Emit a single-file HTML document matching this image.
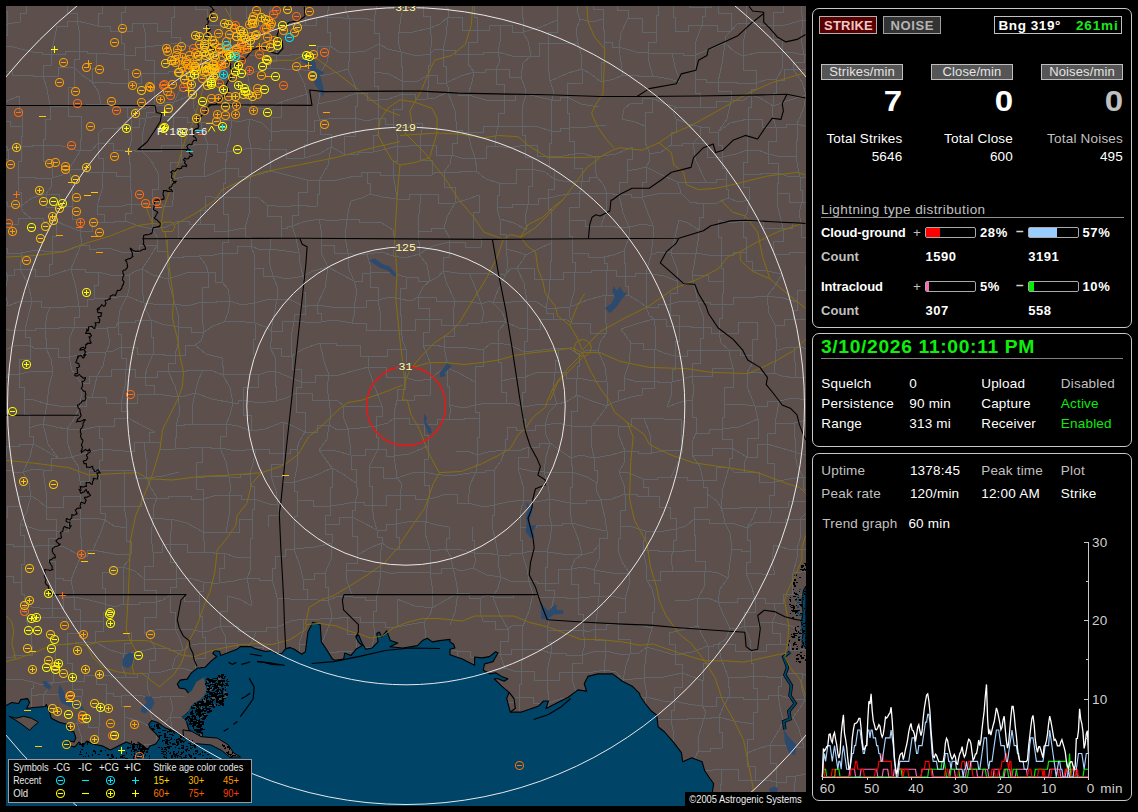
<!DOCTYPE html>
<html><head><meta charset="utf-8"><title>Lightning</title>
<style>
html,body{margin:0;padding:0;background:#000;}
body{width:1138px;height:812px;position:relative;overflow:hidden;font-family:"Liberation Sans",sans-serif;}
.t{position:absolute;white-space:nowrap;font-family:"Liberation Sans",sans-serif;}
.panel{position:absolute;border:1px solid #c8c8c8;border-radius:7px;box-sizing:border-box;}
.btn{position:absolute;box-sizing:border-box;border:1px solid #bdbdbd;background:#555;}
.bar{position:absolute;box-sizing:border-box;border:1px solid #aaa;border-radius:2px;height:11px;width:51px;background:#000;}
.bar i{position:absolute;left:0;top:0;bottom:0;display:block;}
#map{position:absolute;left:6px;top:6px;width:800px;height:800px;overflow:hidden;background:#5d504c;}
</style></head><body>

<div id="map"><svg width="800" height="800" viewBox="6 6 800 800" style="position:absolute;left:0;top:0;display:block;">
<rect x="6" y="6" width="800" height="800" fill="#5d504c"/>
<path d="M-23,-33L-7,-28L6,-28M-23,-33L-24,-18L-29,-4M-29,-4H-13V-2H2M-29,-4L-26,9L-21,28M-21,28H-7V24H7M-21,28V36H-19V43M-19,43H-11V46H-4M-19,43L-22,55L-26,67M-26,67L-15,72L1,71M-30,100L-14,104L1,106M-30,100V110H-33V120M-23,151H-7V150H8M-23,151L-25,165L-29,176M-29,176L-27,183L-20,192M-20,192L-11,197L-6,202M-20,192V210H-20V228M-20,228H-8V224H5M-20,228V236H-28V244M-28,244L-18,246L-7,248M-28,244V258H-18V272M-18,272L-4,276L8,275M-18,272L-23,284L-32,294M-32,294L-14,299L8,306M-32,294V310H-19V327M-19,327H-14V329H-8M-19,327L-19,341L-20,354M-20,354H-9V351H3M-20,354V368H-24V383M-24,383L-16,382L-4,377M-24,383V392H-27V401M-27,401L-15,399L-6,399M-27,401V414H-20V427M-20,427L-11,429L-1,432M-20,427V439H-19V451M-19,451L-9,449L6,446M-19,451L-20,457L-22,468M-22,468L-26,480L-29,497M-29,497V509H-32V521M-32,521L-33,533L-31,546M-31,546L-17,545L2,544M-31,546V560H-23V573M-23,573H-9V576H4M-27,595L-29,616L-29,632M-29,632H-18V622H-8M-29,632L-25,641L-23,652M-23,652L-15,654L-8,657M-23,652L-24,667L-30,679M-30,679L-13,678L6,680M-30,679V688H-30V698M-17,727H-6V732H6M-17,727V740H-24V753M-24,753H-15V750H-7M-24,753L-24,769L-20,779M-20,779L-11,782L-7,779M-20,779V786H-29V793M-29,793H-13V794H4M-29,793L-31,809L-28,821M-28,821H-14V826H-0M-28,821V839H-30V857M6,-28L14,-27L24,-30M6,-28V-15H2V-2M2,-2L12,-1L26,4M2,-2V11H7V24M7,24L13,23L20,22M7,24V35H-4V46M-4,46L13,47L33,52M-4,46V59H1V71M1,71H12V75H24M1,71V89H1V106M1,106L9,100L19,96M1,106V113H-2V121M-2,121H10V126H22M-2,121L3,137L8,150M8,150L16,146L21,146M8,150V159H-7V168M-7,168V185H-6V202M-6,202H7V206H21M-6,202V213H5V224M5,224H18V218H31M5,224L1,236L-7,248M-7,248H7V253H21M-7,248L-2,262L8,275M8,275H14V269H20M8,275L5,292L8,306M8,306L18,302L32,301M-8,329H8V330H25M-8,329L-3,340L3,351M3,351L14,346L30,345M-4,377H7V374H19M-4,377V388H-6V399M-6,399L-3,416L-1,432M-1,432L1,438L6,446M6,446H19V444H33M6,446L6,458L0,470M0,470H12V472H23M7,506H19V496H31M7,506V517H-3V527M-3,527V536H2V544M2,544H13V546H24M2,544L5,562L4,576M4,576H13V582H21M4,576V588H4V600M4,600V611H-8V622M-8,622V640H-8V657M-8,657H13V655H33M6,680L19,679L33,682M6,680L2,684L-3,693M-3,693L3,715L6,732M6,732L13,727L25,720M-7,750H8V743H23M-7,779V787H4V794M4,794L12,797L21,805M4,794V810H-0V826M-0,826H12V824H24M-0,826L1,842L-4,856M24,-30L25,-15L26,4M26,4H35V-3H44M26,4V13H20V22M33,52H42V54H51M24,75H33V76H43M19,96V111H22V126M22,126V136H21V146M21,146H32V145H43M21,146V161H18V177M18,177H35V178H52M18,177V192H21V206M21,206L32,198L46,194M21,206L23,212L31,218M31,218H43V221H56M21,253L36,250L52,252M21,253V261H20V269M20,269H35V276H49M20,269L28,284L32,301M32,301H41V307H50M32,301L28,317L25,330M25,330H35V328H45M25,330V337H30V345M30,345L35,349L46,348M30,345V359H19V374M19,374L34,371L53,372M19,374V387H24V399M24,399L34,400L47,404M24,399V414H29V428M29,428L35,426L43,424M29,428V436H33V444M33,444L43,449L58,458M33,444L30,457L23,472M23,472L34,469L43,470M23,472L29,483L31,496M31,496L38,500L46,507M31,496L27,511L20,524M20,524L38,530L56,531M20,524V535H24V546M24,546H36V545H48M24,546V564H21V582M21,582V594H24V606M24,606L40,608L52,608M24,606V612H26V618M26,618H39V617H52M26,618L31,635L33,655M33,682L42,685L53,682M33,682V688H31V695M31,695H37V694H44M31,695V708H25V720M25,720L23,731L23,743M23,743L37,749L46,752M23,743V763H23V783M23,783L36,777L53,770M23,783V794H21V805M21,805L21,814L24,824M24,824L36,828L50,831M24,824L27,839L32,858M51,-22H62V-29H74M51,-22V-12H44V-3M44,-3L57,3L67,4M57,26H67V21H77M57,26L54,41L51,54M51,54H65V51H79M51,54V65H43V76M43,76H58V67H74M43,76L47,89L50,106M50,106H59V106H68M50,106V119H45V132M45,132V139H43V145M43,145L62,146L80,151M43,145V161H52V178M52,178L62,175L69,169M52,178L51,187L46,194M46,194H59V206H72M46,194V207H56V221M56,221L67,226L80,231M56,221V236H52V252M52,252L64,251L81,245M52,252V264H49V276M49,276L58,273L71,269M50,307H65V306H79M50,307L47,315L45,328M45,328H59V327H74M45,328V338H46V348M46,348H58V357H69M46,348L51,359L53,372M53,372L49,387L47,404M47,404L65,407L80,406M47,404L45,415L43,424M43,424L56,427L67,429M43,424L48,444L58,458M58,458H65V457H72M58,458H51V470H43M43,470L46,491L46,507M46,507H63V496H80M46,507V519H56V531M56,531H68V519H80M56,531V538H48V545M48,545L64,547L81,556M48,545V561H55V578M55,578H63V580H71M55,578V593H52V608M52,608H63V597H74M52,608V612H52V617M52,617H66V621H80M55,647L59,644L67,645M55,647V664H53V682M53,682H62V681H72M53,682L48,689L44,694M44,694H63V696H82M44,694L43,712L44,726M44,726H60V723H77M44,726V739H46V752M46,752H65V751H83M46,752V761H53V770M53,770L65,772L82,769M53,770L52,784L52,796M52,796L52,816L50,831M50,831H66V821H82M50,831V837H56V843M74,-29L90,-30L104,-28M74,-29L72,-15L67,4M67,4H84V0H102M67,4V13H77V21M77,21L86,23L98,26M77,21L80,34L79,51M79,51H87V53H96M79,51V59H74V67M74,67L82,75L92,82M74,67V87H68V106M68,106L86,105L101,104M68,106V116H81V126M81,126V139H80V151M80,151L92,150L98,143M80,151L76,158L69,169M69,169H86V172H103M69,169L72,185L72,206M72,206V219H80V231M80,231H92V222H104M80,231V238H81V245M81,245H89V249H97M81,245L76,257L71,269M71,269H85V272H98M71,269L76,288L79,306M79,306H87V299H94M79,306V317H74V327M74,327H90V328H107M74,327L69,340L69,357M69,357L88,353L106,352M69,357L72,370L81,383M81,383H89V376H97M81,383L81,397L80,406M80,406H86V397H92M80,406L74,419L67,429M67,429L82,430L99,426M67,429L67,441L72,457M72,457L89,452L102,449M72,457L78,466L80,481M80,481H89V470H99M80,481L80,489L80,496M80,496V507H80V519M80,519L95,518L105,520M80,519V537H81V556M81,556H87V550H93M81,556L77,565L71,580M71,580L73,590L74,597M74,597L89,600L105,604M74,597V609H80V621M80,621H91V621H103M80,621V633H67V645M67,645L79,642L95,642M67,645V663H72V681M72,681H84V675H96M72,681V689H82V696M82,696L80,711L77,723M77,723H88V727H99M77,723L81,736L83,751M83,751H89V753H95M82,769H91V771H100M82,769V782H83V795M83,795H93V792H102M83,795L81,811L82,821M82,821L94,825L104,829M82,821L77,835L69,849M104,-28L109,-23L120,-18M104,-28L102,-14L102,0M102,0L114,-3L125,-7M102,0V13H98V26M98,26H110V31H121M96,53L109,54L124,55M96,53V68H92V82M92,82H110V83H128M92,82L98,91L101,104M101,104H114V107H127M104,128H118V127H131M104,128L99,133L98,143M98,143H113V150H129M98,143V158H103V172M103,172H116V176H130M103,172L102,190L97,206M97,206L117,207L131,204M97,206V214H104V222M104,222H114V221H125M97,249L109,248L121,252M98,272L114,276L129,275M98,272V285H94V299M94,299L110,298L127,296M107,328L116,327L118,322M107,328L110,343L106,352M106,352L113,351L121,347M106,352L103,366L97,376M97,376H111V369H126M97,376L95,385L92,397M92,397H106V403H121M99,426H114V418H128M99,426V438H102V449M102,449L112,450L124,451M102,449V460H99V470M99,470H111V470H124M99,470L101,490L100,506M100,506L110,507L124,506M100,506V513H105V520M105,520L114,526L126,528M105,520L101,532L93,550M93,550L114,554L131,554M102,572H113V567H123M102,572V588H105V604M105,604L115,607L123,604M105,604V612H103V621M103,621V631H95V642M95,642L110,650L124,654M96,675H111V677H126M96,675V684H106V693M106,693H113V696H121M106,693V710H99V727M99,727L98,738L95,753M95,753H109V753H122M95,753L98,760L100,771M100,771L111,772L123,770M100,771L100,779L102,792M102,792V811H104V829M104,829H115V817H127M104,829V839H94V849M120,-18L129,-23L142,-23M120,-18L123,-15L125,-7M125,-7L134,-5L144,-1M125,-7V12H121V31M121,31H132V23H143M121,31V43H124V55M124,55H135V47H145M124,55V69H128V83M128,83H141V73H154M127,107L143,109L154,105M127,107V117H131V127M131,127H139V118H146M131,127L132,138L129,150M129,150H135V151H142M129,150V163H130V176M130,176V190H131V204M131,204L139,205L152,204M131,204V213H125V221M125,221L139,226L152,229M121,252H139V245H157M129,275L136,271L142,269M129,275L130,286L127,296M127,296L134,299L144,303M127,296L120,310L118,322M118,322H135V320H151M118,322V334H121V347M121,347H137V354H153M121,347V358H126V369M126,369H135V377H145M126,369L125,386L121,403M121,403H137V394H154M121,403V411H128V418M128,418L143,426L155,432M124,451H134V442H144M124,470H135V478H147M124,470V488H124V506M124,506H141V498H157M124,506L126,518L126,528M126,528V541H131V554M131,554L128,561L123,567M123,567L135,571L144,579M123,567V586H123V604M123,604H139V602H156M131,632V643H124V654M124,654L137,652L155,648M124,654L122,666L126,677M126,677H137V673H149M121,696L136,695L150,697M121,696V706H124V717M124,717L139,721L156,730M124,717L125,735L122,753M122,753L134,757L144,757M122,753L122,762L123,770M123,770H138V780H152M123,770V782H124V794M124,794H139V799H153M124,794V806H127V817M127,817L137,825L154,832M127,817V834H123V851M142,-23H159V-25H176M144,-1H159V4H174M143,23H157V31H171M143,23L146,37L145,47M145,47L163,45L180,43M145,47V60H154V73M154,73H168V71H181M154,73L154,89L154,105M154,105H164V102H174M154,105V112H146V118M146,118L159,116L173,117M146,118L143,132L142,151M142,151H161V145H181M142,151L150,159L158,173M158,173V189H152V204M152,204H162V206H172M152,204L153,215L152,229M152,229L166,227L178,221M152,229L157,237L157,245M157,245V251H167V257M157,245L150,257L142,269M142,269L153,275L168,279M142,269L142,287L144,303M144,303L161,305L175,304M144,303L146,310L151,320M151,320L162,324L178,327M151,320V337H153V354M153,354H164V355H175M153,354L147,368L145,377M145,377H157V371H168M145,377V385H154V394M154,394L164,395L178,397M155,432H149V442H144M144,442H160V449H175M144,442L146,459L147,478M147,478L163,476L179,472M147,478L150,486L157,498M157,498H168V496H178M157,498L153,508L153,518M153,518L164,519L171,519M153,518L151,536L153,552M153,552H162V544H170M153,552V566H144V579M144,579L157,579L176,579M144,579V590H156V602M156,602L163,600L170,595M156,602V617H144V633M144,633L159,629L175,629M144,633L151,640L155,648M155,648H169V650H183M155,648V660H149V673M149,673L161,672L172,669M149,673L147,686L150,697M150,697H160V696H170M150,697L151,715L156,730M156,730L164,724L170,717M156,730V744H144V757M144,757L159,753L176,746M144,757V769H152V780M152,780H167V776H183M152,780V790H153V799M153,799L165,796L178,794M153,799V816H154V832M154,832L170,826L181,825M154,832L153,843L146,855M176,-25L185,-28L200,-26M176,-25V-11H174V4M174,4H184V-7H195M174,4V17H171V31M171,31V37H180V43M180,43L194,48L205,48M180,43L181,57L181,71M181,71L184,72L193,77M181,71L181,88L174,102M174,102L184,98L193,94M174,102L171,108L173,117M173,117H187V122H201M173,117V131H181V145M181,145H194V144H208M181,145V162H170V180M170,180L187,176L204,177M170,180L174,195L172,206M178,221H189V224H200M178,221V239H167V257M167,257H183V256H199M167,257V268H168V279M168,279L189,272L208,272M168,279L172,294L175,304M175,304L187,306L202,302M175,304L178,314L178,327M178,327H191V332H204M178,327L179,341L175,355M175,355H185V345H195M175,355V363H168V371M168,371H186V370H203M168,371L175,386L178,397M178,397L185,396L195,393M178,397L180,412L176,425M176,425H184V424H192M176,425V437H175V449M175,449L189,448L202,447M178,496H191V499H203M171,519L187,523L203,532M171,519L171,531L170,544M170,544H187V552H205M170,544V562H176V579M176,579L190,578L203,582M176,579V587H170V595M170,595H184V601H199M170,595V612H175V629M175,629L189,629L202,632M175,629L180,639L183,650M183,650L192,645L205,643M183,650L175,658L172,669M172,669L182,668L195,672M170,696H187V701H204M170,696L173,709L170,717M170,717H183V719H197M170,717L173,732L176,746M176,746H189V753H203M176,746V761H183V776M183,776H195V775H207M183,776L180,785L178,794M178,794L177,812L181,825M181,825V838H181V851M200,-26L211,-23L218,-18M200,-26L199,-14L195,-7M195,-7L213,-5L230,1M195,-7V9H207V25M207,25H220V33H232M207,25V37H205V48M205,48L215,46L228,46M205,48L200,61L193,77M193,77H205V79H218M193,77V86H193V94M193,94L194,109L201,122M201,122H216V120H232M201,122L202,130L208,144M208,144H217V152H226M208,144L205,162L204,177M204,177L212,174L225,168M205,196L212,197L223,197M205,196V210H200V224M200,224H214V231H228M199,256L214,255L222,253M199,256L206,265L208,272M208,272H215V282H222M208,272V287H202V302M202,302H216V301H230M202,302L202,317L204,332M204,332L213,326L224,322M204,332L201,341L195,345M195,345L206,354L222,358M203,370L213,371L223,375M203,370L198,381L195,393M195,393L212,399L233,403M195,393L192,408L192,424M192,424H209V424H226M202,447H211V448H220M202,447V462H196V478M196,478L215,476L229,477M196,478V489H203V499M203,499L217,495L229,495M203,499L203,514L203,532M203,532L216,533L226,532M203,532L204,541L205,552M205,552H214V553H224M203,582H211V583H219M203,582V591H199V601M199,601V616H202V632M202,632L209,631L220,626M202,632V637H205V643M205,643H216V643H226M205,643V658H195V672M195,672H214V682H233M195,672L201,687L204,701M204,701V710H197V719M197,719L214,719L230,725M203,753L217,750L228,750M207,775L204,783L200,793M200,793L214,796L233,796M200,793L198,808L193,824M193,824L207,821L226,823M193,824V835H197V846M230,1L239,4L246,5M230,1L230,20L232,33M232,33H240V32H249M232,33L228,41L228,46M228,46L241,51L250,55M228,46L224,61L218,79M218,79L233,74L247,72M218,79V91H225V102M225,102L236,104L251,108M225,102L225,112L232,120M232,120L238,122L250,119M232,120L230,137L226,152M226,152L239,150L251,148M226,152V160H225V168M225,168H238V176H251M225,168V183H223V197M223,197H236V197H249M223,197V214H228V231M228,231L234,230L245,228M228,231V242H222V253M222,253H237V246H251M222,253L223,265L222,282M222,282L228,289L230,301M230,301L242,305L254,303M230,301L228,313L224,322M224,322L237,321L255,323M222,358V366H223V375M223,375L241,374L258,375M223,375L230,388L233,403M233,403H238V400H243M233,403L230,415L226,424M226,424L238,426L251,431M226,424V436H220V448M220,448L237,451L256,449M220,448L226,462L229,477M229,477H240V474H250M229,477L231,489L229,495M229,495H241V499H254M229,495L229,516L226,532M226,532H239V519H252M224,553L235,557L250,558M224,553V568H219V583M219,583L234,581L247,578M227,596L239,599L252,606M227,596V611H220V626M220,626H238V631H256M220,626L225,636L226,643M226,643H237V647H248M226,643V663H233V682M233,682H243V679H253M224,694L242,694L256,693M224,694L229,709L230,725M230,725L239,728L243,727M230,725V738H228V750M228,750L244,753L257,758M228,750L225,763L221,780M221,780L235,779L254,774M221,780L228,788L233,796M233,796L237,797L244,802M233,796V810H226V823M226,823L238,824L256,824M226,823L227,837L232,850M256,-19H262V-20H268M256,-19V-7H246V5M246,5L256,3L272,-2M246,5V18H249V32M249,32H259V25H269M249,32L248,44L250,55M250,55L266,56L276,55M247,72L255,72L270,68M247,72L251,92L251,108M251,108L269,108L281,102M250,119L262,123L271,132M250,119L248,134L251,148M251,148H260V149H269M251,148L252,159L251,176M251,176L261,174L271,171M251,176L249,188L249,197M249,197L259,198L267,205M249,197L249,214L245,228M245,228V237H251V246M251,246L260,250L270,249M251,246L255,257L254,268M254,268H263V276H273M254,268V285H254V303M254,303L266,300L277,299M254,303L254,312L255,323M255,323L266,327L271,331M255,323V339H253V355M258,375L267,372L275,371M258,375V387H243V400M243,400L259,403L276,401M243,400V415H251V431M251,431L265,429L283,422M256,449H269V453H283M256,449L253,463L250,474M250,474V486H254V499M254,499L269,504L278,504M254,499V509H252V519M252,519V538H250V558M250,558L251,569L247,578M247,578H259V580H272M247,578L250,594L252,606M256,631H266V627H277M256,631L253,640L248,647M248,647H263V654H278M248,647L252,662L253,679M253,679L266,680L278,680M253,679L257,686L256,693M256,693L264,701L277,706M256,693L249,711L243,727M243,727L252,745L257,758M257,758L255,764L254,774M254,774L268,770L279,768M254,774V788H244V802M244,802H258V804H272M244,802V813H256V824M256,824H263V819H270M256,824V840H253V856M268,-20H284V-18H300M268,-20L271,-11L272,-2M272,-2H288V-4H305M272,-2L270,11L269,25M269,25L287,26L305,25M269,25V40H276V55M276,55H290V54H305M276,55V61H270V68M270,68H284V69H297M281,102L294,98L307,94M281,102V117H271V132M271,132L289,130L307,131M271,132V140H269V149M269,149H286V158H304M269,149L270,159L271,171M271,171L291,176L307,180M267,205L284,207L298,205M267,205V216H281V228M281,228H287V226H292M281,228V238H270V249M270,249L286,251L299,253M270,249L269,261L273,276M273,276L287,279L303,276M273,276L277,286L277,299M277,299L291,300L305,307M277,299L274,315L271,331M271,331H282V321H294M271,331L272,337L270,348M270,348H281V356H292M270,348L275,357L275,371M275,371L289,377L301,382M275,371V386H276V401M276,401L286,398L296,393M283,422L293,426L305,432M283,422L283,436L283,453M283,453H290V449H297M283,453V464H271V476M271,476H283V482H294M271,476L276,491L278,504M278,504V515H268V527M275,556H285V549H294M275,556V568H272V580M272,580L275,589L277,598M277,598L290,599L307,599M277,598V612H277V627M277,627L291,621L304,619M277,627V640H278V654M278,654L278,668L278,680M278,680L287,679L300,674M278,680V693H277V706M277,706L293,699L307,693M277,706V714H277V722M277,722L287,722L298,724M277,722V737H274V751M274,751H291V756H307M274,751V760H279V768M279,768L277,786L272,804M272,804H286V808H301M272,804V812H270V819M270,819H284V823H298M270,819V838H276V858M300,-18H316V-26H331M300,-18V-11H305V-4M305,-4L319,-0L328,2M305,-4V10H305V25M305,25H316V17H327M305,54H317V46H330M305,54L301,61L297,69M297,69L311,71L319,76M297,69L304,83L307,94M307,94L307,113L307,131M307,131H314V120H320M307,131V144H304V158M304,158L319,154L331,147M307,180L315,180L319,181M307,180V192H298V205M298,205H307V206H317M298,205V215H292V226M292,226L303,222L319,219M292,226L296,238L299,253M299,253L300,263L303,276M303,276L313,271L328,267M303,276V292H305V307M305,307L310,305L317,305M305,307V314H294V321M294,321L305,322L321,322M294,321L291,338L292,356M292,356L303,349L320,343M292,356V369H301V382M301,382H315V375H329M301,382V387H296V393M296,393H312V400H329M296,393V412H305V432M305,432H317V425H329M305,432L299,442L297,449M297,449L297,467L294,482M294,482L312,477L332,468M294,482V491H297V500M297,500H313V506H330M297,500V516H294V531M294,531L294,539L294,549M294,549L315,547L332,543M294,549L300,566L303,579M303,579H314V573H325M303,579V589H307V599M307,599L318,600L328,600M304,619L320,619L332,618M304,619L303,632L299,644M299,644H308V652H318M299,644V659H300V674M300,674L309,672L318,671M300,674V683H307V693M307,693H317V701H327M307,693L304,710L298,724M298,724L311,726L322,733M298,724V740H307V756M307,756L298,765L294,778M294,778L311,771L327,769M294,778L298,795L301,808M301,808H314V806H328M301,808V816H298V823M298,823L310,829L327,829M298,823L295,833L295,844M331,-26L341,-26L349,-29M331,-26V-12H328V2M328,2V10H327V17M327,17L337,17L349,19M327,17V32H330V46M330,46L339,52L349,53M330,46L327,62L319,76M319,76L331,74L348,69M319,76L321,88L318,104M318,104L337,100L357,93M318,104L317,112L320,120M320,120L337,118L355,118M320,120V134H331V147M331,147L337,150L344,154M331,147L328,165L319,181M319,181L337,180L355,176M319,181V194H317V206M319,219L331,221L347,219M319,219L322,235L321,245M321,245H334V253H348M321,245L322,255L328,267M328,267L341,274L354,281M328,267L325,288L317,305M317,305L338,308L354,307M317,305V313H321V322M321,322L334,320L352,323M320,343H336V345H351M320,343L324,361L329,375M329,375L339,375L353,371M329,375L327,388L329,400M329,400L338,401L344,406M329,400L331,415L329,425M329,425L337,430L348,429M329,425L327,439L319,450M319,450L336,451L351,455M319,450L326,460L332,468M332,468L343,474L356,483M332,468V487H330V506M330,506L344,504L355,502M330,506V515H325V524M325,524H339V517H352M325,524V534H332V543M332,543L331,559L325,573M325,573V587H328V600M328,600L339,596L353,597M328,600L331,611L332,618M332,618H339V617H347M332,618L326,633L318,652M318,652H337V651H356M318,652L316,659L318,671M318,671L332,668L348,669M318,671L325,687L327,701M327,701H340V692H352M327,701V717H322V733M322,733H338V720H354M322,733V741H325V749M325,749V759H327V769M327,769L327,790L328,806M328,806H341V801H354M328,806L330,819L327,829M327,829L333,825L343,818M327,829L325,840L329,845M349,-29L363,-26L378,-29M349,-29L348,-17L347,-1M347,-1L363,2L378,-0M347,-1L345,9L349,19M349,19L364,18L374,21M349,19V36H349V53M349,53L365,51L379,44M349,53V61H348V69M348,69L354,83L357,93M357,93H367V100H378M357,93V106H355V118M355,118L367,121L378,118M355,118V136H344V154M344,154H358V152H373M355,176H361V172H367M351,201L362,198L370,194M351,201L349,208L347,219M347,219H359V222H371M347,219L345,237L348,253M348,253L356,255L367,254M348,253L348,267L354,281M354,281H362V273H370M354,281L357,291L354,307M354,307H366V300H378M354,307L354,316L352,323M352,323H366V330H380M351,345H360V356H368M353,371L361,369L368,367M344,406H363V406H382M344,406L343,416L348,429M348,429L360,428L376,426M348,429L350,444L351,455M351,455H365V449H378M351,455V469H356V483M356,483L358,493L355,502M355,502H364V505H372M355,502V510H352V517M352,517L362,522L377,530M352,517V536H357V555M357,555L372,547L382,543M357,555V563H346V570M346,570H363V571H381M346,570L347,581L353,597M353,597H365V600H376M347,617H360V622H373M347,617V634H356V651M356,651H364V647H372M356,651L355,661L348,669M348,669L359,675L370,675M348,669V681H352V692M352,692L359,694L369,700M352,692L352,708L354,720M354,720L369,722L381,723M354,720L353,735L349,747M349,747L349,760L348,779M348,779L364,774L380,771M348,779V790H354V801M354,801H362V795H369M343,818H360V829H377M343,818L346,836L345,852M378,-29L389,-26L404,-25M378,-29V-14H378V-0M378,-0L392,4L404,4M378,-0L376,10L374,21M374,21V33H379V44M379,44L388,49L401,52M379,44V58H374V72M374,72L389,74L402,81M374,72V86H378V100M378,100L389,99L402,94M378,100V109H378V118M378,118H385V124H393M378,118V135H373V152M373,152L387,149L397,146M367,172H380V175H393M367,172V183H370V194M370,194L383,197L397,199M371,222L382,223L393,230M367,254L382,252L393,256M367,254L370,265L370,273M370,273L388,272L406,277M370,273V287H378V300M378,300L390,297L400,299M378,300L381,317L380,330M380,330L390,331L401,330M368,356H387V349H406M368,356L369,364L368,367M368,367H386V377H405M368,367L374,385L382,406M382,406V416H376V426M376,426L388,423L394,418M376,426V437H378V449M378,449H386V456H394M378,449L374,457L369,467M369,467H383V478H397M369,467V486H372V505M372,505H386V495H400M372,505L374,520L377,530M377,530H386V524H396M377,530V537H382V543M382,543L389,548L399,550M382,543L380,557L381,571M381,571L389,573L395,573M381,571L379,587L376,600M376,600V611H373V622M373,622H385V627H397M373,622L375,633L372,647M372,647L372,661L370,675M370,675V688H369V700M369,700H386V697H403M369,700L374,711L381,723M381,723L390,727L404,728M381,723V739H379V755M379,755L392,756L407,756M379,755V763H380V771M380,771H389V776H397M380,771L372,785L369,795M369,795L382,799L394,798M369,795L372,812L377,829M377,829H392V828H407M377,829L380,839L377,845M404,-25H418V-28H432M404,-25L401,-12L404,4M404,4L412,5L423,5M404,4L401,17L399,32M399,32L413,32L430,28M399,32L398,42L401,52M401,52L417,56L430,54M401,52V66H402V81M402,81L418,81L428,75M402,81L402,90L402,94M402,94H415V99H427M402,94V109H393V124M393,124H408V123H423M393,124L397,135L397,146M397,146L409,146L420,145M397,146V161H393V175M393,175L413,175L432,175M393,175L395,185L397,199M397,199H409V194H421M393,230L395,242L393,256M393,256L405,258L419,254M406,277H418V281H430M406,277V288H400V299M400,299L411,301L418,297M400,299V315H401V330M401,330H415V319H429M401,330L403,342L406,349M406,349V363H405V377M405,377L417,381L430,379M405,377V389H397V400M397,400H414V395H430M397,400L395,409L394,418M394,418H409V424H424M394,418L394,437L394,456M394,456L409,454L428,446M394,456L396,470L397,478M397,478L412,473L424,472M397,478L402,484L400,495M400,495H415V499H429M400,495V509H396V524M396,524L412,521L426,522M396,524V537H399V550M399,550L412,549L430,550M395,573L411,572L430,573M397,599L415,606L432,608M397,599V613H397V627M397,627L412,624L424,622M405,652H414V650H423M405,652V660H393V669M393,669L413,676L432,680M393,669V683H403V697M403,697L415,698L430,694M403,697L402,710L404,728M404,728V742H407V756M407,756H419V751H431M407,756V766H397V776M397,776L405,780L419,781M394,798L412,799L431,797M407,828H418V821H429M407,828V840H398V852M432,-28H441V-18H449M432,-28V-12H423V5M423,5L432,-0L446,-1M423,5V16H430V28M430,28L440,24L448,17M430,28L432,41L430,54M430,54L435,49L443,50M430,54V65H428V75M428,75H437V83H446M428,75V87H427V99M427,99L435,98L448,92M423,123L421,135L420,145M420,145H436V155H452M420,145V160H432V175M432,175L436,172L444,172M421,194H438V203H455M421,194L419,214L418,231M418,231H431V228H444M418,231V242H419V254M419,254L433,246L449,242M419,254L427,265L430,281M430,281L438,277L443,271M430,281L423,287L418,297M418,297H436V301H455M418,297V308H429V319M429,319H441V325H454M429,319V332H423V345M423,345L435,345L444,347M423,345L430,362L430,379M430,379L440,371L447,368M430,379L431,385L430,395M424,424H437V419H449M424,424V435H428V446M428,446V459H424V472M424,472L434,474L442,475M424,472V485H429V499M429,499L437,497L446,494M429,499L426,512L426,522M426,522L437,525L449,527M426,522L425,533L430,550M430,550H438V549H446M430,550V561H430V573M430,573H441V568H453M430,573L433,592L432,608M432,608L446,600L458,593M432,608L430,615L424,622M424,622L426,635L423,650M423,650L440,648L458,651M423,650V665H432V680M432,680H440V675H448M432,680L432,687L430,694M430,694H441V708H452M430,694V711H421V727M421,727L436,722L446,717M421,727L429,740L431,751M431,751H443V748H455M431,751L422,768L419,781M419,781H436V777H454M419,781V789H431V797M431,797L442,799L454,804M431,797V809H429V821M429,821H438V818H447M429,821V833H431V844M449,-18L458,-22L470,-21M449,-18L449,-9L446,-1M446,-1V8H448V17M448,17H462V30H477M448,17L446,36L443,50M443,50H455V54H468M443,50V66H446V83M446,83L461,76L474,72M446,83L449,89L448,92M448,92H458V95H468M448,92L455,111L457,130M457,130H462V132H468M457,130V143H452V155M452,155L461,158L475,158M452,155L450,164L444,172M444,172H460V171H476M444,172V187H455V203M455,203L468,199L479,195M455,203L447,217L444,228M444,228L449,237L449,242M449,242H465V247H481M449,242V257H443V271M443,271L457,273L469,273M443,271L447,284L455,301M455,301L468,301L481,304M455,301L453,313L454,325M454,325H467V323H481M454,325V336H444V347M444,347L461,347L483,350M444,347L446,357L447,368M447,368L459,373L475,382M447,368V386H449V405M449,405L464,408L475,405M449,405L451,409L449,419M449,419H464V418H479M456,452L468,451L477,455M442,475L457,475L476,472M446,494H457V503H468M449,527V538H446V549M446,549L462,550L474,553M446,549L451,557L453,568M453,568L461,571L473,568M453,568L456,581L458,593M458,593H469V598H481M458,593L455,612L450,625M458,651H470V657H483M458,651L456,663L448,675M448,675H458V677H468M452,708H462V705H473M452,708V712H446V717M446,717H462V732H478M446,717V732H455V748M455,748H462V752H469M455,748L457,762L454,777M454,777L456,789L454,804M454,804H461V804H468M447,818H460V823H473M447,818L446,839L451,855M470,-21H486V-18H503M470,-21L474,-7L474,3M474,3V17H477V30M477,30H489V25H501M477,30V42H468V54M468,54H483V52H498M468,54L468,64L474,72M474,72H485V69H496M474,72L472,82L468,95M468,95L486,100L504,100M468,95V114H468V132M468,132H483V126H498M468,132L471,146L475,158M475,158H486V146H496M475,158V164H476V171M476,171L486,179L499,183M479,195V212H473V229M473,229V238H481V247M469,273H488V274H506M469,273L475,287L481,304M481,304L490,301L493,303M481,304L484,313L481,323M481,323L495,321L506,322M483,350L490,344L498,343M483,350V366H475V382M475,382V393H475V405M475,405L488,403L506,403M475,405V412H479V418M479,418V437H477V455M477,455L488,452L505,450M477,455V464H476V472M476,472H485V470H494M476,472L470,485L468,503M468,503L484,507L494,505M472,527V540H474V553M474,553L487,553L498,555M474,553L476,561L473,568M473,568L487,575L501,577M481,598L487,595L493,597M481,598L480,612L483,621M483,621H495V629H508M483,657H492V654H500M483,657V667H468V677M468,677L489,672L505,668M473,705L492,704L508,702M473,705L473,717L478,732M478,732L490,730L499,728M469,752L476,760L480,768M480,768H492V777H504M468,804L484,804L495,807M468,804V814H473V823M473,823H486V832H499M473,823V837H476V852M503,-18V-7H498V4M498,4L512,5L522,3M501,25H512V32H523M501,25L500,42L498,52M498,52L512,56L531,56M498,52L500,61L496,69M496,69H509V77H521M496,69V84H504V100M504,100H515V94H526M504,100V113H498V126M498,126L507,127L522,126M498,126L495,139L496,146M496,146L509,148L525,145M499,183H516V169H532M499,183V195H497V207M497,207H512V204H528M497,207L498,212L500,219M500,219L514,223L527,230M500,219V234H506V249M506,249L518,252L526,255M506,249L508,264L506,274M506,274L511,268L517,268M506,274L498,290L493,303M493,303L511,302L527,301M493,303L502,312L506,322M506,322L519,328L527,329M506,322L499,330L498,343M498,343L510,345L524,352M498,343V362H501V381M501,381L510,379L525,377M501,381V392H506V403M506,403L513,403L522,407M507,427H516V430H525M507,427V439H505V450M505,450L519,451L528,447M505,450L501,461L494,470M494,470V487H494V505M494,505L507,502L524,500M494,505V515H492V526M492,526L496,543L498,555M498,555H510V553H522M498,555L498,564L501,577M501,577L512,582L529,581M501,577L498,588L493,597M493,597H513V594H533M493,597L499,613L508,629M508,629L513,625L523,626M508,629V641H500V654M500,654H511V649H522M500,654L503,663L505,668M505,668L514,671L521,671M508,702H513V697H519M508,702V715H499V728M499,728L511,728L523,727M499,728V742H498V756M498,756L511,756L521,756M498,756L498,769L504,777M504,777L512,777L520,772M504,777V792H495V807M495,807L509,801L526,797M495,807L499,819L499,832M499,832H514V825H529M499,832L495,839L493,844M519,-30V-14H522V3M522,3H540V0H557M522,3V18H523V32M523,32L541,27L557,20M523,32L528,41L531,56M531,56H539V43H548M531,56L523,63L521,77M521,77L525,88L526,94M526,94L539,97L552,100M526,94L522,109L522,126M522,126L538,127L551,131M522,126V135H525V145M525,145H537V156H549M525,145V157H532V169M532,169L545,172L554,179M532,169V186H528V204M528,204H538V198H548M528,204L525,218L527,230M526,255L538,249L551,243M526,255L523,260L517,268M517,268H534V279H550M517,268L524,283L527,301M527,301L537,302L546,308M527,301V315H527V329M527,329H540V319H553M527,329V341H524V352M524,352L542,350L558,348M524,352L526,366L525,377M525,377L538,372L555,372M525,377V392H522V407M522,407L542,404L557,404M522,407V419H525V430M525,430H535V425H545M528,447H539V443H550M528,447V457H518V468M518,468L531,471L544,472M518,468L523,486L524,500M524,500L537,502L550,499M524,500L520,513L520,527M520,527H536V525H552M520,527V540H522V553M522,553L533,551L547,552M522,553L527,569L529,581M529,581H537V583H545M529,581L531,588L533,594M533,594L540,597L554,597M533,594L529,611L523,626M523,626L522,638L522,649M522,649L537,649L551,653M522,649V660H521V671M521,671H534V680H547M521,671V684H519V697M519,697H533V703H548M519,697V712H523V727M523,727L539,728L558,726M523,727V741H521V756M521,756H538V754H555M521,756L521,766L520,772M520,772L538,772L553,767M520,772L525,784L526,797M526,797L538,803L550,807M526,797L526,811L529,825M529,825L544,827L555,829M547,-33L559,-30L576,-30M547,-33V-16H557V0M557,0L557,12L557,20M557,20V32H548V43M548,43L560,43L578,43M548,43L548,65L550,81M550,81L568,73L582,69M550,81L554,93L552,100M552,100H560V97H567M552,100L551,117L551,131M551,131H560V128H569M551,131V143H549V156M549,156L563,156L574,154M549,156V168H554V179M554,179L567,182L582,181M554,179V189H548V198M548,198L562,195L579,193M548,198V209H551V220M551,220V232H551V243M551,243V261H550V279M550,279H563V272H575M550,279L549,292L546,308M546,308H558V307H570M546,308V313H553V319M553,319L565,319L572,323M558,348L570,349L579,354M558,348V360H555V372M555,372H566V378H577M555,372L553,390L557,404M557,404L566,402L577,395M557,404L549,412L545,425M545,425L557,423L571,426M545,425L546,435L550,443M550,443L558,449L571,458M550,443L546,457L544,472M544,472L556,473L572,472M544,472L548,485L550,499M550,499L560,501L570,503M550,499L549,515L552,525M552,525H562V523H572M552,525L550,540L547,552M547,552L562,554L582,555M547,552V567H545V583M545,583H558V569H571M545,583V590H554V597M554,597H566V598H578M554,597L550,615L547,630M547,630H565V630H583M547,630V642H551V653M551,653H566V655H582M551,653L548,667L547,680M547,680H559V672H572M547,680V691H548V703M548,703L563,698L578,698M548,703V715H558V726M558,726L567,726L574,721M558,726V740H555V754M555,754L566,749L575,745M555,754V761H553V767M553,767L565,772L576,782M553,767V787H550V807M550,807L566,802L578,794M550,807V818H555V829M555,829H566V826H577M555,829V841H551V854M576,-30L586,-25L600,-23M576,-30V-14H577V2M577,2H585V-1H593M577,2L577,12L580,19M580,19L592,22L603,19M580,19L576,30L578,43M578,43L581,54L582,69M582,69L591,74L601,82M582,69V83H567V97M567,97L581,104L599,107M567,97V113H569V128M569,128L588,127L606,125M569,128V141H574V154M574,154L582,153L595,157M574,154V168H582V181M582,181H589V177H597M582,181L581,190L579,193M579,193H593V193H607M579,193V207H569V220M569,220H585V226H601M569,220V236H572V253M572,253H588V257H604M572,253V262H575V272M575,272H591V270H607M575,272L574,292L570,307M570,307L587,300L606,295M570,307L569,315L572,323M572,323H590V333H607M579,354L587,350L598,350M579,354V366H577V378M577,378L594,381L607,382M577,378L576,384L577,395M577,395L589,400L607,406M577,395V411H571V426M571,426H582V426H592M571,426V442H571V458M571,458L580,455L594,458M571,458V465H572V472M572,472L587,477L597,483M572,472V487H570V503M570,503H586V500H601M570,503L570,511L572,523M572,523L590,528L607,531M572,523L579,541L582,555M582,555L593,552L599,545M582,555L575,559L571,569M571,569L584,567L594,570M571,569V584H578V598M578,598L590,597L599,596M578,598V614H583V630M583,630L588,632L595,629M583,630L585,644L582,655M582,655L593,652L605,651M582,655V663H572V672M572,672L588,673L604,670M572,672L573,683L578,698M578,698L577,710L574,721M574,721L575,736L575,745M575,745L582,749L593,753M575,745L573,761L576,782M576,782L586,774L595,769M576,782V788H578V794M578,794H588V796H597M578,794L580,809L577,826M577,826L584,822L596,821M577,826V840H571V853M600,-23L608,-24L622,-21M600,-23V-12H593V-1M593,-1L605,-1L617,2M593,-1V9H603V19M603,19V30H604V42M604,42H612V47H619M604,42V62H601V82M601,82L614,79L623,75M595,157L616,154L632,147M595,157L595,168L597,177M597,177L603,184L607,193M607,193H613V194H619M607,193L606,212L601,226M601,226H615V227H629M604,257L613,255L624,251M604,257V263H607V270M607,270H616V276H625M607,270L606,281L606,295M606,295H617V295H628M606,295L605,313L607,333M607,333L601,340L598,350M598,350L605,367L607,382M607,382V394H607V406M607,406L612,403L618,401M607,406L600,416L592,426M592,426L607,425L618,426M592,426L591,443L594,458M594,458L611,455L625,451M594,458V470H597V483M597,483L596,490L601,500M601,500L612,499L625,494M601,500L605,518L607,531M607,531V538H599V545M599,545L599,559L594,570M594,570L612,573L630,574M594,570V583H599V596M599,596L612,596L625,599M599,596L597,614L595,629M595,629H606V624H618M595,629V640H605V651M605,651L619,654L630,654M605,651L605,660L604,670M604,670L616,672L623,680M604,670V688H606V706M606,706L618,703L629,701M606,706V716H605V725M605,725L613,726L618,723M605,725V739H593V753M593,753H606V758H618M593,753V761H595V769M597,796L615,792L632,793M597,796V808H596V821M596,821H610V829H624M596,821L600,836L604,857M622,-21L635,-26L652,-26M617,2L638,-2L658,-2M617,2V10H628V18M628,18H642V32H656M628,18L621,33L619,47M619,47L636,52L648,53M619,47L621,62L623,75M623,75H638V76H653M631,103H642V98H652M631,103L624,109L622,119M622,119L635,122L645,126M632,147V159H627V171M627,171L638,169L646,167M627,171V182H619V194M619,194H631V197H642M619,194L623,213L629,227M629,227L643,224L653,226M629,227L629,237L624,251M624,251V263H625V276M625,276H635V273H646M625,276V286H628V295M628,295L640,302L646,307M621,329L639,323L654,319M621,329L626,336L631,343M631,343H643V349H655M631,343L629,363L624,378M624,378L637,382L654,381M624,378V390H618V401M618,401L631,397L642,395M618,426H631V418H644M618,426L619,436L625,451M625,451H638V453H652M625,451L624,463L619,472M619,472L629,473L643,479M619,472L624,485L625,494M625,494H637V496H648M625,494V510H620V526M620,526L630,526L645,531M620,526V538H618V550M618,550L622,562L630,574M630,574L629,585L625,599M625,599V612H618V624M618,624L634,624L652,628M618,624V639H630V654M630,654L639,653L647,647M630,654L626,665L623,680M623,680L633,679L644,678M623,680V691H629V701M629,701L635,697L646,697M629,701V712H618V723M618,723V740H618V758M618,758L628,764L632,768M632,768V780H632V793M632,793L629,813L624,829M624,829H640V828H657M624,829L627,844L629,858M652,-26H663V-31H674M652,-26V-14H658V-2M658,-2V15H656V32M656,32V42H648V53M648,53H660V53H672M648,53L649,62L653,76M653,76L669,79L680,82M652,98L663,103L676,107M652,98V112H645V126M645,126L645,142L650,154M650,154L661,152L671,145M650,154L649,162L646,167M646,167L660,174L677,182M646,167V182H642V197M642,197L662,193L681,193M642,197L648,213L653,226M653,226L653,239L651,255M651,255L659,252L671,253M651,255L649,262L646,273M646,273L664,276L677,281M646,273L646,291L646,307M646,307H658V304H670M646,307L649,315L654,319M654,319H666V326H679M654,319L656,332L655,349M655,349L664,353L675,356M655,349L654,363L654,381M654,381L663,383L672,382M654,381V388H642V395M644,418L664,419L682,419M644,418L650,435L652,453M652,453L667,450L683,450M643,479H657V477H671M643,479V487H648V496M648,496H659V507H670M645,531L658,532L676,529M645,531V540H643V550M643,550H658V551H673M643,550L646,564L647,580M647,580H660V571H673M647,580L652,589L654,597M654,597V612H652V628M652,628L649,639L647,647M647,647L664,652L675,655M647,647L645,664L644,678M644,678L664,677L682,673M644,678L646,690L646,697M646,697L663,701L674,701M646,697L645,715L643,732M643,732H657V719H671M643,732L651,743L656,757M656,757H664V757H671M656,757V765H652V774M652,774L662,775L676,774M652,774V791H650V808M650,808H660V797H669M650,808V818H657V828M657,828L664,828L673,830M657,828V837H655V847M674,-31H688V-29H703M674,-31L675,-16L673,4M673,4H689V7H705M673,4V17H675V31M675,31H688V25H702M672,53H683V55H695M672,53L675,67L680,82M676,107H688V107H700M676,107L673,112L676,119M676,119L688,124L701,127M676,119V132H671V145M671,145H682V143H693M677,182H691V182H706M677,182L680,189L681,193M681,193L690,202L703,204M679,220L688,223L699,230M679,220L675,237L671,253M671,253H683V253H696M671,253L677,269L677,281M677,281V293H670V304M670,304L682,301L698,302M670,304V315H679V326M679,326H691V327H703M679,326V341H675V356M675,356H687V350H700M675,356V369H672V382M672,382L680,380L692,376M672,382L671,396L667,407M667,407L681,402L692,400M682,419L681,434L683,450M683,450L677,465L671,477M671,477H687V480H703M670,507V518H676V529M676,529L686,526L694,519M676,529V540H673V551M673,551H684V550H695M673,551L671,558L673,571M673,571H689V571H705M675,600L686,601L698,598M669,633L681,630L698,626M669,633V644H675V655M675,655L692,652L708,646M675,655V664H682V673M682,673L693,677L703,681M682,673V687H674V701M674,701L688,704L702,706M674,701V710H671V719M671,719H687V718H704M671,719L674,736L671,757M671,757L676,765L676,774M676,774L687,769L693,767M676,774L674,787L669,797M669,797L684,797L695,800M669,797L674,815L673,830M673,830H686V830H699M673,830L675,844L675,852M703,-29L711,-28L719,-25M703,-29L706,-11L705,7M705,7H711V-5H718M705,7V16H702V25M702,25H717V31H731M702,25L696,41L695,55M695,55L708,50L725,43M695,55L696,67L695,79M695,79H706V82H718M695,79V93H700V107M700,107H716V101H731M701,127H709V132H718M701,127L700,136L693,143M693,143H707V157H722M693,143L696,161L706,182M706,182H716V179H726M703,204L717,203L728,198M703,204V217H699V230M699,230L698,241L696,253M696,253L708,255L721,255M696,253L694,265L692,275M692,275H708V281H723M692,275L695,289L698,302M698,302H710V304H722M698,302L703,316L703,327M703,327H711V333H719M703,327V338H700V350M700,350H714V350H729M700,350V363H692V376M692,376H712V368H733M692,376L694,391L692,400M692,400V417H696V433M696,433H709V429H722M696,433L692,442L692,455M692,455H712V448H732M692,455L700,467L703,480M703,480H716V467H729M703,480V487H707V494M707,494L717,501L721,508M707,494V507H694V519M694,519H709V523H725M694,519V535H695V550M695,550V561H705V571M705,571L718,573L728,578M705,571L704,587L698,598M698,598L708,598L718,602M698,598L697,611L698,626M698,626L702,635L708,646M708,646H713V644H718M708,646V663H703V681M703,681L702,694L702,706M702,706H716V697H729M702,706L706,712L704,718M704,718H711V717H719M704,718L699,735L698,751M698,751H710V748H722M698,751L694,761L693,767M693,767L706,771L721,769M693,767L696,782L695,800M695,800L709,800L720,799M695,800V815H699V830M699,830V843H701V856M719,-25V-15H718V-5M718,-5L734,-0L747,-2M718,-5V13H731V31M731,31L737,24L747,23M731,31L726,36L725,43M725,43L735,52L743,56M725,43L722,64L718,82M718,82H737V83H756M718,82V91H731V101M731,101L744,100L751,95M731,101L727,119L718,132M718,132L730,123L748,119M718,132V145H722V157M722,157L736,154L747,150M722,157V168H726V179M726,179V189H728V198M728,198L739,202L749,200M718,220L731,223L743,221M718,220V237H721V255M721,255H733V252H746M721,255V268H723V281M723,281V293H722V304M722,304H733V297H744M722,304V318H719V333M719,333H738V322H757M719,333L721,343L729,350M729,350H740V355H752M729,350L730,357L733,368M733,368V387H724V405M724,405L738,404L755,406M724,405V417H722V429M722,429L739,427L758,419M722,429V439H732V448M732,448L740,453L747,457M732,448V458H729V467M729,467L734,472L745,472M729,467L723,488L721,508M721,508H739V507H757M721,508L723,513L725,523M725,523L735,524L747,528M725,523L730,533L732,549M732,549H741V551H750M732,549L730,562L728,578M728,578L720,589L718,602M718,602H737V598H755M718,602L724,616L730,628M730,628L737,629L744,626M730,628L726,639L718,644M718,644H735V651H751M718,644L721,658L728,677M728,677L741,678L753,676M728,677V687H729V697M729,697H743V699H757M729,697L723,707L719,717M719,717L734,721L753,724M719,717V732H722V748M721,769H738V780H755M721,769V784H720V799M720,799H734V800H749M720,799L726,812L726,824M726,824L737,819L752,821M743,-23V-13H747V-2M747,-2L764,-2L783,-0M747,-2L746,11L747,23M747,23H760V25H773M747,23L744,39L743,56M743,56L760,52L782,53M743,56V70H756V83M756,83L769,79L776,80M756,83V89H751V95M751,95L760,98L773,106M751,95V107H748V119M748,119H762V127H776M748,119V135H747V150M747,150L758,150L768,154M747,150V162H743V174M743,174H760V173H778M743,174V187H749V200M749,200L747,213L743,221M743,221H763V228H783M743,221V237H746V252M746,252V261H752V270M752,270L767,271L782,274M744,297H755V296H767M757,322V339H752V355M752,355L752,364L747,372M747,372H761V373H774M747,372L748,389L755,406M755,406H767V401H779M755,406L757,415L758,419M758,419V438H747V457M747,457H757V444H767M747,457L744,463L745,472M745,472H759V482H774M757,507L764,507L769,507M757,507L753,518L747,528M747,528L756,522L769,522M747,528V540H750V551M750,551V562H746V573M746,573L762,574L775,575M746,573L751,585L755,598M755,598H765V603H774M755,598V612H744V626M744,626H758V622H772M744,626L750,640L751,651M751,651H766V644H780M751,651V663H753V676M753,676H767V677H781M753,676V688H757V699M757,699H768V695H778M757,699V712H753V724M753,724V739H747V753M747,753L757,749L770,745M747,753V766H755V780M755,780L767,780L776,782M749,800L758,801L771,798M749,800L752,811L752,821M752,821L759,823L770,827M752,821L750,836L753,853M783,-0H792V-2H801M783,-0V12H773V25M773,25L785,25L803,20M773,25V39H782V53M782,53L790,52L804,55M782,53L782,69L776,80M776,80H784V69H793M776,80V93H773V106M773,106L790,100L806,95M773,106L772,114L776,127M776,127H786V124H797M776,127V141H768V154M768,154L782,157L796,156M768,154V163H778V173M778,173L787,176L800,177M778,173V183H777V193M777,193H789V202H802M777,193L778,208L783,228M783,228H792V223H801M783,228V241H773V254M773,254H789V252H806M782,274L775,286L767,296M767,296L783,298L797,302M767,296L769,313L775,325M775,325H784V319H793M775,325V338H776V351M776,351L788,347L794,347M776,351L775,364L774,373M774,373L782,376L795,378M779,401L793,398L800,399M779,401L777,413L775,423M775,423H785V423H794M775,423V433H767V444M767,444L781,448L795,452M767,444V463H774V482M774,482L789,479L803,477M774,482V495H769V507M769,507H788V501H808M769,507L772,512L769,522M769,522H785V519H800M774,545L788,549L797,549M774,545L772,562L775,575M774,603H783V594H792M774,603L776,614L772,622M772,622L791,626L805,632M772,622V633H780V644M780,644H790V650H800M781,677L789,673L803,674M781,677V686H778V695M778,695L793,699L805,700M778,695L780,707L783,721M783,721H788V717H793M783,721L779,730L770,745M770,745H787V747H804M770,745V763H776V782M776,782H786V776H796M776,782V790H771V798M771,798V813H770V827M770,827L790,828L804,829M802,-30L811,-27L819,-21M802,-30V-16H801V-2M801,-2H816V-2H830M801,-2L801,10L803,20M803,20L819,20L830,18M803,20L801,38L804,55M804,55L815,53L829,51M804,55V62H793V69M793,69L813,69L833,69M793,69L802,82L806,95M806,95H818V104H830M806,95L804,107L797,124M797,124L809,127L822,133M797,124V140H796V156M796,156L798,168L800,177M800,177H815V174H830M800,177V190H802V202M802,202H817V204H833M802,202L799,212L801,223M801,223V237H806V252M806,252V265H805V278M805,278L819,278L828,277M805,278V290H797V302M797,302V310H793V319M793,319L809,319L820,320M794,347L804,348L818,348M794,347L795,362L795,378M795,378L810,377L821,376M800,399L809,400L822,403M794,423L807,420L822,421M794,423V438H795V452M795,452L811,457L831,458M795,452L797,465L803,477M803,477H815V469H828M803,477V489H808V501M808,501L806,513L800,519M800,519H816V533H832M800,519L801,535L797,549M797,549H814V544H831M797,549L797,558L793,573M793,573L810,571L831,571M793,573L792,581L792,594M792,594H810V605H828M805,632L819,633L829,628M800,650L811,649L825,651M803,674H812V674H821M803,674L801,685L805,700M805,700H815V702H824M805,700L800,708L793,717M793,717L799,729L804,747M796,776L815,772L832,773M796,776L794,789L795,799M795,799V814H804V829M804,829H810V829H817M804,829V837H801V844M819,-21H834V-22H849M819,-21L824,-12L830,-2M830,-2L840,-5L848,-7M830,-2L827,9L830,18M830,18L841,20L851,20M830,18V34H829V51M829,51V60H833V69M833,69L839,72L846,80M830,104H839V101H847M830,104V119H822V133M822,133L838,127L851,125M822,133V140H824V148M824,148L839,150L847,153M824,148L826,160L830,174M833,204L846,199L855,199M821,230H832V231H844M821,230V239H826V248M826,248L837,245L849,242M826,248V262H828V277M828,277L842,272L857,270M828,277V286H820V294M820,294H836V294H853M820,294L819,308L820,320M820,320V334H818V348M818,348L838,348L857,346M818,348L821,364L821,376M821,376L837,371L852,371M821,376L820,389L822,403M822,403L835,403L848,406M822,421V440H831V458M831,458H839V453H847M831,458L828,462L828,469M828,469V487H832V505M832,505L841,501L853,492M832,505L830,518L832,533M832,533H841V519H850M832,533L834,541L831,544M831,544H838V553H846M831,544V558H831V571M831,571H837V578H842M831,571L830,591L828,605M828,605H842V608H855M828,605L826,618L829,628M829,628H839V619H849M829,628V640H825V651M825,651L834,652L843,648M825,651L823,663L821,674M821,674L839,674L854,669M821,674L824,686L824,702M824,702H836V706H847M824,702L830,709L831,718M831,718L839,726L844,729M831,718V732H825V746M825,746H840V744H854M825,746V760H832V773M832,773L845,772L858,769M832,773L834,783L832,797M832,797L843,794L850,792M832,797L822,816L817,829M817,829H835V824H852M817,829L825,843L829,854" fill="none" stroke="#60666a" stroke-width="1" shape-rendering="crispEdges"/>
<path d="M6.0,705.5 L11.8,702.5 L18.7,703.5 L20.7,699.6 L27.6,698.6 L29.6,702.5 L26.6,708.5 L33.5,707.5 L45.4,706.5 L46.3,704.5 L49.3,710.4 L51.3,718.3 L59.2,722.3 L67.0,724.2 L70.0,730.2 L74.0,732.1 L75.9,738.0 L74.0,742.0 L69.0,741.0 L69.0,745.9 L74.9,746.9 L78.9,742.0 L82.8,745.9 L86.8,741.0 L92.7,744.0 L102.5,745.9 L110.4,749.9 L118.3,745.9 L126.2,742.0 L134.1,744.9 L140.0,744.0 L137.9,742.2 L143.8,746.1 L147.7,750.0 L149.7,746.1 L155.6,744.1 L159.6,738.2 L154.6,732.3 L149.7,727.4 L148.7,724.4 L151.7,720.5 L157.6,722.5 L164.5,727.4 L171.4,730.3 L178.3,733.3 L184.2,738.2 L189.1,736.3 L193.1,740.2 L198.0,738.2 L195.0,734.3 L189.1,730.3 L186.2,720.5 L182.2,716.6 L187.1,712.6 L191.1,708.7 L193.1,702.8 L197.0,704.7 L200.0,700.8 L204.9,698.8 L207.8,692.9 L204.9,687.0 L205.9,679.1 L202.9,682.1 L199.0,687.0 L195.0,693.9 L189.1,693.9 L185.2,689.0 L179.3,688.0 L177.3,684.0 L180.2,680.1 L187.1,679.1 L191.1,673.2 L197.0,668.3 L204.9,667.3 L210.8,661.4 L216.7,656.5 L212.8,653.5 L214.7,650.5 L219.7,651.5 L220.6,655.5 L228.5,652.5 L236.4,649.6 L240.3,646.6 L250.2,646.6 L258.1,649.6 L266.0,651.5 L271.9,650.5 L275.8,653.5 L281.7,653.5 L285.7,648.6 L290.0,647.6 L294.3,649.3 L301.7,654.2 L305.4,651.7 L307.9,632.0 L312.8,622.2 L320.2,624.6 L321.4,641.9 L326.4,649.3 L332.5,659.1 L335.0,660.3 L343.6,659.1 L344.8,653.0 L351.0,655.4 L355.9,649.3 L362.0,645.6 L358.4,641.9 L355.9,637.0 L358.4,634.5 L362.0,643.1 L365.8,649.3 L372.0,648.0 L378.0,641.9 L376.8,633.3 L379.3,632.0 L381.8,637.0 L386.7,630.8 L390.4,640.6 L397.8,643.1 L390.0,646.8 L402.7,648.0 L417.5,645.6 L422.4,640.6 L427.3,638.2 L432.3,641.9 L439.7,640.6 L450.0,639.4 L450.0,641.9 L453.7,644.3 L454.9,648.0 L450.0,649.3 L450.0,654.7 L462.3,659.1 L474.6,665.3 L474.6,657.0 L482.0,657.9 L489.4,656.6 L495.6,651.7 L498.0,653.0 L493.1,661.6 L484.5,664.0 L483.3,670.2 L490.6,673.9 L495.6,672.7 L501.7,676.4 L507.9,678.8 L504.2,681.3 L498.0,678.8 L494.3,678.8 L501.7,686.2 L509.1,692.4 L506.7,698.5 L510.3,712.1 L521.4,712.1 L528.8,709.6 L538.7,705.9 L543.6,701.0 L548.5,701.0 L546.0,708.4 L555.9,703.4 L568.2,697.3 L578.0,689.9 L586.7,691.1 L584.2,683.7 L587.9,676.4 L597.8,673.9 L612.6,673.9 L622.4,681.3 L632.3,686.2 L639.7,693.6 L640.0,695.7 L645.2,703.5 L651.6,711.3 L656.8,715.1 L658.1,726.8 L664.6,732.0 L673.6,742.3 L681.4,752.7 L682.7,761.7 L691.7,757.8 L702.1,761.7 L704.7,770.8 L709.9,778.5 L713.7,783.7 L712.4,791.5 L712.4,806.0 L6.0,806.0Z" fill="#004467" stroke="#000" stroke-width="1.1" stroke-linejoin="round"/>
<path d="M6,706 V806 H712" stroke="#004467" stroke-width="2" fill="none"/>
<path d="M8.9,716.3 L15.8,718.3 L23.7,716.3 L31.6,718.3 L38.5,722.3 L33.5,726.2 L29.6,730.2 L21.7,724.2 L15.8,720.3Z" fill="#5d504c" stroke="#000" stroke-width="1"/>
<path d="M806.0,586.0 L803.5,590.0 L802.0,600.0 L803.0,612.0 L801.5,622.0 L803.0,634.0 L802.0,642.0 L804.5,647.0 L806.0,648.0Z" fill="#004467" stroke="#000" stroke-width="1"/>
<path d="M790.0,652.0 L783.6,656.9 L787.5,667.3 L784.9,675.0 L791.4,685.4 L790.0,695.7 L795.2,703.5 L788.8,711.3 L790.0,719.0 L783.6,721.6 L784.9,729.4" fill="none" stroke="#000" stroke-width="3.4"/>
<path d="M790.0,652.0 L783.6,656.9 L787.5,667.3 L784.9,675.0 L791.4,685.4 L790.0,695.7 L795.2,703.5 L788.8,711.3 L790.0,719.0 L783.6,721.6 L784.9,729.4" fill="none" stroke="#004467" stroke-width="2"/>
<path d="M196.4,681.8 L205.5,676.4 L208.6,690.7 L204.6,697.4 L195.7,703.5 L189.0,711.0 L182.2,716.7 L178.1,713.7 L175.4,706.9 L186.3,694.7 L191.7,690.7Z" fill="#5d504c"/>
<path d="M203.9,677.1 L210.7,679.1 L216.1,675.7 L221.5,672.4 L226.9,677.1 L228.3,685.2 L225.6,690.7 L226.9,694.7 L222.8,698.8 L221.5,706.9 L214.7,704.2 L210.7,711.0 L203.9,717.8 L202.5,725.9 L201.2,736.7 L197.1,734.0 L191.7,725.9 L183.6,719.1 L182.2,716.4 L187.6,713.7 L190.3,706.9 L194.4,702.8 L199.8,700.1 L203.9,696.1 L206.6,690.7 L205.2,683.9Z" fill="#004467"/>
<path d="M193,707h2v2h-2zM204,710h3v1h-3zM208,685h2v2h-2zM221,703h1v1h-1zM222,703h2v2h-2zM219,700h3v1h-3zM227,681h2v1h-2zM194,716h2v1h-2zM206,697h2v2h-2zM209,710h2v2h-2zM195,711h1v2h-1zM215,686h3v1h-3zM196,722h1v1h-1zM200,710h3v1h-3zM210,682h1v1h-1zM224,697h2v2h-2zM200,728h3v1h-3zM206,700h1v1h-1zM209,681h2v1h-2zM198,731h3v2h-3zM195,704h3v1h-3zM199,713h2v2h-2zM210,684h1v1h-1zM194,723h1v1h-1zM212,690h2v1h-2zM193,724h1v1h-1zM198,714h3v1h-3zM195,723h1v2h-1zM222,694h1v2h-1zM196,723h2v1h-2zM202,699h2v1h-2zM206,708h1v1h-1zM213,706h2v2h-2zM195,725h1v1h-1zM213,706h2v1h-2zM222,703h1v1h-1zM223,680h1v1h-1zM195,706h2v1h-2zM222,678h3v1h-3zM198,714h3v1h-3zM200,724h3v1h-3zM217,693h2v1h-2zM195,710h2v1h-2zM202,729h2v1h-2zM222,680h1v2h-1zM218,675h1v2h-1zM221,680h1v2h-1zM204,717h2v2h-2zM207,688h3v2h-3zM203,717h2v1h-2zM217,683h3v2h-3zM213,706h2v1h-2zM206,701h1v1h-1zM209,693h1v2h-1zM210,710h2v1h-2zM219,685h3v1h-3zM222,699h2v2h-2zM210,702h3v1h-3zM222,698h1v1h-1zM218,681h3v2h-3zM225,683h1v1h-1zM219,680h2v1h-2zM216,694h1v1h-1zM216,704h1v2h-1zM197,729h1v2h-1zM202,701h3v1h-3zM199,722h2v1h-2zM198,709h3v1h-3zM213,705h1v2h-1zM196,719h1v2h-1zM212,680h3v1h-3zM212,699h2v2h-2zM208,709h2v1h-2zM187,717h3v1h-3zM213,698h1v2h-1zM222,696h2v1h-2zM221,701h2v1h-2zM197,731h2v2h-2zM205,706h2v2h-2zM204,711h1v1h-1zM205,706h2v1h-2zM191,706h1v2h-1zM212,682h2v1h-2zM225,693h2v2h-2zM214,678h3v1h-3zM198,724h1v1h-1zM202,721h2v1h-2zM202,714h2v1h-2zM207,711h1v1h-1zM219,689h2v1h-2zM209,705h1v1h-1zM201,718h1v1h-1zM211,695h1v2h-1zM185,719h2v1h-2zM205,708h1v1h-1zM211,695h1v1h-1zM224,685h2v1h-2zM196,711h2v1h-2zM226,684h2v1h-2zM206,708h3v2h-3zM218,698h2v2h-2zM219,701h2v2h-2zM190,719h3v2h-3zM186,717h1v1h-1zM193,727h1v2h-1zM222,701h2v1h-2zM192,717h1v2h-1zM206,705h3v1h-3zM227,685h2v1h-2zM201,715h1v1h-1zM220,686h3v1h-3zM204,719h1v1h-1zM198,704h1v2h-1zM214,696h1v2h-1zM221,676h1v1h-1zM197,721h1v2h-1zM216,702h3v1h-3zM211,699h2v1h-2zM215,691h3v1h-3zM217,690h2v1h-2zM198,720h2v1h-2zM189,721h2v1h-2zM197,702h3v2h-3zM199,735h2v2h-2zM207,678h2v1h-2zM194,724h2v2h-2zM202,713h1v2h-1zM208,690h1v1h-1zM204,715h3v2h-3zM201,706h1v1h-1zM191,716h3v1h-3zM206,699h1v1h-1zM208,704h2v2h-2zM217,690h2v2h-2zM220,701h2v1h-2zM220,693h2v1h-2zM217,684h1v2h-1zM207,697h1v1h-1zM200,736h2v1h-2zM224,677h1v1h-1zM199,734h2v1h-2zM215,693h1v2h-1zM198,721h2v2h-2zM201,707h2v1h-2zM200,721h2v2h-2zM221,684h1v1h-1zM201,729h1v2h-1zM217,678h3v2h-3zM210,693h3v2h-3zM199,711h2v2h-2zM221,691h2v1h-2zM191,711h1v2h-1zM198,723h1v2h-1zM207,701h3v1h-3zM200,736h2v2h-2zM192,708h1v1h-1zM216,697h3v1h-3zM199,701h1v2h-1zM216,693h2v2h-2zM199,719h1v1h-1zM198,710h3v1h-3zM196,708h1v1h-1zM200,705h2v2h-2zM204,700h1v2h-1zM206,709h1v1h-1zM213,706h1v2h-1zM196,730h1v2h-1zM207,712h2v1h-2zM192,725h2v1h-2zM221,693h1v1h-1zM205,697h1v1h-1zM194,717h2v2h-2zM203,709h1v1h-1zM214,686h2v2h-2zM193,716h3v1h-3zM210,700h1v2h-1zM202,704h2v2h-2zM190,718h2v2h-2zM196,713h1v1h-1zM198,713h3v1h-3zM210,710h2v2h-2zM215,693h1v1h-1zM207,702h2v2h-2zM209,679h1v2h-1zM205,683h1v2h-1zM226,680h1v1h-1zM199,716h2v2h-2zM213,688h2v1h-2zM187,718h1v1h-1zM203,700h3v2h-3zM195,730h1v1h-1zM188,719h1v2h-1zM216,696h1v2h-1zM225,685h1v1h-1zM200,702h3v1h-3zM194,717h1v1h-1zM195,717h1v1h-1zM200,724h2v2h-2zM200,736h1v2h-1zM213,688h1v1h-1zM201,710h1v1h-1zM203,705h3v1h-3zM206,700h2v1h-2zM207,691h3v2h-3zM196,706h1v1h-1zM206,691h1v1h-1zM206,703h1v1h-1zM220,704h2v1h-2zM196,709h2v2h-2zM218,705h1v1h-1zM222,705h2v1h-2zM199,705h1v1h-1zM213,694h2v1h-2zM204,711h1v1h-1zM196,720h2v1h-2zM217,686h1v2h-1zM194,703h2v1h-2zM197,714h3v1h-3zM194,729h3v2h-3zM217,696h2v1h-2zM206,681h1v2h-1zM201,703h3v2h-3zM208,712h2v1h-2zM227,679h1v1h-1zM192,726h2v1h-2zM225,689h1v2h-1zM226,693h2v1h-2zM225,687h1v1h-1zM221,686h2v1h-2zM226,685h1v1h-1zM202,722h2v2h-2zM218,688h1v2h-1zM222,694h1v1h-1zM197,707h2v1h-2zM203,718h1v1h-1zM199,727h2v1h-2zM221,685h2v1h-2zM204,717h1v2h-1zM197,709h3v1h-3zM207,715h1v1h-1zM190,714h3v1h-3zM198,704h1v1h-1zM223,678h1v1h-1zM220,690h2v1h-2zM219,676h2v1h-2zM216,693h2v2h-2zM197,734h1v2h-1zM192,710h1v2h-1zM221,701h3v1h-3zM213,681h2v2h-2zM210,698h3v1h-3zM216,701h1v2h-1zM212,706h3v1h-3zM211,704h3v2h-3zM191,723h2v1h-2zM221,677h2v1h-2zM193,716h1v1h-1zM206,679h2v1h-2zM196,711h2v1h-2zM208,692h3v1h-3zM208,696h3v1h-3zM209,688h3v2h-3zM197,709h3v1h-3zM198,723h2v2h-2zM200,702h2v1h-2zM204,698h1v2h-1zM191,724h1v1h-1zM216,698h2v1h-2zM214,695h3v1h-3zM211,687h1v1h-1zM212,704h1v1h-1zM208,703h3v2h-3zM220,701h1v1h-1zM217,698h1v1h-1zM212,686h3v1h-3zM220,695h2v2h-2zM213,697h3v1h-3zM197,711h2v2h-2zM191,719h2v2h-2zM222,689h1v2h-1zM224,680h1v2h-1zM221,674h3v2h-3zM209,692h3v1h-3zM219,703h2v1h-2zM206,683h3v1h-3zM202,729h3v1h-3zM197,725h2v2h-2zM218,680h3v1h-3zM198,721h1v2h-1zM222,676h1v2h-1zM193,723h1v1h-1zM190,722h1v1h-1zM192,723h2v1h-2zM185,719h1v1h-1zM198,729h3v2h-3zM212,690h1v1h-1zM190,713h1v1h-1zM208,700h1v1h-1zM201,711h1v1h-1zM197,731h2v1h-2zM219,695h3v1h-3zM224,676h2v1h-2zM221,695h1v1h-1zM218,692h2v1h-2zM209,704h3v1h-3zM200,734h3v2h-3zM214,685h3v2h-3zM209,702h2v2h-2zM220,682h3v1h-3zM193,705h2v1h-2zM216,699h2v2h-2zM202,709h2v2h-2zM200,734h1v2h-1zM224,697h2v1h-2zM215,691h1v1h-1zM222,683h1v2h-1zM200,704h2v1h-2zM200,724h2v1h-2zM214,684h2v1h-2zM213,695h2v2h-2zM197,703h2v2h-2zM213,688h2v2h-2zM203,708h2v1h-2zM226,694h2v2h-2zM222,688h1v1h-1zM199,708h1v1h-1zM222,681h3v1h-3zM211,706h3v1h-3zM208,689h1v1h-1zM190,713h3v2h-3zM217,677h1v1h-1zM215,688h2v1h-2zM224,694h2v1h-2zM218,701h1v1h-1zM215,685h2v2h-2zM225,687h2v1h-2zM223,700h1v1h-1zM206,704h2v1h-2zM219,677h1v1h-1zM213,678h3v1h-3zM215,683h3v1h-3zM190,723h3v1h-3zM201,701h3v1h-3zM193,721h3v2h-3zM203,703h3v2h-3zM221,702h2v1h-2zM202,701h2v2h-2zM194,721h3v1h-3zM196,726h2v1h-2zM212,682h1v1h-1zM205,700h3v2h-3zM200,711h2v1h-2zM203,713h1v2h-1zM209,682h2v1h-2zM197,714h2v1h-2zM188,717h2v1h-2zM209,685h1v2h-1zM199,709h1v1h-1zM219,681h2v2h-2zM191,711h2v2h-2zM206,695h2v1h-2zM220,680h1v1h-1zM221,696h3v1h-3zM197,722h1v1h-1zM196,713h2v2h-2zM208,687h2v1h-2zM191,721h1v1h-1zM185,718h2v1h-2zM212,681h2v1h-2zM204,713h2v1h-2zM210,680h3v1h-3zM211,695h1v2h-1zM206,710h1v1h-1zM198,713h2v2h-2zM217,692h2v2h-2zM194,719h2v1h-2zM208,696h3v1h-3zM219,692h1v2h-1zM200,711h3v1h-3zM212,695h1v2h-1zM223,698h2v1h-2zM206,702h2v2h-2zM217,698h3v1h-3zM207,679h1v1h-1zM208,679h2v2h-2zM199,713h2v2h-2zM209,693h2v2h-2zM201,725h1v2h-1zM191,719h2v1h-2zM219,675h1v2h-1zM216,686h1v1h-1zM195,721h1v1h-1zM211,679h2v1h-2zM199,726h2v2h-2zM197,726h2v2h-2zM222,696h2v2h-2zM208,679h3v1h-3zM220,685h1v1h-1zM227,681h2v1h-2zM211,680h1v1h-1zM217,689h1v1h-1zM198,704h3v1h-3zM216,680h1v1h-1zM211,684h3v1h-3zM198,701h3v2h-3zM196,705h3v2h-3zM221,695h1v1h-1zM201,729h1v1h-1zM211,681h2v1h-2zM211,679h2v1h-2zM209,697h1v1h-1zM203,718h2v2h-2zM193,715h2v1h-2zM218,684h3v1h-3zM208,711h1v1h-1zM213,680h3v2h-3zM203,717h1v1h-1zM225,685h3v1h-3zM207,696h3v1h-3zM199,716h1v2h-1zM203,714h2v2h-2zM212,695h2v1h-2zM192,713h2v1h-2zM212,692h3v1h-3zM194,716h1v1h-1zM199,709h2v2h-2zM217,701h2v2h-2zM199,731h1v1h-1zM223,697h1v1h-1zM210,701h3v1h-3zM217,692h1v2h-1zM199,722h2v1h-2zM214,693h3v2h-3zM209,691h1v1h-1zM226,683h2v2h-2zM222,698h2v1h-2zM192,707h1v2h-1zM198,714h2v2h-2zM196,704h1v1h-1zM196,714h1v2h-1zM202,707h1v1h-1zM209,710h1v2h-1zM202,723h2v2h-2zM216,687h1v2h-1zM199,709h1v1h-1zM209,685h1v1h-1zM201,718h3v1h-3zM218,681h1v2h-1zM214,696h2v1h-2zM211,680h2v1h-2zM222,688h2v2h-2zM201,732h2v2h-2zM222,684h2v1h-2zM219,696h2v2h-2zM209,705h3v2h-3zM221,692h2v2h-2zM191,708h3v1h-3zM190,714h1v1h-1zM223,688h1v2h-1zM205,711h1v1h-1zM215,678h2v1h-2zM202,705h2v1h-2zM194,705h2v2h-2zM212,680h1v1h-1zM221,684h1v1h-1zM204,696h2v1h-2zM202,719h2v1h-2zM221,695h3v1h-3zM192,725h2v1h-2zM199,725h1v2h-1zM200,722h3v1h-3zM216,691h2v1h-2zM198,705h1v1h-1zM216,699h1v1h-1zM217,689h1v2h-1zM194,707h1v2h-1zM188,716h2v1h-2zM195,716h1v1h-1zM213,694h1v1h-1zM221,693h2v1h-2zM212,703h1v1h-1zM204,705h1v1h-1zM200,714h1v2h-1zM208,702h2v2h-2zM192,715h1v2h-1zM198,708h1v1h-1zM198,723h2v2h-2zM216,690h1v2h-1zM195,719h2v1h-2zM208,708h3v1h-3zM207,694h1v1h-1zM220,693h2v1h-2zM210,685h1v1h-1zM193,719h2v1h-2zM190,721h3v1h-3zM202,700h3v1h-3zM193,719h1v1h-1zM219,705h1v1h-1zM206,685h2v1h-2zM205,695h3v1h-3zM192,725h2v1h-2zM214,694h2v1h-2zM189,717h1v2h-1zM225,696h1v2h-1zM218,686h1v2h-1zM189,723h3v2h-3zM187,716h1v1h-1zM200,724h2v2h-2zM221,676h1v1h-1zM208,704h2v2h-2zM196,721h1v1h-1zM207,695h1v2h-1zM213,699h2v1h-2zM204,718h1v1h-1zM201,702h1v1h-1zM222,693h1v1h-1zM201,714h1v2h-1zM202,709h1v1h-1zM190,712h1v1h-1zM209,694h3v1h-3z" fill="#000" shape-rendering="crispEdges"/>
<path d="M201,708h1v1h-1zM224,692h3v1h-3zM204,714h2v1h-2zM207,681h1v1h-1zM212,697h3v2h-3zM210,689h2v1h-2zM200,717h2v1h-2zM203,699h1v2h-1zM223,697h3v1h-3zM212,687h1v2h-1zM221,682h1v1h-1zM209,705h3v1h-3zM210,690h1v1h-1zM199,703h1v1h-1zM214,704h1v2h-1zM219,698h2v2h-2zM211,682h1v2h-1zM207,687h2v1h-2zM197,721h1v1h-1zM218,686h3v1h-3zM224,691h1v1h-1zM201,706h1v2h-1zM194,706h2v1h-2zM225,696h2v1h-2zM200,734h2v2h-2zM223,697h3v1h-3zM218,692h1v1h-1zM218,678h3v2h-3zM204,700h2v2h-2zM226,687h1v1h-1z" fill="#5d504c" shape-rendering="crispEdges"/>
<path d="M182.9,729.9 L191.7,731.3 L201.2,736.7 L217.4,738.1 L228.3,744.9 L233.7,753.0 L240.5,757.0 L229.6,757.0 L221.5,750.3 L210.7,744.9 L194.4,743.5 L183.6,736.7Z" fill="#5d504c" stroke="#000" stroke-width="1"/>
<path d="M235,755h1v1h-1zM224,748h1v1h-1zM232,755h2v1h-2zM231,756h2v1h-2zM232,752h2v1h-2zM227,746h2v1h-2zM232,753h1v1h-1zM229,747h1v2h-1zM231,756h2v1h-2zM229,748h1v2h-1zM223,745h2v2h-2zM234,755h2v1h-2zM234,755h1v1h-1zM230,754h1v2h-1zM229,754h3v1h-3zM228,751h1v2h-1zM226,752h1v1h-1zM227,747h3v1h-3zM225,747h1v2h-1zM222,744h1v2h-1zM228,746h1v2h-1zM227,752h2v2h-2zM227,752h1v1h-1zM230,757h2v1h-2zM228,754h2v1h-2z" fill="#000" shape-rendering="crispEdges"/>
<path d="M165,741h3v2h-3zM188,739h2v1h-2zM186,751h1v1h-1zM200,753h1v1h-1zM168,748h2v1h-2zM163,751h1v2h-1zM195,750h3v2h-3zM162,751h1v1h-1zM204,752h2v1h-2zM176,753h2v1h-2zM174,733h1v1h-1zM173,751h2v1h-2zM166,750h1v1h-1zM173,753h2v1h-2zM188,750h2v1h-2zM192,740h1v1h-1zM163,756h2v1h-2zM181,752h3v1h-3zM167,744h2v1h-2zM194,746h2v2h-2zM182,741h3v1h-3zM174,756h1v1h-1zM169,742h2v1h-2zM161,747h1v1h-1zM158,747h2v1h-2zM171,756h2v2h-2zM162,730h3v1h-3zM178,751h1v2h-1zM181,747h2v2h-2zM171,738h1v2h-1zM171,755h2v1h-2zM174,739h1v1h-1zM173,754h1v1h-1zM185,740h1v1h-1zM180,754h2v1h-2zM168,751h1v1h-1zM156,724h3v2h-3zM175,747h1v1h-1zM170,731h1v1h-1zM151,728h3v2h-3zM198,754h3v1h-3zM190,757h1v1h-1zM180,737h2v1h-2zM156,725h3v2h-3zM179,740h3v1h-3zM189,755h3v2h-3zM167,731h1v2h-1zM163,754h1v1h-1zM176,739h1v2h-1zM165,733h1v2h-1zM177,743h2v2h-2zM183,746h1v2h-1zM174,744h2v1h-2zM164,736h2v2h-2zM190,745h2v1h-2zM202,755h2v1h-2zM167,731h3v1h-3zM166,740h3v1h-3zM180,736h2v1h-2zM183,745h1v1h-1zM163,740h2v1h-2zM164,737h2v1h-2zM193,753h1v2h-1zM209,758h3v1h-3zM209,758h2v2h-2zM179,739h2v1h-2zM166,749h1v1h-1zM171,737h1v1h-1zM206,758h2v1h-2zM181,745h2v1h-2zM171,746h1v1h-1zM182,752h1v1h-1zM172,743h1v2h-1zM158,732h3v1h-3zM173,743h2v2h-2zM188,754h1v1h-1zM170,752h1v1h-1zM181,740h2v1h-2zM170,743h1v1h-1zM185,749h2v2h-2zM194,746h1v2h-1zM194,744h1v1h-1zM164,734h2v1h-2zM173,732h1v1h-1zM173,752h1v2h-1zM156,725h2v1h-2zM170,731h2v1h-2zM190,747h1v2h-1zM180,741h2v2h-2zM169,734h2v1h-2zM177,756h1v2h-1zM159,735h1v2h-1zM190,757h2v1h-2zM154,725h1v1h-1zM169,740h1v1h-1zM169,729h2v2h-2zM174,754h2v1h-2zM164,733h2v1h-2zM157,727h3v2h-3zM192,745h2v1h-2zM184,757h2v1h-2zM189,754h1v1h-1zM185,756h1v1h-1zM161,751h2v1h-2zM181,753h1v1h-1zM183,757h3v1h-3zM165,749h1v1h-1zM183,748h1v1h-1zM161,749h2v1h-2zM161,753h2v1h-2zM178,738h2v1h-2zM164,735h2v1h-2zM176,745h2v1h-2zM166,755h1v1h-1zM162,748h1v1h-1zM187,748h1v2h-1zM195,753h2v1h-2zM164,757h2v1h-2zM151,726h1v1h-1zM165,747h1v2h-1zM165,739h3v1h-3zM193,745h3v1h-3zM183,742h1v1h-1zM165,742h3v2h-3zM170,746h2v1h-2zM172,734h1v2h-1zM183,751h1v1h-1zM190,743h1v2h-1zM174,755h2v2h-2zM154,729h1v1h-1zM182,752h1v2h-1zM166,752h1v2h-1zM179,756h2v1h-2zM176,755h3v1h-3zM185,755h2v1h-2zM164,751h2v1h-2zM156,724h1v1h-1zM164,747h3v1h-3zM154,726h1v1h-1zM181,757h1v2h-1zM166,737h2v1h-2zM169,753h2v1h-2zM186,746h2v1h-2zM175,754h2v1h-2zM185,757h2v1h-2zM173,735h1v1h-1zM175,757h1v1h-1zM189,743h1v1h-1zM164,749h2v1h-2zM164,730h2v1h-2zM176,741h3v2h-3zM166,757h1v2h-1zM171,734h2v1h-2zM177,741h2v1h-2zM163,754h3v1h-3zM188,743h3v1h-3zM160,735h2v1h-2zM162,740h1v2h-1zM190,748h2v1h-2zM202,751h1v2h-1zM207,754h2v1h-2zM194,757h2v2h-2zM167,746h3v2h-3zM177,739h2v1h-2zM170,739h2v1h-2zM159,728h2v1h-2zM178,748h2v1h-2zM192,747h1v1h-1zM197,752h1v1h-1zM169,737h1v1h-1z" fill="#000" shape-rendering="crispEdges"/>
<path d="M145,748h3v1h-3zM131,741h1v2h-1zM141,751h2v2h-2zM132,745h1v1h-1zM145,754h1v2h-1zM139,748h1v1h-1zM134,753h1v2h-1zM137,756h1v2h-1zM139,746h1v2h-1zM143,749h3v1h-3zM133,751h2v1h-2zM131,750h1v2h-1zM133,744h1v1h-1zM140,753h2v1h-2zM137,751h2v2h-2zM139,752h2v1h-2zM137,746h1v2h-1zM137,757h2v1h-2zM140,750h2v2h-2zM139,745h2v1h-2zM140,746h1v1h-1zM133,756h2v1h-2zM139,755h2v2h-2zM137,751h1v2h-1zM144,748h2v1h-2zM132,746h3v2h-3zM137,745h1v2h-1zM138,757h2v1h-2zM143,752h1v2h-1zM135,754h1v1h-1zM141,753h2v2h-2zM141,746h3v1h-3zM133,744h2v1h-2zM139,746h2v1h-2zM140,748h2v2h-2zM131,754h1v1h-1zM133,743h2v1h-2zM146,749h2v1h-2zM138,748h1v2h-1zM144,749h1v2h-1zM139,744h2v1h-2zM139,746h1v1h-1zM143,756h2v1h-2zM132,747h2v2h-2zM139,752h1v1h-1zM139,746h1v1h-1zM142,747h3v2h-3zM142,753h2v1h-2zM144,750h1v2h-1zM133,744h1v2h-1z" fill="#000" shape-rendering="crispEdges"/>
<path d="M86,752h1v2h-1zM79,754h3v1h-3zM124,759h2v1h-2zM79,744h3v1h-3zM92,754h1v2h-1zM115,759h3v2h-3zM135,757h3v1h-3zM134,749h3v2h-3zM127,747h1v2h-1zM128,747h1v2h-1zM124,759h2v1h-2zM111,756h3v1h-3zM143,751h1v1h-1zM83,756h1v1h-1zM91,759h2v2h-2zM81,749h2v1h-2zM138,749h2v1h-2zM105,750h1v1h-1zM116,757h1v2h-1zM82,744h2v1h-2zM125,758h3v2h-3zM123,757h2v1h-2zM98,754h2v1h-2zM94,743h1v1h-1zM100,750h1v1h-1zM149,755h1v2h-1zM93,751h3v1h-3zM88,760h1v1h-1zM82,746h1v1h-1zM86,741h3v1h-3zM80,751h1v2h-1zM100,750h2v2h-2zM91,759h2v1h-2zM93,750h2v1h-2zM129,747h2v1h-2zM87,743h1v2h-1zM146,751h2v2h-2zM82,746h2v1h-2zM140,755h1v2h-1zM85,756h1v1h-1zM84,759h2v1h-2zM87,742h3v1h-3zM141,749h2v2h-2zM95,752h1v2h-1zM119,750h1v1h-1zM122,755h3v1h-3zM112,757h2v1h-2zM82,743h2v1h-2zM111,754h2v2h-2zM120,756h3v2h-3zM90,760h2v2h-2zM126,752h1v2h-1zM107,754h2v2h-2zM133,757h1v2h-1zM135,759h2v2h-2zM117,759h2v1h-2zM109,758h3v1h-3zM132,749h2v1h-2zM149,758h1v2h-1zM88,755h1v2h-1z" fill="#000" shape-rendering="crispEdges"/>
<path d="M228.5,662.4 L232.5,664.3 L236.4,662.4" fill="none" stroke="#000" stroke-width="1.2"/>
<path d="M241.3,664.3 L245.3,663.3 L250.2,661.8" fill="none" stroke="#000" stroke-width="1.2"/>
<path d="M257.1,661.4 L264.0,662.4 L271.9,664.3 L279.8,664.9" fill="none" stroke="#000" stroke-width="1.2"/>
<path d="M249.2,678.1 L254.1,687.0 L253.2,698.8 L246.3,708.7 L240.3,716.6" fill="none" stroke="#000" stroke-width="1.2"/>
<path d="M241.3,698.8 L246.3,695.9 L250.2,692.9" fill="none" stroke="#000" stroke-width="1.2"/>
<path d="M233.4,724.4 L237.4,721.5" fill="none" stroke="#000" stroke-width="1.2"/>
<path d="M223.6,731.3 L228.5,728.4" fill="none" stroke="#000" stroke-width="1.2"/>
<path d="M257.4,661.6 L269.7,662.8 L284.5,665.3" fill="none" stroke="#000" stroke-width="1.2"/>
<path d="M250.0,654.0 L262.0,656.0" fill="none" stroke="#000" stroke-width="1.2"/>
<path d="M311.6,663.5 L333.7,661.6 L360.8,656.2 L385.5,650.5 L410.0,648.0 L440.0,648.5" fill="none" stroke="#000" stroke-width="1.2"/>
<path d="M533.7,719.5 L548.5,714.5 L560.8,707.1 L570.7,698.5" fill="none" stroke="#000" stroke-width="1.2"/>
<path d="M509.1,692.4 L514.0,698.5 L515.3,708.4 L510.3,712.1" fill="none" stroke="#000" stroke-width="1.2"/>
<path d="M796,658h3v2h-3zM800,569h3v1h-3zM797,611h2v1h-2zM794,575h1v1h-1zM792,636h3v2h-3zM802,597h2v1h-2zM805,614h3v1h-3zM799,604h3v1h-3zM802,569h2v2h-2zM790,597h1v1h-1zM794,644h1v1h-1zM804,563h2v1h-2zM791,610h2v1h-2zM790,606h1v1h-1zM806,656h1v1h-1zM805,637h1v2h-1zM804,633h1v1h-1zM801,565h3v2h-3zM804,568h1v1h-1zM802,632h2v1h-2zM792,610h3v2h-3zM793,633h2v2h-2zM796,605h1v1h-1zM798,639h2v2h-2zM799,614h1v1h-1zM797,610h3v1h-3zM794,642h2v1h-2zM802,596h1v1h-1zM799,661h2v2h-2zM793,645h1v1h-1zM799,599h2v2h-2zM798,661h2v1h-2zM795,612h2v1h-2zM795,613h1v1h-1zM796,648h2v2h-2zM805,612h3v1h-3zM794,635h3v1h-3zM800,605h1v1h-1zM798,631h1v2h-1zM803,630h2v2h-2zM797,626h2v1h-2zM804,594h3v1h-3zM791,605h3v1h-3zM795,633h3v1h-3zM804,655h1v1h-1zM797,646h1v1h-1zM796,661h1v1h-1zM793,606h2v2h-2zM793,611h3v1h-3zM797,654h1v1h-1zM794,608h1v1h-1zM794,592h1v2h-1zM795,593h2v2h-2zM793,582h2v2h-2zM802,624h1v1h-1zM792,617h2v2h-2zM795,630h2v1h-2zM793,582h2v1h-2zM791,607h2v1h-2zM805,660h3v1h-3zM799,591h1v1h-1zM802,617h1v1h-1zM795,644h2v1h-2zM800,652h2v1h-2zM806,619h1v1h-1zM798,637h1v2h-1zM801,646h2v2h-2zM791,634h1v1h-1zM794,579h2v2h-2zM795,610h2v2h-2zM790,600h1v2h-1zM805,564h2v1h-2zM796,594h3v1h-3zM795,574h2v2h-2zM805,564h3v2h-3zM793,584h2v1h-2zM806,595h1v1h-1zM798,637h2v1h-2zM788,644h1v2h-1zM801,605h2v2h-2zM804,608h1v1h-1zM793,606h1v2h-1zM806,615h1v1h-1zM799,577h2v1h-2zM793,589h1v1h-1zM802,645h1v2h-1zM793,596h3v1h-3zM794,642h2v1h-2zM805,644h1v1h-1zM796,655h2v1h-2zM791,610h1v1h-1zM793,643h2v2h-2zM795,627h1v2h-1zM796,582h2v1h-2zM805,659h1v1h-1zM795,599h2v2h-2zM796,631h1v1h-1zM801,657h3v2h-3zM804,591h3v1h-3zM796,615h2v1h-2zM802,626h2v1h-2zM804,626h1v1h-1zM795,629h1v1h-1zM801,567h2v1h-2zM806,585h2v1h-2zM803,599h1v1h-1zM798,597h1v1h-1zM789,640h1v2h-1zM799,633h3v1h-3zM802,616h1v1h-1zM804,593h1v2h-1zM789,604h2v1h-2zM800,613h3v1h-3zM789,599h2v1h-2zM803,623h3v1h-3zM806,653h2v1h-2zM800,655h2v2h-2zM805,570h2v1h-2zM805,641h1v2h-1zM794,585h2v2h-2zM804,569h2v1h-2zM792,648h2v2h-2zM805,622h1v1h-1zM805,648h2v1h-2zM797,654h3v1h-3zM793,608h1v2h-1zM801,657h1v2h-1zM803,642h1v2h-1zM791,636h3v1h-3zM790,613h1v1h-1z" fill="#000" shape-rendering="crispEdges"/>
<path d="M798,594h1v2h-1zM799,589h2v1h-2zM802,596h1v1h-1zM800,620h2v2h-2zM795,600h2v1h-2zM799,602h1v1h-1zM800,639h3v1h-3zM798,638h1v1h-1zM801,644h1v2h-1zM802,626h1v2h-1zM797,602h3v1h-3zM802,612h2v1h-2zM797,606h2v2h-2zM799,614h1v2h-1zM796,598h1v1h-1zM798,599h1v2h-1zM802,620h2v2h-2zM800,614h2v2h-2zM797,612h2v2h-2zM797,596h1v2h-1zM799,636h1v1h-1zM798,611h1v1h-1zM798,636h3v1h-3zM800,629h2v2h-2zM799,632h2v1h-2z" fill="#004467" shape-rendering="crispEdges"/>
<path d="M299.1,59.1 L304.3,60.6 L311.0,58.3 L315.4,62.0 L316.1,68.0 L320.6,70.9 L323.5,71.6 L323.5,73.9 L319.8,74.6 L322.0,82.7 L324.3,91.6 L322.8,96.8 L319.1,90.1 L314.7,84.2 L313.2,78.3 L310.2,69.4 L308.7,65.0 L302.8,62.0Z" fill="#2b4a6e"/>
<path d="M42.4,680.9 L46.3,680.9 L51.3,686.8 L49.3,689.7 L44.4,686.8Z" fill="#2b4a6e"/>
<path d="M59.2,684.8 L62.1,688.7 L65.1,694.7 L69.0,700.6 L74.9,702.5 L82.8,706.5 L84.8,710.4 L78.9,709.4 L69.0,706.5 L61.1,702.5 L58.2,692.7Z" fill="#2b4a6e"/>
<path d="M130.2,652.3 L135.1,654.2 L134.1,663.1 L128.2,668.0 L122.3,666.0 L122.3,660.1 L126.2,654.2Z" fill="#2b4a6e"/>
<path d="M145.8,695.9 L151.7,696.8 L154.6,702.8 L151.7,708.7 L144.8,713.6 L140.8,711.6 L141.8,706.7 L146.7,702.8 L144.8,698.8Z" fill="#2b4a6e"/>
<path d="M539.9,601.2 L543.6,606.2 L548.5,611.0 L555.9,603.7 L557.1,609.9 L563.3,609.9 L563.3,613.5 L553.4,614.8 L547.3,619.7 L541.1,618.5 L541.1,609.9Z" fill="#2b4a6e"/>
<path d="M783.6,729.4 L788.8,737.1 L796.5,744.9 L795.2,755.2 L788.8,752.7 L784.9,742.3Z" fill="#2b4a6e"/>
<path d="M613.5,286.2 L617.2,291.1 L619.7,286.2 L623.4,292.3 L627.1,293.5 L622.2,298.5 L617.2,305.9 L609.8,313.2 L604.9,308.3 L611.0,303.4 L614.8,297.2 L612.3,291.1Z" fill="#2b4a6e"/>
<path d="M446.8,363.0 L451.7,366.3 L448.0,370.0 L444.3,372.4 L445.6,376.1 L439.4,377.3 L440.6,371.2 L444.3,367.5Z" fill="#2b4a6e"/>
<path d="M526.0,502.0 L530.5,507.0 L533.0,503.4 L531.8,513.3 L529.3,520.7 L530.5,525.6 L536.7,525.6 L533.0,530.5 L534.2,536.7 L530.5,537.9 L525.6,531.8 L526.8,523.2 L525.6,515.8 L528.0,509.6Z" fill="#2b4a6e"/>
<path d="M423.9,413.5 L427.0,417.2 L425.9,422.2 L430.8,428.3 L432.0,433.3 L428.3,433.3 L424.6,424.6 L423.9,418.5Z" fill="#2b4a6e"/>
<path d="M368.7,260.3 L374.9,258.4 L382.3,264.0 L389.7,266.5 L397.0,275.1 L394.6,276.4 L387.2,270.2 L379.8,267.7 L372.4,262.8Z" fill="#2b4a6e"/>
<path d="M769.0,789.0 L774.0,786.5 L778.0,788.0 L777.0,792.0 L770.0,792.0Z" fill="#2b4a6e"/><g fill="none" stroke="#856f10" stroke-width="1">
<path d="M472.6,6.2 L471.4,24.6 L465.3,44.3 L451.7,55.4 L434.5,60.3 L428.3,73.9 L421.0,91.0 L409.8,110.8 L412.0,123.0 L405.0,133.0"/>
<path d="M400.0,99.8 L414.8,102.2 L432.0,108.4 L437.0,118.2 L437.0,133.0 L429.6,157.6 L414.8,162.6 L400.0,165.0 L392.0,160.0 L385.0,148.0 L378.0,135.0 L380.0,120.0 L388.0,108.0 L400.0,99.8"/>
<path d="M400.0,135.5 L437.0,133.0 L461.6,134.2 L483.7,137.9 L498.5,135.5 L518.2,136.7 L528.0,145.3 L547.8,157.6 L572.4,157.6 L600.0,157.0 L612.3,150.2 L619.7,147.7 L641.8,150.2 L659.0,142.8 L671.4,134.2 L691.0,125.5 L715.7,112.0 L747.7,93.5 L772.3,82.5 L805.6,72.6"/>
<path d="M405.0,133.0 L424.6,152.7 L444.3,177.3 L459.0,200.0 L473.9,217.2 L483.7,232.0 L503.4,239.4"/>
<path d="M587.0,6.0 L588.0,22.0 L594.6,37.0 L604.8,49.0 L604.0,70.0 L602.9,94.4 L596.0,104.0 L591.6,113.3 L597.0,126.0 L606.7,139.8 L614.2,148.0"/>
<path d="M600.0,157.6 L587.0,167.5 L572.4,187.2 L562.6,200.0 L548.0,215.0 L535.0,228.0 L520.7,237.0"/>
<path d="M659.0,142.8 L671.4,152.6 L673.8,165.0 L683.7,172.3 L686.2,184.6 L698.5,189.6 L715.7,188.3 L737.9,183.4 L767.4,176.0 L797.0,172.3 L805.6,174.8"/>
<path d="M6.0,257.1 L37.0,255.4 L64.0,251.7 L86.2,243.1 L110.8,235.7 L135.5,225.9 L152.7,223.4 L161.3,224.6"/>
<path d="M161.3,224.6 L163.8,222.2 L172.4,222.2 L174.9,227.1 L172.4,231.5 L162.6,231.5 L161.3,224.6"/>
<path d="M174.9,224.6 L193.8,214.4 L214.9,200.3 L222.0,189.8 L241.0,181.0 L261.6,172.4 L298.5,165.0 L335.5,157.6 L372.4,147.8 L400.0,141.6"/>
<path d="M165.0,232.0 L167.5,249.0 L170.0,274.0 L173.6,298.5 L172.4,318.0 L177.3,338.0 L179.8,355.0 L183.5,372.4 L182.3,387.0 L177.3,400.0 L170.0,414.8 L162.6,429.6 L160.0,449.3 L152.7,473.9 L142.9,498.5 L135.5,515.8 L130.5,540.4 L129.3,572.4 L128.0,600.0 L126.2,629.6 L130.2,640.4 L136.0,651.3 L132.1,667.0 L134.1,674.0"/>
<path d="M145.3,202.5 L147.8,212.3 L152.7,223.4"/>
<path d="M6.0,460.3 L37.0,463.5 L69.0,467.7 L88.7,475.0 L118.0,473.4 L138.0,472.7 L147.8,478.8 L172.4,480.0 L200.0,476.4 L229.6,475.1 L261.6,472.7 L283.7,465.3 L298.5,454.2 L308.4,437.0 L323.2,424.6 L338.0,409.9 L347.8,402.5 L362.6,400.0 L385.0,392.0 L402.5,385.0"/>
<path d="M261.6,472.7 L251.7,483.7 L246.8,503.4 L237.0,515.8 L235.7,525.6 L227.1,537.9 L217.2,550.2 L214.8,572.4 L209.9,592.1 L206.2,600.0 L199.0,620.0 L195.0,629.9 L189.1,640.7 L185.2,649.6 L184.2,655.5 L181.2,663.3 L173.3,675.2 L163.5,683.1 L159.6,687.0"/>
<path d="M6.0,661.5 L15.8,659.2 L35.5,652.3 L51.3,645.4 L74.9,643.4 L86.8,645.4 L98.6,641.8 L126.2,640.4 L147.7,640.7 L165.5,647.6 L183.2,655.5 L195.0,656.5 L208.8,651.5 L224.6,647.6 L240.3,644.6 L256.1,643.6 L271.9,644.6 L290.0,639.7 L305.4,629.6 L306.7,624.6 L319.0,623.4 L336.2,625.9 L348.5,630.8 L360.8,634.5 L370.7,638.2 L383.0,635.7 L392.9,628.3 L407.6,622.2 L422.4,618.5 L437.2,618.5 L450.0,619.7 L462.3,621.0 L474.6,616.0 L514.0,616.0 L528.8,622.2 L548.5,627.1 L568.2,634.5 L580.5,639.4 L597.8,639.4 L622.4,641.9 L640.0,645.3 L652.9,644.0 L678.8,653.0 L704.7,660.8 L725.4,660.8 L743.5,662.1 L761.6,658.2 L779.7,654.3 L787.5,653.0"/>
<path d="M86.8,645.4 L92.7,657.2 L102.5,667.0 L118.3,672.0 L134.1,674.0 L141.8,673.2 L155.6,684.0 L159.6,687.0"/>
<path d="M6.0,615.8 L11.8,621.7 L13.8,631.6 L11.8,643.4 L15.8,659.2"/>
<path d="M321.4,600.0 L309.1,607.4 L305.4,624.6"/>
<path d="M400.0,545.3 L384.7,562.6 L367.5,574.9 L347.8,587.2 L333.0,595.8 L320.7,600.0"/>
<path d="M407.4,400.0 L411.0,414.8 L419.7,429.6 L427.0,449.3 L435.7,466.5 L439.4,472.7 L433.3,483.7 L424.6,508.4 L412.3,525.6 L400.0,544.0"/>
<path d="M439.4,472.7 L461.6,471.4 L481.3,464.0 L498.5,455.4 L510.8,448.0 L518.2,434.5 L525.6,428.3 L533.0,417.2 L545.3,407.4 L547.8,400.0 L553.0,388.0 L560.0,378.0 L570.0,366.0 L582.0,354.0"/>
<path d="M503.4,239.4 L497.3,256.7 L486.2,278.8 L473.9,298.5 L459.1,323.2 L449.3,333.0 L434.5,342.9 L422.2,355.2 L409.9,370.0 L404.9,382.3 L402.5,400.0 L407.4,400.0"/>
<path d="M503.4,239.4 L510.8,234.5 L520.7,237.0 L528.0,224.6 L542.9,217.2 L552.7,207.4 L562.6,200.0"/>
<path d="M520.7,237.0 L528.0,246.8 L535.5,251.7 L537.9,269.0 L542.9,281.3 L545.3,293.6 L555.2,305.9 L557.6,315.8 L570.0,325.6 L577.3,337.9 L582.3,350.2"/>
<path d="M400.0,370.0 L412.3,367.5 L429.6,362.6 L446.8,362.6 L464.0,364.5 L481.3,362.6 L498.5,360.0 L515.8,355.2 L533.0,352.7 L557.6,350.2 L572.4,347.8 L582.3,352.7 L600.0,352.6 L619.7,361.2 L649.2,367.4 L686.2,368.6 L710.8,372.3 L747.7,373.6 L760.0,368.6 L777.3,360.0 L794.5,350.2 L805.6,339.1"/>
<path d="M584.7,293.6 L577.3,305.9 L572.4,318.2 L570.0,325.6"/>
<path d="M400.0,165.0 L398.0,185.0 L397.0,200.0 L394.6,239.4 L397.0,273.9 L395.8,298.5 L399.5,335.5 L401.2,350.0 L404.9,382.3"/>
<path d="M591.3,348.0 L590.2,352.2 L587.0,355.4 L582.8,356.5 L578.5,355.4 L575.4,352.2 L574.3,348.0 L575.4,343.8 L578.5,340.6 L582.8,339.5 L587.0,340.6 L590.2,343.8 L591.3,348.0"/>
<path d="M550.2,400.0 L557.6,382.3 L570.0,370.0 L582.3,357.6"/>
<path d="M582.3,350.2 L600.0,331.7 L624.6,318.2 L649.2,305.9 L673.8,288.6 L698.5,278.8 L718.2,268.9 L728.0,256.6 L740.3,251.7 L757.6,241.8 L777.3,232.0 L805.6,222.2"/>
<path d="M720.6,200.0 L732.9,212.3 L745.3,216.0 L757.6,232.0 L762.5,256.6 L769.9,278.8 L787.1,293.5 L805.6,308.3"/>
<path d="M740.3,251.7 L740.3,260.3 L752.6,271.4 L769.9,278.8"/>
<path d="M582.3,352.7 L590.0,370.0 L600.0,388.0 L608.6,400.0 L614.8,412.3 L627.1,422.2 L633.2,437.0 L630.8,461.5 L629.5,498.5 L634.5,520.6 L646.8,542.8 L650.5,567.4 L656.6,587.1 L659.0,600.0 L665.9,615.5 L678.8,633.6 L691.7,644.0 L704.7,660.8 L715.0,677.6 L722.8,700.9 L733.1,719.0 L743.5,739.7 L748.7,765.6 L753.8,791.5"/>
<path d="M627.1,422.2 L644.3,434.5 L649.2,444.3 L668.9,454.2 L693.5,462.8 L728.0,467.7 L757.6,472.6 L787.1,483.7 L799.4,487.4 L805.6,493.5"/>
<path d="M805.6,535.4 L801.9,547.7 L801.9,560.0 L794.5,577.2 L787.1,592.0 L784.6,600.0 L788.8,625.9 L787.5,644.0 L784.9,656.9 L790.0,667.3 L800.4,680.2 L805.6,695.7"/>
<path d="M273.9,60.3 L293.6,60.3 L303.4,55.4 L315.8,57.9 L338.0,73.9 L360.1,91.1 L382.3,108.4 L400.0,115.8"/>
<path d="M225.0,8.0 L232.0,20.0 L238.0,30.0"/>
<path d="M232.0,20.0 L222.0,30.0 L215.0,48.0 L210.0,62.0 L205.0,80.0 L200.0,100.0 L192.0,125.0 L185.0,140.0 L178.0,165.0 L170.0,190.0 L163.0,210.0 L161.3,224.6"/>
<path d="M258.0,8.0 L266.0,22.0 L262.0,38.0 L255.0,50.0 L262.0,60.0 L273.9,60.3"/>
</g>
<g fill="none" stroke="#000" stroke-width="1.1" stroke-linejoin="round">
<path d="M6.0,105.5 L155.0,105.5 L156.4,112.5 L161.6,113.8 L160.3,121.5 L153.0,133.0 L147.0,142.0 L138.0,149.5 L186.0,149.5"/>
<path d="M209.7,6.0 L211.5,7.0 L212.4,8.0 L212.6,9.0 L214.1,10.0 L212.6,11.0 L210.3,12.0 L211.0,13.0 L211.2,13.5 L211.1,14.7 L212.7,16.9 L211.5,17.4 L209.4,17.3 L208.9,18.2 L207.1,18.4 L207.2,19.6 L208.8,21.9 L208.1,21.8 L208.0,22.8 L208.0,23.9 L205.8,25.4 L206.2,26.3 L208.3,26.9 L208.5,27.9 L209.7,28.7 L210.2,29.7 L207.9,31.2 L207.8,31.4 L207.9,32.7 L207.4,33.7 L209.0,35.7 L208.2,36.6 L206.1,36.8 L205.6,37.8 L204.0,38.3 L204.6,40.3 L206.8,40.1 L206.8,41.4 L207.3,42.3 L207.2,43.5 L206.2,45.4 L207.7,45.7 L209.3,46.0 L209.8,46.9 L210.5,46.6 L211.2,47.9 L211.6,49.9 L212.8,49.7 L213.8,49.9 L215.0,49.7 L216.5,48.5 L217.2,49.7 L217.9,51.1 L218.9,51.4 L219.6,52.5 L220.9,52.0 L222.9,51.3 L223.1,52.4 L223.5,53.3 L223.9,54.3 L223.4,55.9 L224.3,56.5 L225.8,56.6 L226.4,57.4 L227.4,58.0 L228.1,58.7 L227.5,60.2 L227.6,61.3 L228.5,62.1 L228.9,63.1 L230.3,63.7 L230.8,64.7 L230.2,66.1 L230.6,67.1 L230.6,68.2 L231.1,69.2 L232.6,70.1 L232.4,71.1 L232.0,72.0 L231.8,73.0 L230.9,73.9 L230.6,74.9 L231.3,76.0 L231.4,77.0 L231.3,78.2 L230.7,79.2 L229.3,79.5 L228.5,80.2 L228.0,81.3 L227.3,82.2 L227.1,83.5 L226.4,83.9 L226.2,85.1 L226.6,86.1 L226.7,87.2 L227.3,88.1 L228.3,88.8 L228.5,89.9 L228.7,91.0 L229.0,92.0 L227.9,92.3 L227.3,93.1 L226.8,94.1 L226.0,94.8 L225.3,95.6 L224.5,96.2 L223.3,96.4 L222.6,97.1 L221.9,97.9 L221.2,98.7 L220.8,99.8 L220.0,100.5 L218.9,100.9 L218.2,101.7 L217.3,102.3 L216.6,103.1 L216.1,104.3 L215.1,104.5 L214.0,104.6 L213.0,104.8 L211.9,104.6 L210.9,104.9 L210.0,105.6 L209.0,105.9 L208.3,106.1 L207.9,107.1 L206.9,107.9 L206.5,108.9 L206.4,110.0 L206.0,111.0 L206.2,112.2 L205.8,113.1 L204.9,113.8 L203.9,114.3 L202.8,114.6 L201.9,115.3 L201.3,116.5 L200.1,116.7 L199.1,117.1 L197.9,117.4 L196.3,118.2 L197.2,119.0 L197.8,119.9 L198.0,120.9 L198.6,121.9 L198.3,123.0 L197.8,124.2 L198.4,125.1 L198.9,125.9 L198.3,126.8 L198.2,128.2 L196.9,128.4 L195.7,128.7 L195.0,129.5 L194.0,130.0 L193.7,131.2 L193.9,131.7 L193.7,132.9 L193.9,133.9 L193.9,135.1 L193.4,136.4 L194.7,137.1 L195.8,137.8 L196.0,138.8 L196.5,140.7 L195.1,140.5 L193.7,140.2 L193.3,141.4 L192.7,142.3 L192.1,143.1 L192.0,144.7 L190.9,144.8 L189.2,144.2 L188.5,145.0 L187.3,145.6 L186.8,146.5 L187.9,148.3 L187.6,149.2 L186.0,149.5"/>
<path d="M186.1,150.8 L187.2,149.3 L188.7,149.2 L190.1,149.8 L189.1,151.5 L189.4,152.6 L190.0,153.6 L191.3,154.2 L192.5,154.9 L191.9,156.2 L190.9,156.6 L189.6,156.1 L189.1,157.6 L188.5,158.8 L187.3,158.7 L186.4,159.1 L184.8,158.0 L184.1,159.0 L183.5,159.8 L184.3,160.5 L185.3,161.1 L184.5,162.9 L185.1,163.7 L185.8,164.5 L186.8,165.2 L186.4,166.7 L185.0,166.0 L183.9,166.2 L182.8,166.1 L181.9,166.6 L181.6,168.4 L180.5,168.4 L179.6,168.9 L178.3,168.5 L177.1,168.3 L176.6,169.8 L175.7,170.3 L175.1,171.3 L174.0,171.3 L172.5,170.6 L171.8,171.5 L170.6,172.3 L171.9,173.2 L172.1,174.3 L171.4,175.5 L171.5,176.7 L171.3,177.8 L172.9,178.7 L172.9,179.8 L172.7,180.6 L173.9,181.6 L175.0,181.5 L176.4,181.2 L175.7,182.0 L175.1,183.0 L173.5,182.9 L172.8,183.9 L172.1,184.7 L171.8,186.0 L171.2,186.9 L169.8,187.1 L169.0,188.2 L169.7,189.3 L171.3,189.4 L172.0,190.5 L172.7,191.7 L171.7,190.8 L170.6,191.0 L169.4,191.4 L168.4,191.4 L167.3,191.4 L166.3,190.5 L165.2,190.6 L164.1,190.5 L163.3,190.6 L163.6,191.7 L163.1,192.8 L163.2,193.9 L163.0,195.0 L163.8,196.1 L164.0,197.2 L163.9,198.3 L163.9,199.3 L162.8,199.1 L161.7,199.7 L160.6,199.8 L159.5,200.2 L158.4,199.9 L157.3,199.8 L156.2,200.1 L155.1,200.3 L155.2,201.5 L154.6,202.5 L154.4,203.6 L154.0,204.7 L154.1,205.8 L154.1,206.9 L153.7,208.0 L153.4,209.1 L154.1,210.0 L155.2,210.5 L156.1,211.1 L157.0,211.7 L157.8,212.6 L157.0,213.4 L156.6,214.3 L156.0,215.2 L155.7,216.3 L155.0,217.1 L154.2,218.0 L155.0,218.6 L155.7,219.3 L156.7,219.7 L157.5,220.4 L158.1,221.1 L158.9,221.8 L159.5,222.6 L160.3,223.1 L160.2,224.3 L160.0,225.5 L159.5,226.7 L158.5,226.6 L157.5,226.9 L156.4,227.1 L155.5,227.5 L154.4,227.5 L153.3,227.5 L153.0,228.5 L152.6,229.5 L152.7,230.7 L152.4,231.7 L151.9,232.7 L151.6,233.6 L150.5,233.6 L149.6,234.2 L148.7,234.5 L147.7,234.8 L146.7,234.9 L145.6,234.6 L144.7,235.0 L143.6,235.4 L143.6,236.4 L143.7,237.5 L143.0,238.4 L142.9,239.4"/>
<path d="M232.0,70.0 L238.0,62.0 L246.0,58.0 L252.0,50.0 L260.0,47.3 L264.4,48.0 L271.8,52.4 L277.7,54.0 L282.9,48.7 L282.2,41.4 L277.0,35.5 L279.2,29.5 L289.5,22.2 L298.4,20.7 L305.0,16.2 L304.3,6.6"/>
<path d="M208.6,104.7 L312.0,105.4 L309.6,90.0 L324.4,91.6 L400.0,91.1 L421.0,91.1 L459.0,93.1 L508.4,94.1 L547.8,94.8 L600.0,96.5 L637.0,96.5 L698.5,96.0 L767.4,94.8 L787.0,94.3 L805.6,98.0"/>
<path d="M637.0,96.5 L649.2,88.6 L676.3,83.7 L681.2,73.9 L696.0,70.2 L698.5,60.3 L707.0,55.4 L708.3,49.2 L737.9,35.7 L752.6,22.2 L763.7,13.5"/>
<path d="M749.0,6.2 L752.6,11.0 L763.7,12.3 L763.7,22.2 L769.9,28.3 L777.3,36.9 L785.9,41.9 L797.0,39.4 L805.6,34.5"/>
<path d="M787.0,94.3 L782.2,103.4 L783.4,110.8 L781.0,119.4 L772.3,118.2 L765.0,128.0 L757.6,139.0 L745.3,135.4 L733.0,140.3 L723.0,150.2 L715.7,152.6 L713.2,144.0 L703.4,147.7 L693.6,157.6 L691.0,167.4 L681.2,169.9 L671.4,172.3 L661.5,179.7 L649.2,188.3 L632.0,188.3 L619.7,194.5 L612.3,200.0 L611.0,200.0 L609.8,211.0 L600.0,216.0 L595.8,214.8 L592.1,217.2 L589.7,224.6 L588.4,238.7"/>
<path d="M143.5,239.2 L143.5,240.3 L143.6,241.3 L143.8,242.3 L143.3,243.5 L143.4,244.5 L144.4,245.3 L144.8,246.3 L145.1,247.2 L145.6,248.1 L145.4,249.4 L144.2,249.0 L143.3,249.4 L142.3,249.8 L141.3,250.1 L140.5,250.9 L139.5,251.3 L138.4,251.0 L137.4,251.1 L136.4,251.3 L135.7,251.4 L134.7,251.0 L133.6,250.8 L132.8,250.1 L132.1,249.4 L131.3,248.8 L130.2,248.1 L130.4,249.2 L131.2,250.2 L131.6,251.2 L132.0,252.3 L132.5,253.3 L132.2,254.6 L132.3,255.7 L132.9,256.5 L132.0,257.0 L131.2,257.7 L130.5,258.5 L129.4,258.6 L128.3,258.8 L127.4,259.3 L126.4,259.5 L125.3,260.5 L126.4,261.2 L126.8,262.3 L127.0,263.4 L127.4,264.4 L127.2,265.7 L127.7,266.1 L127.4,267.5 L126.6,268.3 L126.0,269.3 L125.1,270.0 L123.6,270.2 L122.7,271.4 L123.0,272.5 L123.0,273.5 L123.8,274.6 L123.9,275.7 L123.0,276.7 L122.8,277.8 L122.7,278.8 L122.4,279.9 L123.3,280.9 L124.1,282.0 L123.5,283.0 L123.4,284.1 L123.1,285.2 L122.4,285.4 L122.0,286.5 L122.0,288.0 L121.2,288.7 L120.7,289.7 L120.0,290.5 L118.3,290.2 L117.2,290.6 L117.0,291.9 L116.3,292.6 L116.0,293.9 L115.7,295.5 L114.0,295.0 L112.6,294.9 L111.8,295.6 L110.5,295.7 L110.2,297.3 L110.1,299.1 L108.9,298.9 L108.0,299.6 L107.0,300.2 L105.1,300.3 L105.4,301.9 L106.0,303.6 L105.2,304.4 L105.2,305.7 L103.6,306.3 L101.8,304.7 L101.0,305.8 L100.3,306.9 L99.3,307.6 L99.0,309.7 L98.3,307.9 L97.0,309.7 L97.5,310.6 L97.7,311.6 L97.9,312.7 L100.4,312.6 L101.8,313.0 L101.0,314.6 L101.3,315.9 L100.2,316.5 L98.1,316.6 L98.5,317.9 L100.0,319.8 L99.6,320.7 L99.3,321.6 L99.3,322.8 L96.9,322.7 L94.9,322.8 L95.7,324.3 L96.0,325.4 L95.1,326.0 L94.9,328.4 L93.7,328.3 L91.8,326.2 L90.8,326.5 L89.7,326.7 L88.6,326.7 L88.5,329.5 L88.0,331.1 L86.7,329.0 L87.0,330.1 L86.6,331.6 L85.6,333.5 L88.1,333.3 L90.2,333.4 L90.3,334.6 L91.5,335.2 L90.6,337.0 L88.9,336.8 L89.7,338.3 L90.1,339.7 L89.8,340.7 L91.2,342.6 L90.6,343.4 L87.6,343.1 L86.8,343.8 L87.1,344.4 L85.8,344.2 L85.7,347.0 L85.2,348.8 L83.5,347.4 L82.4,347.5 L80.5,348.3 L79.8,350.1 L82.5,349.6 L84.3,349.8 L84.5,351.0 L85.7,351.5 L84.7,353.5 L83.6,355.5 L86.0,354.5 L85.2,355.4 L84.3,355.9 L83.8,357.9 L82.6,357.6 L81.0,355.4 L80.0,355.6 L79.1,356.0 L78.0,355.8 L77.5,357.9 L78.4,357.1 L77.4,358.4 L76.8,359.6 L76.9,360.6 L75.7,362.0 L76.1,362.9 L78.6,363.4 L79.1,364.3 L79.0,365.3 L79.7,366.2 L78.6,367.4 L76.7,367.6 L77.2,369.0 L77.5,370.3 L77.1,371.2 L77.8,372.7 L77.2,373.6 L75.0,373.6 L74.9,375.8 L76.0,375.7 L76.9,376.3 L78.1,375.4 L79.4,374.3 L80.2,375.5 L81.0,376.4 L82.0,376.7 L82.7,377.9 L83.7,378.2 L85.4,377.5 L85.4,378.6 L84.7,379.5 L84.6,380.6 L83.2,381.2 L81.9,381.8 L82.4,383.1 L82.5,384.3 L82.2,385.3 L82.6,386.6 L81.8,386.9 L81.3,388.5 L82.1,389.3 L82.7,390.2 L83.5,391.1 L85.1,391.3 L85.5,392.4 L85.5,393.7 L86.1,394.6 L85.3,395.5 L85.1,396.6 L85.9,397.9 L85.6,399.0 L85.1,400.3 L84.2,400.9 L82.8,400.8 L81.9,401.3 L81.3,402.5 L80.4,403.1 L79.7,404.0 L78.8,404.8 L77.4,405.0 L77.6,406.1 L78.1,407.0 L78.4,408.0 L79.2,408.8 L80.0,409.6 L80.0,410.8 L80.1,411.9 L80.4,412.8 L80.5,414.0 L81.1,414.6 L81.0,415.9 L80.3,416.8 L79.6,417.7 L78.9,418.6 L77.8,419.1 L77.3,420.1 L77.0,421.3 L76.3,422.1 L77.3,421.5 L78.4,421.2 L79.7,421.5 L80.7,421.2 L81.8,420.8 L82.9,420.5 L83.8,419.6 L85.4,419.9 L84.6,420.6 L84.1,421.6 L83.6,422.4 L83.0,423.3 L83.1,424.4 L83.1,425.6 L82.6,426.4 L82.2,427.4 L81.7,428.3 L80.7,429.0 L80.3,429.9 L80.5,431.1 L80.2,432.0 L80.6,432.9 L81.2,433.8 L80.8,435.0 L80.5,436.1 L80.9,437.0 L81.2,438.0 L81.6,439.0 L82.6,439.7 L83.0,440.7 L82.5,441.9 L82.2,442.9 L81.8,444.0 L81.3,445.1 L82.2,446.3 L82.6,447.4 L82.0,448.5 L82.0,449.6 L81.1,450.6 L81.6,452.8 L82.4,451.6 L83.4,450.8 L84.4,450.4 L85.3,449.4 L86.7,450.2 L88.0,450.9 L88.9,450.0 L89.4,449.1 L89.7,450.3 L90.5,451.7 L89.4,452.4 L88.0,453.1 L87.7,454.1 L86.6,454.8 L86.5,455.8 L87.8,457.5 L87.6,458.5 L86.6,459.3 L86.2,460.4 L84.3,460.6 L83.2,461.3 L84.3,463.1 L84.0,463.6 L85.0,463.8 L86.3,463.5 L86.5,465.2 L86.6,467.2 L87.8,467.2 L88.9,467.2 L89.8,467.6 L91.5,466.5 L92.7,466.3 L92.8,468.4 L93.3,469.5 L94.1,470.0 L94.5,471.5 L95.8,471.2 L98.0,469.7 L98.7,470.5 L99.2,471.7 L100.3,473.0 L98.0,472.7 L96.7,473.1 L97.9,475.3 L97.9,476.5 L97.4,477.5 L97.7,479.0 L95.5,478.8 L93.2,478.4 L93.4,479.8 L93.3,480.7 L92.6,481.5 L92.5,484.1 L91.4,484.2 L89.5,482.4 L88.5,482.7 L87.3,482.6 L86.1,482.3 L86.2,485.2 L86.5,486.5 L84.7,486.3 L83.9,487.0 L82.3,486.9 L80.0,486.2 L80.6,488.3 L81.1,490.3 L80.1,490.9 L79.0,489.2 L79.9,490.3 L80.6,493.3 L81.7,493.1 L82.8,492.1 L83.8,492.3 L85.0,490.6 L86.2,489.3 L86.9,491.6 L87.8,493.2 L88.8,493.0 L88.3,491.5 L88.5,492.8 L90.6,495.3 L89.5,495.9 L88.1,496.4 L87.4,497.3 L84.8,497.1 L84.5,498.2 L86.2,500.4 L85.5,501.5 L85.2,502.7 L84.5,503.6 L81.7,502.3 L80.6,502.8 L80.8,504.5 L80.0,505.3 L80.5,507.3 L80.8,508.3 L78.1,508.0 L76.9,508.6 L76.4,509.6 L75.2,510.1 L76.5,512.2 L77.2,513.9 L75.5,514.1 L74.8,515.0 L73.6,515.3 L71.8,514.6 L71.9,516.7 L71.6,518.4 L70.6,518.8 L70.1,520.0 L68.4,519.5 L66.5,518.6 L66.0,521.1 L67.0,521.7 L68.1,522.3 L70.0,522.2 L69.7,523.9 L69.4,525.6 L70.3,526.3 L71.3,525.7 L70.3,526.8 L69.5,528.6 L68.3,528.0 L67.1,527.6 L66.0,527.6 L64.8,526.4 L63.8,527.1 L63.4,528.2 L63.1,529.2 L63.0,530.2 L62.9,531.2 L61.3,531.9 L60.4,532.7 L61.0,533.9 L61.0,534.9 L61.0,536.0 L61.6,537.2 L60.8,538.5 L59.2,538.2 L58.4,538.8 L57.6,539.4 L56.7,539.9 L56.4,541.3 L55.8,540.8 L56.5,541.9 L57.4,542.5 L58.3,543.3 L59.0,544.4 L60.3,544.0 L59.6,545.0 L58.6,545.4 L57.7,546.2 L56.5,546.3 L55.2,546.2 L54.4,547.1 L53.6,547.9 L52.7,548.5 L52.3,548.8 L52.4,549.8 L52.2,551.1 L52.7,552.0 L53.1,553.0 L53.5,553.9 L54.5,554.6 L55.1,555.5 L55.1,556.6 L55.4,557.7 L54.3,557.9 L53.2,557.9 L52.3,558.8 L51.4,559.6 L50.4,559.9 L49.6,560.0 L49.6,561.1 L49.5,562.2 L50.1,563.1 L50.7,564.0 L51.1,565.0 L51.9,565.9 L52.2,566.9 L52.0,568.1 L52.3,569.1 L53.0,569.7 L51.9,569.6 L50.8,570.2 L49.7,570.5 L48.6,570.0 L47.6,570.0 L46.5,569.8 L45.4,569.4 L44.2,570.0 L44.8,570.9 L44.8,572.0 L45.0,573.0 L45.0,574.0 L44.3,575.1 L44.4,576.2 L45.0,577.1 L45.2,578.2 L45.6,579.2 L46.1,580.1 L45.5,581.2 L45.1,582.5 L45.8,583.3 L46.1,584.3 L46.8,585.1 L48.1,585.6 L48.4,586.6 L48.3,587.8 L48.8,588.7 L48.8,589.9 L49.0,591.0 L50.4,591.5 L51.3,592.3 L51.6,593.4 L51.7,594.6"/>
<path d="M142.9,238.7 L299.8,238.2 L492.4,239.4 L588.4,238.7 L678.8,238.2 L703.4,230.8 L710.8,225.8 L730.5,220.9 L745.3,220.2 L772.3,221.7 L805.6,223.4"/>
<path d="M6.0,415.3 L78.8,415.3"/>
<path d="M53.0,594.6 L186.0,594.6 L181.0,600.0 L177.3,620.0 L179.3,627.9 L183.2,635.8 L189.1,640.7 L190.1,647.6 L193.0,653.5 L194.0,659.4 L197.0,666.3"/>
<path d="M299.8,238.2 L302.2,244.3 L307.1,246.8 L305.9,264.0 L302.2,298.5 L298.5,333.0 L294.8,367.5 L291.6,400.0 L286.2,449.3 L281.3,498.5 L279.3,513.3 L280.8,547.8 L282.5,577.3 L283.7,600.0 L284.5,624.6 L285.7,648.0"/>
<path d="M492.4,239.4 L498.5,273.9 L505.9,310.8 L512.1,347.8 L515.8,372.4 L520.0,400.0 L523.2,419.7 L525.6,432.0 L530.5,446.8 L536.7,457.9 L540.4,466.5 L537.9,475.1 L545.3,480.0 L545.3,485.0 L535.5,488.7 L533.0,498.5 L531.8,508.4 L528.0,518.2 L530.5,528.0 L533.0,537.9 L534.2,547.8 L530.5,562.6 L529.3,574.9 L535.5,587.2 L537.9,594.6 L540.0,601.0 L547.3,619.7"/>
<path d="M344.0,594.6 L537.9,594.6"/>
<path d="M344.0,594.6 L342.4,600.0 L343.6,609.9 L353.4,619.7 L358.4,624.6 L358.4,632.0 L355.9,637.0"/>
<path d="M547.3,619.7 L585.5,622.2 L622.4,624.1 L650.0,625.1 L678.8,627.7 L725.4,631.0 L744.8,632.3 L746.1,646.6 L751.3,650.5 L757.7,649.2 L760.3,628.5 L757.7,615.5 L764.2,610.3 L774.5,611.6 L784.9,616.8 L795.2,619.4 L803.0,620.7"/>
<path d="M678.8,238.2 L676.3,243.1 L666.5,251.7 L660.3,262.8 L671.4,272.6 L683.7,283.7 L694.8,284.2 L698.5,293.5 L705.9,305.9 L708.3,313.2 L718.2,328.0 L732.9,339.1 L742.8,350.2 L747.7,360.0 L760.0,367.4 L767.4,377.3 L766.2,384.6 L772.3,392.0 L778.5,400.0 L782.2,405.0 L790.8,408.6 L797.0,414.8 L799.4,424.6 L804.3,437.0 L806.0,440.0"/>
</g><g fill="none" stroke="#e8e8e8" stroke-width="1">
<circle cx="406.0" cy="406.0" r="159.2"/>
<circle cx="406.0" cy="406.0" r="278.8"/>
<circle cx="406.0" cy="406.0" r="398.5"/>
<circle cx="406.0" cy="406.0" r="518.0"/>
</g>
<circle cx="406.0" cy="406.0" r="39.5" fill="none" stroke="#f01414" stroke-width="1.4"/>
<path d="M167.3,121.3 L228,58" stroke="#e0e0e0" stroke-width="1.1" fill="none"/>
<g fill="none" stroke-width="1.05" stroke-linecap="butt">
<g stroke="#ff6e10"><circle cx="235.5" cy="25.5" r="4"/><path d="M233.0,25.5h5M235.5,23.0v5"/></g>
<g stroke="#ff6e10"><circle cx="164.5" cy="84.5" r="4"/><path d="M162.0,84.5h5"/></g>
<g stroke="#ff6e10"><circle cx="219.5" cy="83.5" r="4"/><path d="M217.0,83.5h5"/></g>
<g stroke="#ff6e10"><circle cx="187.5" cy="83.5" r="4"/><path d="M185.0,83.5h5"/></g>
<g stroke="#ff6e10"><circle cx="221.5" cy="66.5" r="4"/><path d="M219.0,66.5h5M221.5,64.0v5"/></g>
<g stroke="#ff6e10"><circle cx="239.5" cy="51.5" r="4"/><path d="M237.0,51.5h5"/></g>
<g stroke="#ff6e10"><circle cx="241.5" cy="45.5" r="4"/><path d="M239.0,45.5h5"/></g>
<g stroke="#ff6e10"><circle cx="220.5" cy="47.5" r="4"/><path d="M218.0,47.5h5"/></g>
<g stroke="#ff6e10"><circle cx="264.5" cy="28.5" r="4"/><path d="M262.0,28.5h5"/></g>
<g stroke="#ff6e10"><circle cx="226.5" cy="50.5" r="4"/><path d="M224.0,50.5h5"/></g>
<g stroke="#ff6e10"><circle cx="241.5" cy="60.5" r="4"/><path d="M239.0,60.5h5"/></g>
<g stroke="#ff6e10"><circle cx="77.5" cy="103.5" r="4"/><path d="M75.0,103.5h5"/></g>
<g stroke="#ff6e10"><circle cx="18.5" cy="112.5" r="4"/><path d="M16.0,112.5h5"/></g>
<g stroke="#ff6e10"><circle cx="71.5" cy="145.5" r="4"/><path d="M69.0,145.5h5"/></g>
<path stroke="#ff6e10" d="M13.0,194.5h7M16.5,191.0v7"/>
<g stroke="#ff6e10"><circle cx="139.5" cy="194.5" r="4"/><path d="M137.0,194.5h5"/></g>
<g stroke="#ff6e10"><circle cx="116.5" cy="110.5" r="4"/><path d="M114.0,110.5h5"/></g>
<g stroke="#ff6e10"><circle cx="193.5" cy="48.5" r="4"/><path d="M191.0,48.5h5"/></g>
<g stroke="#ff6e10"><circle cx="163.5" cy="85.5" r="4"/><path d="M161.0,85.5h5"/></g>
<g stroke="#ff6e10"><circle cx="183.5" cy="87.5" r="4"/><path d="M181.0,87.5h5"/></g>
<g stroke="#ff6e10"><circle cx="170.5" cy="95.5" r="4"/><path d="M168.0,95.5h5"/></g>
<g stroke="#ff6e10"><circle cx="276.5" cy="10.5" r="4"/><path d="M274.0,10.5h5"/></g>
<g stroke="#ff6e10"><circle cx="273.5" cy="14.5" r="4"/><path d="M271.0,14.5h5"/></g>
<g stroke="#ff6e10"><circle cx="296.5" cy="16.5" r="4"/><path d="M294.0,16.5h5"/></g>
<g stroke="#ff6e10"><circle cx="273.5" cy="40.5" r="4"/><path d="M271.0,40.5h5"/></g>
<g stroke="#ff6e10"><circle cx="244.5" cy="49.5" r="4"/><path d="M242.0,49.5h5"/></g>
<g stroke="#ff6e10"><circle cx="259.5" cy="54.5" r="4"/><path d="M257.0,54.5h5"/></g>
<g stroke="#ff6e10"><circle cx="249.5" cy="70.5" r="4"/><path d="M247.0,70.5h5M249.5,68.0v5"/></g>
<g stroke="#ff6e10"><circle cx="216.5" cy="68.5" r="4"/><path d="M214.0,68.5h5M216.5,66.0v5"/></g>
<g stroke="#ff6e10"><circle cx="283.5" cy="85.5" r="4"/><path d="M281.0,85.5h5"/></g>
<g stroke="#ff6e10"><circle cx="324.5" cy="52.5" r="4"/><path d="M322.0,52.5h5"/></g>
<g stroke="#ff6e10"><circle cx="8.5" cy="223.5" r="4"/><path d="M6.0,223.5h5"/></g>
<g stroke="#ff6e10"><circle cx="80.5" cy="222.5" r="4"/><path d="M78.0,222.5h5M80.5,220.0v5"/></g>
<path stroke="#ff6e10" d="M76.0,227.5h7"/>
<g stroke="#ff6e10"><circle cx="145.5" cy="203.5" r="4"/><path d="M143.0,203.5h5"/></g>
<g stroke="#ff6e10"><circle cx="156.5" cy="201.5" r="4"/><path d="M154.0,201.5h5"/></g>
<path stroke="#ff6e10" d="M144.0,207.5h7"/>
<path stroke="#ff6e10" d="M155.0,207.5h7"/>
<g stroke="#ff6e10"><circle cx="130.5" cy="394.5" r="4"/><path d="M128.0,394.5h5"/></g>
<g stroke="#ff6e10"><circle cx="81.5" cy="554.5" r="4"/><path d="M79.0,554.5h5M81.5,552.0v5"/></g>
<path stroke="#ff6e10" d="M59.0,595.5h7M62.5,592.0v7"/>
<g stroke="#ff6e10"><circle cx="24.5" cy="611.5" r="4"/><path d="M22.0,611.5h5"/></g>
<g stroke="#ff6e10"><circle cx="69.5" cy="696.5" r="4"/><path d="M67.0,696.5h5"/></g>
<g stroke="#ff6e10"><circle cx="82.5" cy="718.5" r="4"/><path d="M80.0,718.5h5"/></g>
<g stroke="#ff6e10"><circle cx="112.5" cy="735.5" r="4"/><path d="M110.0,735.5h5"/></g>
<g stroke="#ff6e10"><circle cx="139.5" cy="756.5" r="4"/><path d="M137.0,756.5h5"/></g>
<g stroke="#ff6e10"><circle cx="519.5" cy="765.5" r="4"/><path d="M517.0,765.5h5"/></g>
<path stroke="#ff6e10" d="M198.0,134.5h7"/>
<g stroke="#ffa000"><circle cx="267.5" cy="37.5" r="4"/><path d="M265.0,37.5h5"/></g>
<g stroke="#ffa000"><circle cx="228.5" cy="48.5" r="4"/><path d="M226.0,48.5h5"/></g>
<g stroke="#ffa000"><circle cx="226.5" cy="54.5" r="4"/><path d="M224.0,54.5h5"/></g>
<g stroke="#ffa000"><circle cx="194.5" cy="68.5" r="4"/><path d="M192.0,68.5h5"/></g>
<g stroke="#ffa000"><circle cx="211.5" cy="98.5" r="4"/><path d="M209.0,98.5h5"/></g>
<g stroke="#ffa000"><circle cx="167.5" cy="91.5" r="4"/><path d="M165.0,91.5h5"/></g>
<g stroke="#ffa000"><circle cx="195.5" cy="70.5" r="4"/><path d="M193.0,70.5h5"/></g>
<g stroke="#ffa000"><circle cx="215.5" cy="58.5" r="4"/><path d="M213.0,58.5h5"/></g>
<g stroke="#ffa000"><circle cx="241.5" cy="43.5" r="4"/><path d="M239.0,43.5h5"/></g>
<g stroke="#ffa000"><circle cx="236.5" cy="36.5" r="4"/><path d="M234.0,36.5h5"/></g>
<g stroke="#ffa000"><circle cx="191.5" cy="66.5" r="4"/><path d="M189.0,66.5h5"/></g>
<g stroke="#ffa000"><circle cx="174.5" cy="60.5" r="4"/><path d="M172.0,60.5h5"/></g>
<g stroke="#ffa000"><circle cx="265.5" cy="46.5" r="4"/><path d="M263.0,46.5h5"/></g>
<g stroke="#ffa000"><circle cx="212.5" cy="64.5" r="4"/><path d="M210.0,64.5h5M212.5,62.0v5"/></g>
<g stroke="#ffa000"><circle cx="253.5" cy="16.5" r="4"/><path d="M251.0,16.5h5"/></g>
<g stroke="#ffa000"><circle cx="236.5" cy="50.5" r="4"/><path d="M234.0,50.5h5"/></g>
<g stroke="#ffa000"><circle cx="225.5" cy="63.5" r="4"/><path d="M223.0,63.5h5"/></g>
<g stroke="#ffa000"><circle cx="247.5" cy="48.5" r="4"/><path d="M245.0,48.5h5"/></g>
<g stroke="#ffa000"><circle cx="249.5" cy="24.5" r="4"/><path d="M247.0,24.5h5"/></g>
<g stroke="#ffa000"><circle cx="271.5" cy="23.5" r="4"/><path d="M269.0,23.5h5"/></g>
<g stroke="#ffa000"><circle cx="215.5" cy="68.5" r="4"/><path d="M213.0,68.5h5"/></g>
<g stroke="#ffa000"><circle cx="254.5" cy="23.5" r="4"/><path d="M252.0,23.5h5M254.5,21.0v5"/></g>
<g stroke="#ffa000"><circle cx="236.5" cy="48.5" r="4"/><path d="M234.0,48.5h5"/></g>
<g stroke="#ffa000"><circle cx="226.5" cy="41.5" r="4"/><path d="M224.0,41.5h5"/></g>
<g stroke="#ffa000"><circle cx="187.5" cy="64.5" r="4"/><path d="M185.0,64.5h5"/></g>
<g stroke="#ffa000"><circle cx="221.5" cy="64.5" r="4"/><path d="M219.0,64.5h5"/></g>
<g stroke="#ffa000"><circle cx="182.5" cy="67.5" r="4"/><path d="M180.0,67.5h5"/></g>
<g stroke="#ffa000"><circle cx="214.5" cy="43.5" r="4"/><path d="M212.0,43.5h5"/></g>
<g stroke="#ffa000"><circle cx="122.5" cy="28.5" r="4"/><path d="M120.0,28.5h5"/></g>
<g stroke="#ffa000"><circle cx="114.5" cy="42.5" r="4"/><path d="M112.0,42.5h5"/></g>
<g stroke="#ffa000"><circle cx="63.5" cy="62.5" r="4"/><path d="M61.0,62.5h5"/></g>
<g stroke="#ffa000"><circle cx="86.5" cy="67.5" r="4"/><path d="M84.0,67.5h5"/></g>
<path stroke="#ffa000" d="M85.0,63.5h7M88.5,60.0v7"/>
<g stroke="#ffa000"><circle cx="99.5" cy="69.5" r="4"/><path d="M97.0,69.5h5"/></g>
<g stroke="#ffa000"><circle cx="59.5" cy="82.5" r="4"/><path d="M57.0,82.5h5"/></g>
<g stroke="#ffa000"><circle cx="75.5" cy="91.5" r="4"/><path d="M73.0,91.5h5"/></g>
<g stroke="#ffa000"><circle cx="111.5" cy="101.5" r="4"/><path d="M109.0,101.5h5"/></g>
<g stroke="#ffa000"><circle cx="136.5" cy="73.5" r="4"/><path d="M134.0,73.5h5"/></g>
<g stroke="#ffa000"><circle cx="132.5" cy="85.5" r="4"/><path d="M130.0,85.5h5M132.5,83.0v5"/></g>
<g stroke="#ffa000"><circle cx="90.5" cy="126.5" r="4"/><path d="M88.0,126.5h5"/></g>
<g stroke="#ffa000"><circle cx="10.5" cy="164.5" r="4"/><path d="M8.0,164.5h5"/></g>
<g stroke="#ffa000"><circle cx="49.5" cy="163.5" r="4"/><path d="M47.0,163.5h5"/></g>
<g stroke="#ffa000"><circle cx="55.5" cy="162.5" r="4"/><path d="M53.0,162.5h5"/></g>
<g stroke="#ffa000"><circle cx="65.5" cy="166.5" r="4"/><path d="M63.0,166.5h5"/></g>
<g stroke="#ffa000"><circle cx="65.5" cy="169.5" r="4"/><path d="M63.0,169.5h5"/></g>
<g stroke="#ffa000"><circle cx="114.5" cy="156.5" r="4"/><path d="M112.0,156.5h5"/></g>
<g stroke="#ffa000"><circle cx="15.5" cy="204.5" r="4"/><path d="M13.0,204.5h5"/></g>
<g stroke="#ffa000"><circle cx="76.5" cy="197.5" r="4"/><path d="M74.0,197.5h5"/></g>
<g stroke="#ffa000"><circle cx="166.5" cy="48.5" r="4"/><path d="M164.0,48.5h5M166.5,46.0v5"/></g>
<g stroke="#ffa000"><circle cx="167.5" cy="51.5" r="4"/><path d="M165.0,51.5h5"/></g>
<g stroke="#ffa000"><circle cx="181.5" cy="46.5" r="4"/><path d="M179.0,46.5h5"/></g>
<g stroke="#ffa000"><circle cx="177.5" cy="49.5" r="4"/><path d="M175.0,49.5h5"/></g>
<g stroke="#ffa000"><circle cx="182.5" cy="57.5" r="4"/><path d="M180.0,57.5h5M182.5,55.0v5"/></g>
<g stroke="#ffa000"><circle cx="186.5" cy="60.5" r="4"/><path d="M184.0,60.5h5"/></g>
<g stroke="#ffa000"><circle cx="175.5" cy="62.5" r="4"/><path d="M173.0,62.5h5M175.5,60.0v5"/></g>
<g stroke="#ffa000"><circle cx="185.5" cy="62.5" r="4"/><path d="M183.0,62.5h5"/></g>
<g stroke="#ffa000"><circle cx="193.5" cy="64.5" r="4"/><path d="M191.0,64.5h5"/></g>
<g stroke="#ffa000"><circle cx="197.5" cy="60.5" r="4"/><path d="M195.0,60.5h5"/></g>
<g stroke="#ffa000"><circle cx="179.5" cy="72.5" r="4"/><path d="M177.0,72.5h5"/></g>
<g stroke="#ffa000"><circle cx="149.5" cy="86.5" r="4"/><path d="M147.0,86.5h5"/></g>
<g stroke="#ffa000"><circle cx="150.5" cy="87.5" r="4"/><path d="M148.0,87.5h5M150.5,85.0v5"/></g>
<g stroke="#ffa000"><circle cx="172.5" cy="84.5" r="4"/><path d="M170.0,84.5h5"/></g>
<g stroke="#ffa000"><circle cx="160.5" cy="99.5" r="4"/><path d="M158.0,99.5h5M160.5,97.0v5"/></g>
<g stroke="#ffa000"><circle cx="141.5" cy="102.5" r="4"/><path d="M139.0,102.5h5"/></g>
<g stroke="#ffa000"><circle cx="199.5" cy="44.5" r="4"/><path d="M197.0,44.5h5"/></g>
<g stroke="#ffa000"><circle cx="189.5" cy="55.5" r="4"/><path d="M187.0,55.5h5"/></g>
<g stroke="#ffa000"><circle cx="176.5" cy="55.5" r="4"/><path d="M174.0,55.5h5"/></g>
<g stroke="#ffa000"><circle cx="188.5" cy="68.5" r="4"/><path d="M186.0,68.5h5"/></g>
<g stroke="#ffa000"><circle cx="195.5" cy="53.5" r="4"/><path d="M193.0,53.5h5"/></g>
<g stroke="#ffa000"><circle cx="256.5" cy="10.5" r="4"/><path d="M254.0,10.5h5"/></g>
<g stroke="#ffa000"><circle cx="309.5" cy="11.5" r="4"/><path d="M307.0,11.5h5"/></g>
<g stroke="#ffa000"><circle cx="268.5" cy="20.5" r="4"/><path d="M266.0,20.5h5"/></g>
<g stroke="#ffa000"><circle cx="270.5" cy="25.5" r="4"/><path d="M268.0,25.5h5"/></g>
<g stroke="#ffa000"><circle cx="266.5" cy="28.5" r="4"/><path d="M264.0,28.5h5"/></g>
<g stroke="#ffa000"><circle cx="294.5" cy="32.5" r="4"/><path d="M292.0,32.5h5"/></g>
<g stroke="#ffa000"><circle cx="283.5" cy="30.5" r="4"/><path d="M281.0,30.5h5"/></g>
<g stroke="#ffa000"><circle cx="234.5" cy="28.5" r="4"/><path d="M232.0,28.5h5"/></g>
<g stroke="#ffa000"><circle cx="218.5" cy="33.5" r="4"/><path d="M216.0,33.5h5"/></g>
<g stroke="#ffa000"><circle cx="229.5" cy="34.5" r="4"/><path d="M227.0,34.5h5"/></g>
<g stroke="#ffa000"><circle cx="256.5" cy="34.5" r="4"/><path d="M254.0,34.5h5"/></g>
<g stroke="#ffa000"><circle cx="251.5" cy="36.5" r="4"/><path d="M249.0,36.5h5"/></g>
<path stroke="#ffa000" d="M256.0,46.5h7M259.5,43.0v7"/>
<g stroke="#ffa000"><circle cx="222.5" cy="52.5" r="4"/><path d="M220.0,52.5h5"/></g>
<g stroke="#ffa000"><circle cx="261.5" cy="75.5" r="4"/><path d="M259.0,75.5h5"/></g>
<path stroke="#ffa000" d="M265.0,76.5h7"/>
<g stroke="#ffa000"><circle cx="204.5" cy="72.5" r="4"/><path d="M202.0,72.5h5"/></g>
<g stroke="#ffa000"><circle cx="202.5" cy="78.5" r="4"/><path d="M200.0,78.5h5"/></g>
<g stroke="#ffa000"><circle cx="257.5" cy="88.5" r="4"/><path d="M255.0,88.5h5"/></g>
<g stroke="#ffa000"><circle cx="218.5" cy="98.5" r="4"/><path d="M216.0,98.5h5M218.5,96.0v5"/></g>
<g stroke="#ffa000"><circle cx="228.5" cy="96.5" r="4"/><path d="M226.0,96.5h5"/></g>
<g stroke="#ffa000"><circle cx="257.5" cy="94.5" r="4"/><path d="M255.0,94.5h5"/></g>
<g stroke="#ffa000"><circle cx="204.5" cy="110.5" r="4"/><path d="M202.0,110.5h5"/></g>
<g stroke="#ffa000"><circle cx="236.5" cy="105.5" r="4"/><path d="M234.0,105.5h5M236.5,103.0v5"/></g>
<g stroke="#ffa000"><circle cx="253.5" cy="110.5" r="4"/><path d="M251.0,110.5h5M253.5,108.0v5"/></g>
<g stroke="#ffa000"><circle cx="217.5" cy="114.5" r="4"/><path d="M215.0,114.5h5M217.5,112.0v5"/></g>
<g stroke="#ffa000"><circle cx="225.5" cy="115.5" r="4"/><path d="M223.0,115.5h5"/></g>
<g stroke="#ffa000"><circle cx="235.5" cy="114.5" r="4"/><path d="M233.0,114.5h5M235.5,112.0v5"/></g>
<g stroke="#ffa000"><circle cx="216.5" cy="121.5" r="4"/><path d="M214.0,121.5h5"/></g>
<g stroke="#ffa000"><circle cx="313.5" cy="54.5" r="4"/><path d="M311.0,54.5h5"/></g>
<g stroke="#ffa000"><circle cx="296.5" cy="66.5" r="4"/><path d="M294.0,66.5h5"/></g>
<path stroke="#ffa000" d="M305.0,65.5h7M308.5,62.0v7"/>
<path stroke="#ffa000" d="M300.0,66.5h7"/>
<g stroke="#ffa000"><circle cx="312.5" cy="76.5" r="4"/><path d="M310.0,76.5h5"/></g>
<path stroke="#ffa000" d="M323.0,112.5h7"/>
<g stroke="#ffa000"><circle cx="324.5" cy="124.5" r="4"/><path d="M322.0,124.5h5"/></g>
<g stroke="#ffa000"><circle cx="76.5" cy="211.5" r="4"/><path d="M74.0,211.5h5"/></g>
<g stroke="#ffa000"><circle cx="12.5" cy="231.5" r="4"/><path d="M10.0,231.5h5M12.5,229.0v5"/></g>
<g stroke="#ffa000"><circle cx="93.5" cy="222.5" r="4"/><path d="M91.0,222.5h5"/></g>
<g stroke="#ffa000"><circle cx="99.5" cy="232.5" r="4"/><path d="M97.0,232.5h5"/></g>
<path stroke="#ffa000" d="M91.0,236.5h7"/>
<path stroke="#ffa000" d="M56.0,235.5h7"/>
<path stroke="#ffa000" d="M96.0,252.5h7"/>
<g stroke="#ffa000"><circle cx="26.5" cy="260.5" r="4"/><path d="M24.0,260.5h5"/></g>
<g stroke="#ffa000"><circle cx="64.5" cy="625.5" r="4"/><path d="M62.0,625.5h5"/></g>
<g stroke="#ffa000"><circle cx="83.5" cy="634.5" r="4"/><path d="M81.0,634.5h5M83.5,632.0v5"/></g>
<path stroke="#ffa000" d="M124.0,706.5h7"/>
<g stroke="#ffa000"><circle cx="82.5" cy="715.5" r="4"/><path d="M80.0,715.5h5"/></g>
<g stroke="#ffa000"><circle cx="110.5" cy="723.5" r="4"/><path d="M108.0,723.5h5"/></g>
<g stroke="#ffa000"><circle cx="134.5" cy="724.5" r="4"/><path d="M132.0,724.5h5M134.5,722.0v5"/></g>
<g stroke="#ffa000"><circle cx="150.5" cy="634.5" r="4"/><path d="M148.0,634.5h5"/></g>
<g stroke="#ffc60a"><circle cx="209.5" cy="68.5" r="4"/><path d="M207.0,68.5h5"/></g>
<g stroke="#ffc60a"><circle cx="219.5" cy="48.5" r="4"/><path d="M217.0,48.5h5"/></g>
<g stroke="#ffc60a"><circle cx="255.5" cy="35.5" r="4"/><path d="M253.0,35.5h5"/></g>
<g stroke="#ffc60a"><circle cx="206.5" cy="71.5" r="4"/><path d="M204.0,71.5h5"/></g>
<g stroke="#ffc60a"><circle cx="229.5" cy="54.5" r="4"/><path d="M227.0,54.5h5M229.5,52.0v5"/></g>
<g stroke="#ffc60a"><circle cx="214.5" cy="69.5" r="4"/><path d="M212.0,69.5h5"/></g>
<g stroke="#ffc60a"><circle cx="190.5" cy="76.5" r="4"/><path d="M188.0,76.5h5"/></g>
<g stroke="#ffc60a"><circle cx="205.5" cy="55.5" r="4"/><path d="M203.0,55.5h5"/></g>
<g stroke="#ffc60a"><circle cx="205.5" cy="67.5" r="4"/><path d="M203.0,67.5h5M205.5,65.0v5"/></g>
<g stroke="#ffc60a"><circle cx="192.5" cy="94.5" r="4"/><path d="M190.0,94.5h5"/></g>
<g stroke="#ffc60a"><circle cx="195.5" cy="66.5" r="4"/><path d="M193.0,66.5h5"/></g>
<g stroke="#ffc60a"><circle cx="204.5" cy="46.5" r="4"/><path d="M202.0,46.5h5"/></g>
<g stroke="#ffc60a"><circle cx="270.5" cy="47.5" r="4"/><path d="M268.0,47.5h5"/></g>
<g stroke="#ffc60a"><circle cx="243.5" cy="32.5" r="4"/><path d="M241.0,32.5h5M243.5,30.0v5"/></g>
<g stroke="#ffc60a"><circle cx="250.5" cy="40.5" r="4"/><path d="M248.0,40.5h5M250.5,38.0v5"/></g>
<g stroke="#ffc60a"><circle cx="213.5" cy="64.5" r="4"/><path d="M211.0,64.5h5"/></g>
<g stroke="#ffc60a"><circle cx="206.5" cy="66.5" r="4"/><path d="M204.0,66.5h5"/></g>
<g stroke="#ffc60a"><circle cx="265.5" cy="19.5" r="4"/><path d="M263.0,19.5h5"/></g>
<g stroke="#ffc60a"><circle cx="245.5" cy="38.5" r="4"/><path d="M243.0,38.5h5"/></g>
<g stroke="#ffc60a"><circle cx="209.5" cy="54.5" r="4"/><path d="M207.0,54.5h5"/></g>
<g stroke="#ffc60a"><circle cx="232.5" cy="77.5" r="4"/><path d="M230.0,77.5h5"/></g>
<g stroke="#ffc60a"><circle cx="207.5" cy="85.5" r="4"/><path d="M205.0,85.5h5"/></g>
<g stroke="#ffc60a"><circle cx="215.5" cy="74.5" r="4"/><path d="M213.0,74.5h5"/></g>
<path stroke="#ffc60a" d="M39.0,116.5h7"/>
<g stroke="#ffc60a"><circle cx="16.5" cy="147.5" r="4"/><path d="M14.0,147.5h5M16.5,145.0v5"/></g>
<g stroke="#ffc60a"><circle cx="86.5" cy="167.5" r="4"/><path d="M84.0,167.5h5M86.5,165.0v5"/></g>
<path stroke="#ffc60a" d="M125.0,151.5h7M128.5,148.0v7"/>
<g stroke="#ffc60a"><circle cx="75.5" cy="179.5" r="4"/><path d="M73.0,179.5h5"/></g>
<path stroke="#ffc60a" d="M68.0,182.5h7"/>
<g stroke="#ffc60a"><circle cx="39.5" cy="190.5" r="4"/><path d="M37.0,190.5h5M39.5,188.0v5"/></g>
<g stroke="#ffc60a"><circle cx="43.5" cy="201.5" r="4"/><path d="M41.0,201.5h5"/></g>
<path stroke="#ffc60a" d="M84.0,195.5h7"/>
<path stroke="#ffc60a" d="M91.0,192.5h7"/>
<g stroke="#ffc60a"><circle cx="135.5" cy="113.5" r="4"/><path d="M133.0,113.5h5M135.5,111.0v5"/></g>
<g stroke="#ffc60a"><circle cx="195.5" cy="35.5" r="4"/><path d="M193.0,35.5h5"/></g>
<g stroke="#ffc60a"><circle cx="199.5" cy="36.5" r="4"/><path d="M197.0,36.5h5M199.5,34.0v5"/></g>
<g stroke="#ffc60a"><circle cx="165.5" cy="63.5" r="4"/><path d="M163.0,63.5h5"/></g>
<g stroke="#ffc60a"><circle cx="178.5" cy="72.5" r="4"/><path d="M176.0,72.5h5"/></g>
<g stroke="#ffc60a"><circle cx="184.5" cy="79.5" r="4"/><path d="M182.0,79.5h5"/></g>
<g stroke="#ffc60a"><circle cx="141.5" cy="90.5" r="4"/><path d="M139.0,90.5h5"/></g>
<g stroke="#ffc60a"><circle cx="191.5" cy="84.5" r="4"/><path d="M189.0,84.5h5M191.5,82.0v5"/></g>
<path stroke="#ffc60a" d="M185.0,90.5h7M188.5,87.0v7"/>
<g stroke="#ffc60a"><circle cx="168.5" cy="108.5" r="4"/><path d="M166.0,108.5h5"/></g>
<g stroke="#ffc60a"><circle cx="196.5" cy="118.5" r="4"/><path d="M194.0,118.5h5M196.5,116.0v5"/></g>
<g stroke="#ffc60a"><circle cx="171.5" cy="60.5" r="4"/><path d="M169.0,60.5h5"/></g>
<g stroke="#ffc60a"><circle cx="196.5" cy="70.5" r="4"/><path d="M194.0,70.5h5"/></g>
<g stroke="#ffc60a"><circle cx="198.5" cy="55.5" r="4"/><path d="M196.0,55.5h5"/></g>
<g stroke="#ffc60a"><circle cx="287.5" cy="9.5" r="4"/><path d="M285.0,9.5h5"/></g>
<g stroke="#ffc60a"><circle cx="213.5" cy="17.5" r="4"/><path d="M211.0,17.5h5"/></g>
<g stroke="#ffc60a"><circle cx="261.5" cy="17.5" r="4"/><path d="M259.0,17.5h5M261.5,15.0v5"/></g>
<g stroke="#ffc60a"><circle cx="252.5" cy="19.5" r="4"/><path d="M250.0,19.5h5"/></g>
<g stroke="#ffc60a"><circle cx="252.5" cy="23.5" r="4"/><path d="M250.0,23.5h5"/></g>
<g stroke="#ffc60a"><circle cx="297.5" cy="27.5" r="4"/><path d="M295.0,27.5h5"/></g>
<path stroke="#ffc60a" d="M203.0,28.5h7M206.5,25.0v7"/>
<g stroke="#ffc60a"><circle cx="224.5" cy="23.5" r="4"/><path d="M222.0,23.5h5"/></g>
<g stroke="#ffc60a"><circle cx="228.5" cy="24.5" r="4"/><path d="M226.0,24.5h5"/></g>
<g stroke="#ffc60a"><circle cx="240.5" cy="30.5" r="4"/><path d="M238.0,30.5h5"/></g>
<g stroke="#ffc60a"><circle cx="236.5" cy="36.5" r="4"/><path d="M234.0,36.5h5"/></g>
<g stroke="#ffc60a"><circle cx="241.5" cy="36.5" r="4"/><path d="M239.0,36.5h5"/></g>
<g stroke="#ffc60a"><circle cx="207.5" cy="36.5" r="4"/><path d="M205.0,36.5h5"/></g>
<g stroke="#ffc60a"><circle cx="212.5" cy="40.5" r="4"/><path d="M210.0,40.5h5"/></g>
<g stroke="#ffc60a"><circle cx="204.5" cy="44.5" r="4"/><path d="M202.0,44.5h5"/></g>
<path stroke="#ffc60a" d="M247.0,46.5h7M250.5,43.0v7"/>
<g stroke="#ffc60a"><circle cx="267.5" cy="60.5" r="4"/><path d="M265.0,60.5h5"/></g>
<g stroke="#ffc60a"><circle cx="204.5" cy="52.5" r="4"/><path d="M202.0,52.5h5"/></g>
<g stroke="#ffc60a"><circle cx="211.5" cy="49.5" r="4"/><path d="M209.0,49.5h5"/></g>
<g stroke="#ffc60a"><circle cx="214.5" cy="56.5" r="4"/><path d="M212.0,56.5h5"/></g>
<g stroke="#ffc60a"><circle cx="213.5" cy="76.5" r="4"/><path d="M211.0,76.5h5M213.5,74.0v5"/></g>
<g stroke="#ffc60a"><circle cx="235.5" cy="96.5" r="4"/><path d="M233.0,96.5h5M235.5,94.0v5"/></g>
<g stroke="#ffc60a"><circle cx="243.5" cy="94.5" r="4"/><path d="M241.0,94.5h5"/></g>
<g stroke="#ffc60a"><circle cx="248.5" cy="94.5" r="4"/><path d="M246.0,94.5h5"/></g>
<g stroke="#ffc60a"><circle cx="252.5" cy="96.5" r="4"/><path d="M250.0,96.5h5"/></g>
<g stroke="#ffc60a"><circle cx="225.5" cy="106.5" r="4"/><path d="M223.0,106.5h5"/></g>
<path stroke="#ffc60a" d="M206.0,123.5h7"/>
<g stroke="#ffc60a"><circle cx="312.5" cy="75.5" r="4"/><path d="M310.0,75.5h5"/></g>
<g stroke="#ffc60a"><circle cx="59.5" cy="208.5" r="4"/><path d="M57.0,208.5h5"/></g>
<g stroke="#ffc60a"><circle cx="52.5" cy="216.5" r="4"/><path d="M50.0,216.5h5M52.5,214.0v5"/></g>
<g stroke="#ffc60a"><circle cx="53.5" cy="220.5" r="4"/><path d="M51.0,220.5h5"/></g>
<g stroke="#ffc60a"><circle cx="45.5" cy="226.5" r="4"/><path d="M43.0,226.5h5"/></g>
<g stroke="#ffc60a"><circle cx="40.5" cy="238.5" r="4"/><path d="M38.0,238.5h5"/></g>
<g stroke="#ffc60a"><circle cx="23.5" cy="481.5" r="4"/><path d="M21.0,481.5h5M23.5,479.0v5"/></g>
<g stroke="#ffc60a"><circle cx="53.5" cy="484.5" r="4"/><path d="M51.0,484.5h5"/></g>
<path stroke="#ffc60a" d="M88.0,553.5h7"/>
<path stroke="#ffc60a" d="M81.0,561.5h7"/>
<g stroke="#ffc60a"><circle cx="29.5" cy="568.5" r="4"/><path d="M27.0,568.5h5"/></g>
<g stroke="#ffc60a"><circle cx="113.5" cy="570.5" r="4"/><path d="M111.0,570.5h5"/></g>
<g stroke="#ffc60a"><circle cx="29.5" cy="600.5" r="4"/><path d="M27.0,600.5h5M29.5,598.0v5"/></g>
<g stroke="#ffc60a"><circle cx="24.5" cy="605.5" r="4"/><path d="M22.0,605.5h5"/></g>
<g stroke="#ffc60a"><circle cx="50.5" cy="634.5" r="4"/><path d="M48.0,634.5h5"/></g>
<g stroke="#ffc60a"><circle cx="27.5" cy="648.5" r="4"/><path d="M25.0,648.5h5"/></g>
<path stroke="#ffc60a" d="M29.0,651.5h7"/>
<g stroke="#ffc60a"><circle cx="77.5" cy="650.5" r="4"/><path d="M75.0,650.5h5M77.5,648.0v5"/></g>
<g stroke="#ffc60a"><circle cx="48.5" cy="660.5" r="4"/><path d="M46.0,660.5h5"/></g>
<g stroke="#ffc60a"><circle cx="55.5" cy="666.5" r="4"/><path d="M53.0,666.5h5"/></g>
<g stroke="#ffc60a"><circle cx="32.5" cy="669.5" r="4"/><path d="M30.0,669.5h5M32.5,667.0v5"/></g>
<g stroke="#ffc60a"><circle cx="63.5" cy="673.5" r="4"/><path d="M61.0,673.5h5"/></g>
<g stroke="#ffc60a"><circle cx="85.5" cy="669.5" r="4"/><path d="M83.0,669.5h5M85.5,667.0v5"/></g>
<g stroke="#ffc60a"><circle cx="99.5" cy="674.5" r="4"/><path d="M97.0,674.5h5M99.5,672.0v5"/></g>
<path stroke="#ffc60a" d="M123.0,633.5h7"/>
<g stroke="#ffc60a"><circle cx="70.5" cy="695.5" r="4"/><path d="M68.0,695.5h5"/></g>
<g stroke="#ffc60a"><circle cx="76.5" cy="704.5" r="4"/><path d="M74.0,704.5h5"/></g>
<g stroke="#ffc60a"><circle cx="94.5" cy="703.5" r="4"/><path d="M92.0,703.5h5"/></g>
<g stroke="#ffc60a"><circle cx="108.5" cy="708.5" r="4"/><path d="M106.0,708.5h5M108.5,706.0v5"/></g>
<g stroke="#ffc60a"><circle cx="52.5" cy="708.5" r="4"/><path d="M50.0,708.5h5"/></g>
<g stroke="#ffc60a"><circle cx="57.5" cy="711.5" r="4"/><path d="M55.0,711.5h5M57.5,709.0v5"/></g>
<path stroke="#ffc60a" d="M24.0,710.5h7"/>
<g stroke="#ffc60a"><circle cx="70.5" cy="726.5" r="4"/><path d="M68.0,726.5h5M70.5,724.0v5"/></g>
<g stroke="#ffc60a"><circle cx="94.5" cy="739.5" r="4"/><path d="M92.0,739.5h5M94.5,737.0v5"/></g>
<g stroke="#ffc60a"><circle cx="66.5" cy="744.5" r="4"/><path d="M64.0,744.5h5"/></g>
<path stroke="#ffc60a" d="M35.0,746.5h7"/>
<path stroke="#ffc60a" d="M282.0,475.5h7"/>
<path stroke="#ffff00" d="M51.0,49.5h7M54.5,46.0v7"/>
<g stroke="#ffff00"><circle cx="53.5" cy="201.5" r="4"/><path d="M51.0,201.5h5"/></g>
<g stroke="#ffff00"><circle cx="62.5" cy="203.5" r="4"/><path d="M60.0,203.5h5"/></g>
<g stroke="#ffff00"><circle cx="126.5" cy="128.5" r="4"/><path d="M124.0,128.5h5M126.5,126.0v5"/></g>
<g stroke="#ffff00"><circle cx="194.5" cy="74.5" r="4"/><path d="M192.0,74.5h5M194.5,72.0v5"/></g>
<path stroke="#ffff00" d="M161.0,112.5h7M164.5,109.0v7"/>
<g stroke="#ffff00"><circle cx="164.5" cy="127.5" r="4"/><path d="M162.0,127.5h5M164.5,125.0v5"/></g>
<g stroke="#ffff00"><circle cx="182.5" cy="132.5" r="4"/><path d="M180.0,132.5h5M182.5,130.0v5"/></g>
<g stroke="#ffff00"><circle cx="282.5" cy="25.5" r="4"/><path d="M280.0,25.5h5"/></g>
<g stroke="#ffff00"><circle cx="277.5" cy="41.5" r="4"/><path d="M275.0,41.5h5"/></g>
<g stroke="#ffff00"><circle cx="277.5" cy="45.5" r="4"/><path d="M275.0,45.5h5"/></g>
<g stroke="#ffff00"><circle cx="266.5" cy="59.5" r="4"/><path d="M264.0,59.5h5"/></g>
<g stroke="#ffff00"><circle cx="230.5" cy="56.5" r="4"/><path d="M228.0,56.5h5M230.5,54.0v5"/></g>
<g stroke="#ffff00"><circle cx="238.5" cy="65.5" r="4"/><path d="M236.0,65.5h5M238.5,63.0v5"/></g>
<g stroke="#ffff00"><circle cx="262.5" cy="66.5" r="4"/><path d="M260.0,66.5h5"/></g>
<g stroke="#ffff00"><circle cx="235.5" cy="71.5" r="4"/><path d="M233.0,71.5h5"/></g>
<g stroke="#ffff00"><circle cx="241.5" cy="73.5" r="4"/><path d="M239.0,73.5h5"/></g>
<g stroke="#ffff00"><circle cx="275.5" cy="76.5" r="4"/><path d="M273.0,76.5h5"/></g>
<g stroke="#ffff00"><circle cx="211.5" cy="82.5" r="4"/><path d="M209.0,82.5h5M211.5,80.0v5"/></g>
<g stroke="#ffff00"><circle cx="211.5" cy="84.5" r="4"/><path d="M209.0,84.5h5M211.5,82.0v5"/></g>
<g stroke="#ffff00"><circle cx="223.5" cy="89.5" r="4"/><path d="M221.0,89.5h5M223.5,87.0v5"/></g>
<g stroke="#ffff00"><circle cx="238.5" cy="85.5" r="4"/><path d="M236.0,85.5h5M238.5,83.0v5"/></g>
<g stroke="#ffff00"><circle cx="244.5" cy="88.5" r="4"/><path d="M242.0,88.5h5"/></g>
<g stroke="#ffff00"><circle cx="245.5" cy="91.5" r="4"/><path d="M243.0,91.5h5"/></g>
<g stroke="#ffff00"><circle cx="264.5" cy="89.5" r="4"/><path d="M262.0,89.5h5"/></g>
<g stroke="#ffff00"><circle cx="202.5" cy="101.5" r="4"/><path d="M200.0,101.5h5"/></g>
<g stroke="#ffff00"><circle cx="267.5" cy="112.5" r="4"/><path d="M265.0,112.5h5"/></g>
<g stroke="#ffff00"><circle cx="222.5" cy="126.5" r="4"/><path d="M220.0,126.5h5M222.5,124.0v5"/></g>
<g stroke="#ffff00"><circle cx="237.5" cy="149.5" r="4"/><path d="M235.0,149.5h5"/></g>
<path stroke="#ffff00" d="M309.0,45.5h7"/>
<g stroke="#ffff00"><circle cx="306.5" cy="55.5" r="4"/><path d="M304.0,55.5h5M306.5,53.0v5"/></g>
<g stroke="#ffff00"><circle cx="309.5" cy="56.5" r="4"/><path d="M307.0,56.5h5"/></g>
<g stroke="#ffff00"><circle cx="31.5" cy="227.5" r="4"/><path d="M29.0,227.5h5"/></g>
<g stroke="#ffff00"><circle cx="86.5" cy="292.5" r="4"/><path d="M84.0,292.5h5M86.5,290.0v5"/></g>
<g stroke="#ffff00"><circle cx="26.5" cy="364.5" r="4"/><path d="M24.0,364.5h5M26.5,362.0v5"/></g>
<g stroke="#ffff00"><circle cx="12.5" cy="411.5" r="4"/><path d="M10.0,411.5h5"/></g>
<g stroke="#ffff00"><circle cx="48.5" cy="593.5" r="4"/><path d="M46.0,593.5h5M48.5,591.0v5"/></g>
<g stroke="#ffff00"><circle cx="31.5" cy="618.5" r="4"/><path d="M29.0,618.5h5M31.5,616.0v5"/></g>
<g stroke="#ffff00"><circle cx="36.5" cy="617.5" r="4"/><path d="M34.0,617.5h5M36.5,615.0v5"/></g>
<g stroke="#ffff00"><circle cx="28.5" cy="630.5" r="4"/><path d="M26.0,630.5h5"/></g>
<g stroke="#ffff00"><circle cx="37.5" cy="630.5" r="4"/><path d="M35.0,630.5h5"/></g>
<g stroke="#ffff00"><circle cx="54.5" cy="639.5" r="4"/><path d="M52.0,639.5h5"/></g>
<g stroke="#ffff00"><circle cx="51.5" cy="648.5" r="4"/><path d="M49.0,648.5h5"/></g>
<g stroke="#ffff00"><circle cx="46.5" cy="667.5" r="4"/><path d="M44.0,667.5h5"/></g>
<g stroke="#ffff00"><circle cx="58.5" cy="663.5" r="4"/><path d="M56.0,663.5h5M58.5,661.0v5"/></g>
<g stroke="#ffff00"><circle cx="55.5" cy="669.5" r="4"/><path d="M53.0,669.5h5"/></g>
<g stroke="#ffff00"><circle cx="72.5" cy="677.5" r="4"/><path d="M70.0,677.5h5M72.5,675.0v5"/></g>
<g stroke="#ffff00"><circle cx="110.5" cy="612.5" r="4"/><path d="M108.0,612.5h5"/></g>
<g stroke="#ffff00"><circle cx="109.5" cy="614.5" r="4"/><path d="M107.0,614.5h5"/></g>
<g stroke="#ffff00"><circle cx="110.5" cy="623.5" r="4"/><path d="M108.0,623.5h5M110.5,621.0v5"/></g>
<g stroke="#ffff00"><circle cx="138.5" cy="655.5" r="4"/><path d="M136.0,655.5h5"/></g>
<path stroke="#ffff00" d="M66.0,701.5h7"/>
<g stroke="#ffff00"><circle cx="100.5" cy="707.5" r="4"/><path d="M98.0,707.5h5M100.5,705.0v5"/></g>
<g stroke="#ffff00"><circle cx="68.5" cy="714.5" r="4"/><path d="M66.0,714.5h5"/></g>
<g stroke="#ffff00"><circle cx="86.5" cy="718.5" r="4"/><path d="M84.0,718.5h5"/></g>
<g stroke="#ffff00"><circle cx="114.5" cy="735.5" r="4"/><path d="M112.0,735.5h5"/></g>
<path stroke="#ffff00" d="M118.0,750.5h7M121.5,747.0v7"/>
<g stroke="#ffff00"><circle cx="163.5" cy="128.5" r="4"/><path d="M161.0,128.5h5M163.5,126.0v5"/></g>
<g stroke="#00e8ff"><circle cx="289.5" cy="37.5" r="4"/><path d="M287.0,37.5h5"/></g>
<g stroke="#00e8ff"><circle cx="226.5" cy="45.5" r="4"/><path d="M224.0,45.5h5"/></g>
<g stroke="#00e8ff"><circle cx="235.5" cy="56.5" r="4"/><path d="M233.0,56.5h5M235.5,54.0v5"/></g>
<g stroke="#00e8ff"><circle cx="223.5" cy="74.5" r="4"/><path d="M221.0,74.5h5M223.5,72.0v5"/></g>
<path stroke="#00e8ff" d="M219.0,127.5h7M222.5,124.0v7"/>
<path stroke="#00e8ff" d="M186.0,151.5h7"/>
<path stroke="#00e8ff" d="M195.0,130.5h7"/>
</g>
<text x="405.5" y="11.2" text-anchor="middle" font-family="Liberation Mono, monospace" font-size="11.5" fill="#ffffa8" stroke="#5d504c" stroke-width="3" paint-order="stroke">313</text>
<text x="405.5" y="130.9" text-anchor="middle" font-family="Liberation Mono, monospace" font-size="11.5" fill="#ffffa8" stroke="#5d504c" stroke-width="3" paint-order="stroke">219</text>
<text x="405.5" y="250.5" text-anchor="middle" font-family="Liberation Mono, monospace" font-size="11.5" fill="#ffffa8" stroke="#5d504c" stroke-width="3" paint-order="stroke">125</text>
<text x="405.5" y="370.4" text-anchor="middle" font-family="Liberation Mono, monospace" font-size="11.5" fill="#ffffa8" stroke="#5d504c" stroke-width="3" paint-order="stroke">31</text>
<text x="157" y="135" font-family="Liberation Mono, monospace" font-size="10.5" fill="#f4f4f4">P:1821-6</text>
<path d="M208.3,131.5 l3.3,-5.5 l3.3,5.5" stroke="#ffff00" fill="none" stroke-width="1"/>
<rect x="685" y="792" width="121" height="14" fill="#000"/>
<text x="689.3" y="802.6" font-family="Liberation Sans, sans-serif" font-size="10.5" fill="#f0f0f0" textLength="112.5" lengthAdjust="spacingAndGlyphs">©2005 Astrogenic Systems</text>
<rect x="8.5" y="759.5" width="243" height="43" fill="#000" stroke="#9c9c9c" stroke-width="1"/>
<text x="13.2" y="771.2" font-family="Liberation Sans, sans-serif" font-size="10.5" fill="#e6e6e6" textLength="35.5" lengthAdjust="spacingAndGlyphs">Symbols</text>
<text x="53.2" y="771.2" font-family="Liberation Sans, sans-serif" font-size="10.5" fill="#e6e6e6" textLength="17" lengthAdjust="spacingAndGlyphs">-CG</text>
<text x="78" y="771.2" font-family="Liberation Sans, sans-serif" font-size="10.5" fill="#e6e6e6" textLength="14" lengthAdjust="spacingAndGlyphs">-IC</text>
<text x="99" y="771.2" font-family="Liberation Sans, sans-serif" font-size="10.5" fill="#e6e6e6" textLength="20" lengthAdjust="spacingAndGlyphs">+CG</text>
<text x="124" y="771.2" font-family="Liberation Sans, sans-serif" font-size="10.5" fill="#e6e6e6" textLength="17" lengthAdjust="spacingAndGlyphs">+IC</text>
<text x="153.2" y="771.2" font-family="Liberation Sans, sans-serif" font-size="10.5" fill="#e6e6e6" textLength="90" lengthAdjust="spacingAndGlyphs">Strike age color codes</text>
<text x="13.2" y="784.3" font-family="Liberation Sans, sans-serif" font-size="10.5" fill="#e6e6e6" textLength="28" lengthAdjust="spacingAndGlyphs">Recent</text>
<text x="13.2" y="797.3" font-family="Liberation Sans, sans-serif" font-size="10.5" fill="#e6e6e6" textLength="15" lengthAdjust="spacingAndGlyphs">Old</text>
<g fill="none" stroke="#00e8ff" stroke-width="1.1"><circle cx="60.5" cy="780.5" r="4"/><path d="M58,780.5h5"/><path d="M82,780.5h7"/><circle cx="110.5" cy="780.5" r="4"/><path d="M108,780.5h5M110.5,778.0v5"/><path d="M132,780.5h7M135.5,777.0v7"/></g>
<g fill="none" stroke="#ffff00" stroke-width="1.1"><circle cx="60.5" cy="793.5" r="4"/><path d="M58,793.5h5"/><path d="M82,793.5h7"/><circle cx="110.5" cy="793.5" r="4"/><path d="M108,793.5h5M110.5,791.0v5"/><path d="M132,793.5h7M135.5,790.0v7"/></g>
<text x="153.6" y="784.3" font-family="Liberation Sans, sans-serif" font-size="10.5" fill="#ffdc00" textLength="16" lengthAdjust="spacingAndGlyphs">15+</text>
<text x="188.3" y="784.3" font-family="Liberation Sans, sans-serif" font-size="10.5" fill="#ffb400" textLength="16" lengthAdjust="spacingAndGlyphs">30+</text>
<text x="223" y="784.3" font-family="Liberation Sans, sans-serif" font-size="10.5" fill="#ff9600" textLength="16" lengthAdjust="spacingAndGlyphs">45+</text>
<text x="153.6" y="797.3" font-family="Liberation Sans, sans-serif" font-size="10.5" fill="#ff7800" textLength="16" lengthAdjust="spacingAndGlyphs">60+</text>
<text x="188.3" y="797.3" font-family="Liberation Sans, sans-serif" font-size="10.5" fill="#ff5a00" textLength="16" lengthAdjust="spacingAndGlyphs">75+</text>
<text x="223" y="797.3" font-family="Liberation Sans, sans-serif" font-size="10.5" fill="#ff3c00" textLength="16" lengthAdjust="spacingAndGlyphs">90+</text>
</svg></div>
<div class="panel" style="left:812px;top:8px;width:320px;height:320px;"></div>
<div class="panel" style="left:812px;top:333px;width:320px;height:114px;"></div>
<div class="panel" style="left:812px;top:453px;width:320px;height:348px;"></div>
<div class="btn" style="left:819px;top:16px;width:58px;height:18px;background:#5a0000;border-color:#b0b0b0;"></div>
<span class="t" style="top:19.00px;font-size:13px;line-height:13px;color:#f0c8c8;font-weight:bold;letter-spacing:0.221px;left:824.00px;">STRIKE</span>
<div class="btn" style="left:883px;top:16px;width:58px;height:18px;background:#333;border-color:#a0a0a0;"></div>
<span class="t" style="top:19.00px;font-size:13px;line-height:13px;color:#b4b4b4;font-weight:bold;letter-spacing:0.609px;left:890.50px;">NOISE</span>
<div class="btn" style="left:994px;top:16px;width:128px;height:18px;background:#000;border-color:#c0c0c0;"></div>
<span class="t" style="top:18.57px;font-size:13.5px;line-height:13.5px;color:#fff;font-weight:bold;letter-spacing:0.573px;left:998.50px;">Bng 319°</span>
<span class="t" style="top:18.57px;font-size:13.5px;line-height:13.5px;color:#1be81b;font-weight:bold;letter-spacing:0.844px;left:1076.00px;">261mi</span>
<div class="btn" style="left:821px;top:64px;width:82px;height:16px;"></div>
<span class="t" style="left:821px;width:82px;text-align:center;top:65px;font-size:13px;line-height:14px;color:#e4e4e4;letter-spacing:0.12px;">Strikes/min</span>
<div class="btn" style="left:931px;top:64px;width:82px;height:16px;"></div>
<span class="t" style="left:931px;width:82px;text-align:center;top:65px;font-size:13px;line-height:14px;color:#e4e4e4;letter-spacing:0.12px;">Close/min</span>
<div class="btn" style="left:1041px;top:64px;width:82px;height:16px;"></div>
<span class="t" style="left:1041px;width:82px;text-align:center;top:65px;font-size:13px;line-height:14px;color:#e4e4e4;letter-spacing:0.12px;">Noises/min</span>
<span class="t" style="top:87.45px;font-size:29px;line-height:29px;color:#fff;font-weight:bold;right:236.00px;transform:scaleX(1.14);transform-origin:100% 50%;">7</span>
<span class="t" style="top:87.45px;font-size:29px;line-height:29px;color:#fff;font-weight:bold;right:125.00px;transform:scaleX(1.14);transform-origin:100% 50%;">0</span>
<span class="t" style="top:87.45px;font-size:29px;line-height:29px;color:#c0c0c0;font-weight:bold;right:15.00px;transform:scaleX(1.14);transform-origin:100% 50%;">0</span>
<span class="t" style="top:131.87px;font-size:13.5px;line-height:13.5px;color:#fff;letter-spacing:0.2px;right:235.50px;">Total Strikes</span>
<span class="t" style="top:131.87px;font-size:13.5px;line-height:13.5px;color:#fff;letter-spacing:0.2px;right:125.00px;">Total Close</span>
<span class="t" style="top:131.87px;font-size:13.5px;line-height:13.5px;color:#c0c0c0;letter-spacing:0.2px;right:15.00px;">Total Noises</span>
<span class="t" style="top:149.57px;font-size:13.5px;line-height:13.5px;color:#fff;letter-spacing:0.2px;right:235.50px;">5646</span>
<span class="t" style="top:149.57px;font-size:13.5px;line-height:13.5px;color:#fff;letter-spacing:0.2px;right:125.00px;">600</span>
<span class="t" style="top:149.57px;font-size:13.5px;line-height:13.5px;color:#fff;letter-spacing:0.2px;right:15.00px;">495</span>
<span class="t" style="top:203.37px;font-size:13.5px;line-height:13.5px;color:#c0c0c0;letter-spacing:0.422px;left:821.00px;">Lightning type distribution</span>
<div style="position:absolute;left:821px;top:217px;width:303px;height:1px;background:#909090;"></div>
<span class="t" style="top:226.30px;font-size:13px;line-height:13px;color:#fff;font-weight:bold;letter-spacing:-0.1px;left:821.00px;">Cloud-ground</span>
<span class="t" style="top:225.87px;font-size:13.5px;line-height:13.5px;color:#c0c0c0;left:913.00px;">+</span>
<div class="bar" style="left:925px;top:227.3px;"><i style="width:14px;background:#ff0000;"></i></div>
<span class="t" style="top:226.30px;font-size:13px;line-height:13px;color:#fff;font-weight:bold;letter-spacing:0.6px;left:980.00px;">28%</span>
<span class="t" style="top:225.37px;font-size:13.5px;line-height:13.5px;color:#d0d0d0;font-weight:bold;left:1016.00px;">−</span>
<div class="bar" style="left:1028px;top:227.3px;"><i style="width:28px;background:#99ccff;"></i></div>
<span class="t" style="top:226.30px;font-size:13px;line-height:13px;color:#fff;font-weight:bold;letter-spacing:0.6px;left:1082.50px;">57%</span>
<span class="t" style="top:250.20px;font-size:13px;line-height:13px;color:#c0c0c0;font-weight:bold;letter-spacing:0.1px;left:821.00px;">Count</span>
<span class="t" style="top:250.20px;font-size:13px;line-height:13px;color:#fff;font-weight:bold;letter-spacing:0.5px;left:925.50px;">1590</span>
<span class="t" style="top:250.20px;font-size:13px;line-height:13px;color:#fff;font-weight:bold;letter-spacing:0.5px;left:1028.30px;">3191</span>
<span class="t" style="top:280.30px;font-size:13px;line-height:13px;color:#fff;font-weight:bold;letter-spacing:-0.1px;left:821.00px;">Intracloud</span>
<span class="t" style="top:279.87px;font-size:13.5px;line-height:13.5px;color:#c0c0c0;left:913.00px;">+</span>
<div class="bar" style="left:925px;top:281.3px;"><i style="width:3px;background:#ff69b4;"></i></div>
<span class="t" style="top:280.30px;font-size:13px;line-height:13px;color:#fff;font-weight:bold;letter-spacing:0.6px;left:980.00px;">5%</span>
<span class="t" style="top:279.37px;font-size:13.5px;line-height:13.5px;color:#d0d0d0;font-weight:bold;left:1016.00px;">−</span>
<div class="bar" style="left:1028px;top:281.3px;"><i style="width:5px;background:#00ee00;"></i></div>
<span class="t" style="top:280.30px;font-size:13px;line-height:13px;color:#fff;font-weight:bold;letter-spacing:0.6px;left:1082.50px;">10%</span>
<span class="t" style="top:304.00px;font-size:13px;line-height:13px;color:#c0c0c0;font-weight:bold;letter-spacing:0.1px;left:821.00px;">Count</span>
<span class="t" style="top:304.00px;font-size:13px;line-height:13px;color:#fff;font-weight:bold;letter-spacing:0.5px;left:925.50px;">307</span>
<span class="t" style="top:304.00px;font-size:13px;line-height:13px;color:#fff;font-weight:bold;letter-spacing:0.5px;left:1028.30px;">558</span>
<span class="t" style="top:339.49px;font-size:17.5px;line-height:17.5px;color:#0cf00c;font-weight:bold;letter-spacing:0.6px;left:821.30px;transform:scaleX(1.1);transform-origin:0 50%;">3/10/2026 11:00:11 PM</span>
<div style="position:absolute;left:821px;top:358px;width:302px;height:1px;background:#808080;"></div>
<span class="t" style="top:376.87px;font-size:13.5px;line-height:13.5px;color:#fff;letter-spacing:0.2px;left:821.30px;">Squelch</span>
<span class="t" style="top:376.87px;font-size:13.5px;line-height:13.5px;color:#fff;letter-spacing:0.2px;left:909.30px;">0</span>
<span class="t" style="top:376.87px;font-size:13.5px;line-height:13.5px;color:#fff;letter-spacing:0.2px;left:981.20px;">Upload</span>
<span class="t" style="top:376.87px;font-size:13.5px;line-height:13.5px;color:#c0c0c0;letter-spacing:0.2px;left:1060.80px;">Disabled</span>
<span class="t" style="top:396.77px;font-size:13.5px;line-height:13.5px;color:#fff;letter-spacing:0.2px;left:821.30px;">Persistence</span>
<span class="t" style="top:396.77px;font-size:13.5px;line-height:13.5px;color:#fff;letter-spacing:0.2px;left:909.30px;">90 min</span>
<span class="t" style="top:396.77px;font-size:13.5px;line-height:13.5px;color:#fff;letter-spacing:0.2px;left:981.20px;">Capture</span>
<span class="t" style="top:396.77px;font-size:13.5px;line-height:13.5px;color:#10e810;letter-spacing:0.2px;left:1060.80px;">Active</span>
<span class="t" style="top:416.67px;font-size:13.5px;line-height:13.5px;color:#fff;letter-spacing:0.2px;left:821.30px;">Range</span>
<span class="t" style="top:416.67px;font-size:13.5px;line-height:13.5px;color:#fff;letter-spacing:0.2px;left:909.30px;">313 mi</span>
<span class="t" style="top:416.67px;font-size:13.5px;line-height:13.5px;color:#fff;letter-spacing:0.2px;left:981.20px;">Receiver</span>
<span class="t" style="top:416.67px;font-size:13.5px;line-height:13.5px;color:#10e810;letter-spacing:0.2px;left:1060.80px;">Enabled</span>
<span class="t" style="top:463.87px;font-size:13.5px;line-height:13.5px;color:#c0c0c0;letter-spacing:0.2px;left:821.30px;">Uptime</span>
<span class="t" style="top:463.87px;font-size:13.5px;line-height:13.5px;color:#fff;letter-spacing:0.2px;left:909.90px;">1378:45</span>
<span class="t" style="top:463.87px;font-size:13.5px;line-height:13.5px;color:#c0c0c0;letter-spacing:0.2px;left:981.20px;">Peak time</span>
<span class="t" style="top:463.87px;font-size:13.5px;line-height:13.5px;color:#c0c0c0;letter-spacing:0.2px;left:1060.80px;">Plot</span>
<span class="t" style="top:486.77px;font-size:13.5px;line-height:13.5px;color:#c0c0c0;letter-spacing:0.2px;left:821.30px;">Peak rate</span>
<span class="t" style="top:486.77px;font-size:13.5px;line-height:13.5px;color:#fff;letter-spacing:0.2px;left:909.90px;">120/min</span>
<span class="t" style="top:486.77px;font-size:13.5px;line-height:13.5px;color:#fff;letter-spacing:0.2px;left:981.20px;">12:00 AM</span>
<span class="t" style="top:486.77px;font-size:13.5px;line-height:13.5px;color:#fff;letter-spacing:0.2px;left:1060.80px;">Strike</span>
<span class="t" style="top:517.07px;font-size:13.5px;line-height:13.5px;color:#c0c0c0;letter-spacing:0.2px;left:822.30px;">Trend graph</span>
<span class="t" style="top:517.07px;font-size:13.5px;line-height:13.5px;color:#fff;letter-spacing:0.2px;left:908.40px;">60 min</span>
<svg style="position:absolute;left:0;top:0;" width="1138" height="812" viewBox="0 0 1138 812">
<g fill="none" stroke-width="1.15" stroke-linejoin="miter">
<path d="M822.3,777.0 L823.4,777.0 L824.5,777.0 L825.6,777.0 L826.7,777.0 L827.8,777.0 L829.0,777.0 L830.1,777.0 L831.2,777.0 L832.3,777.0 L833.4,777.0 L834.5,777.0 L835.6,777.0 L836.7,777.0 L837.8,777.0 L838.9,777.0 L840.0,777.0 L841.2,777.0 L842.3,777.0 L843.4,777.0 L844.5,777.0 L845.6,777.0 L846.7,777.0 L847.8,777.0 L848.9,777.0 L850.0,769.2 L851.1,769.2 L852.2,769.2 L853.4,769.2 L854.5,769.2 L855.6,777.0 L856.7,777.0 L857.8,777.0 L858.9,777.0 L860.0,777.0 L861.1,769.2 L862.2,769.2 L863.3,769.2 L864.4,769.2 L865.6,769.2 L866.7,769.2 L867.8,769.2 L868.9,769.2 L870.0,769.2 L871.1,769.2 L872.2,769.2 L873.3,769.2 L874.4,769.2 L875.5,769.2 L876.6,769.2 L877.8,777.0 L878.9,777.0 L880.0,777.0 L881.1,777.0 L882.2,777.0 L883.3,769.2 L884.4,769.2 L885.5,769.2 L886.6,769.2 L887.7,769.2 L888.8,777.0 L890.0,777.0 L891.1,777.0 L892.2,777.0 L893.3,777.0 L894.4,769.2 L895.5,769.2 L896.6,777.0 L897.7,769.2 L898.8,769.2 L899.9,769.2 L901.1,769.2 L902.2,769.2 L903.3,769.2 L904.4,769.2 L905.5,769.2 L906.6,769.2 L907.7,769.2 L908.8,769.2 L909.9,769.2 L911.0,769.2 L912.1,769.2 L913.3,769.2 L914.4,769.2 L915.5,769.2 L916.6,777.0 L917.7,777.0 L918.8,777.0 L919.9,777.0 L921.0,777.0 L922.1,769.2 L923.2,769.2 L924.3,769.2 L925.5,769.2 L926.6,769.2 L927.7,769.2 L928.8,769.2 L929.9,769.2 L931.0,769.2 L932.1,769.2 L933.2,777.0 L934.3,777.0 L935.4,777.0 L936.5,777.0 L937.7,777.0 L938.8,777.0 L939.9,777.0 L941.0,777.0 L942.1,777.0 L943.2,777.0 L944.3,777.0 L945.4,777.0 L946.5,777.0 L947.6,777.0 L948.7,777.0 L949.9,769.2 L951.0,769.2 L952.1,769.2 L953.2,769.2 L954.3,769.2 L955.4,777.0 L956.5,777.0 L957.6,777.0 L958.7,777.0 L959.8,777.0 L960.9,777.0 L962.1,777.0 L963.2,777.0 L964.3,777.0 L965.4,777.0 L966.5,769.2 L967.6,769.2 L968.7,769.2 L969.8,769.2 L970.9,769.2 L972.0,769.2 L973.1,769.2 L974.3,769.2 L975.4,769.2 L976.5,769.2 L977.6,777.0 L978.7,777.0 L979.8,777.0 L980.9,777.0 L982.0,777.0 L983.1,769.2 L984.2,769.2 L985.3,769.2 L986.5,769.2 L987.6,769.2 L988.7,777.0 L989.8,777.0 L990.9,777.0 L992.0,777.0 L993.1,777.0 L994.2,769.2 L995.3,769.2 L996.4,769.2 L997.5,769.2 L998.7,769.2 L999.8,777.0 L1000.9,777.0 L1002.0,777.0 L1003.1,777.0 L1004.2,777.0 L1005.3,769.2 L1006.4,769.2 L1007.5,769.2 L1008.6,769.2 L1009.7,769.2 L1010.9,777.0 L1012.0,777.0 L1013.1,777.0 L1014.2,777.0 L1015.3,777.0 L1016.4,769.2 L1017.5,769.2 L1018.6,769.2 L1019.7,769.2 L1020.8,769.2 L1022.0,769.2 L1023.1,769.2 L1024.2,769.2 L1025.3,769.2 L1026.4,769.2 L1027.5,777.0 L1028.6,777.0 L1029.7,777.0 L1030.8,777.0 L1031.9,777.0 L1033.0,777.0 L1034.2,777.0 L1035.3,777.0 L1036.4,777.0 L1037.5,777.0 L1038.6,777.0 L1039.7,777.0 L1040.8,777.0 L1041.9,777.0 L1043.0,777.0 L1044.1,777.0 L1045.2,777.0 L1046.4,777.0 L1047.5,777.0 L1048.6,777.0 L1049.7,769.2 L1050.8,769.2 L1051.9,769.2 L1053.0,769.2 L1054.1,769.2 L1055.2,769.2 L1056.3,769.2 L1057.4,769.2 L1058.6,769.2 L1059.7,769.2 L1060.8,777.0 L1061.9,777.0 L1063.0,777.0 L1064.1,777.0 L1065.2,777.0 L1066.3,769.2 L1067.4,769.2 L1068.5,769.2 L1069.6,769.2 L1070.8,769.2 L1071.9,769.2 L1073.0,769.2 L1074.1,769.2 L1075.2,769.2 L1076.3,769.2 L1077.4,777.0 L1078.5,777.0 L1079.6,777.0 L1080.7,777.0 L1081.8,777.0 L1083.0,777.0 L1084.1,777.0 L1085.2,777.0 L1086.3,777.0 L1087.4,777.0 L1088.5,777.0" stroke="#ff69b4"/>
<path d="M822.3,777.0 L823.4,769.2 L824.5,769.2 L825.6,769.2 L826.7,777.0 L827.8,777.0 L829.0,777.0 L830.1,777.0 L831.2,777.0 L832.3,777.0 L833.4,777.0 L834.5,777.0 L835.6,769.2 L836.7,769.2 L837.8,769.2 L838.9,769.2 L840.0,777.0 L841.2,777.0 L842.3,777.0 L843.4,777.0 L844.5,777.0 L845.6,777.0 L846.7,777.0 L847.8,777.0 L848.9,777.0 L850.0,777.0 L851.1,777.0 L852.2,777.0 L853.4,777.0 L854.5,777.0 L855.6,777.0 L856.7,777.0 L857.8,777.0 L858.9,777.0 L860.0,777.0 L861.1,777.0 L862.2,777.0 L863.3,777.0 L864.4,777.0 L865.6,777.0 L866.7,777.0 L867.8,777.0 L868.9,777.0 L870.0,777.0 L871.1,777.0 L872.2,777.0 L873.3,777.0 L874.4,777.0 L875.5,777.0 L876.6,777.0 L877.8,777.0 L878.9,777.0 L880.0,777.0 L881.1,777.0 L882.2,777.0 L883.3,777.0 L884.4,777.0 L885.5,777.0 L886.6,777.0 L887.7,777.0 L888.8,777.0 L890.0,777.0 L891.1,777.0 L892.2,777.0 L893.3,777.0 L894.4,777.0 L895.5,777.0 L896.6,777.0 L897.7,769.2 L898.8,769.2 L899.9,769.2 L901.1,769.2 L902.2,777.0 L903.3,777.0 L904.4,777.0 L905.5,777.0 L906.6,777.0 L907.7,777.0 L908.8,777.0 L909.9,777.0 L911.0,777.0 L912.1,777.0 L913.3,777.0 L914.4,777.0 L915.5,777.0 L916.6,777.0 L917.7,777.0 L918.8,777.0 L919.9,777.0 L921.0,777.0 L922.1,777.0 L923.2,777.0 L924.3,777.0 L925.5,777.0 L926.6,777.0 L927.7,777.0 L928.8,769.2 L929.9,769.2 L931.0,769.2 L932.1,769.2 L933.2,769.2 L934.3,769.2 L935.4,769.2 L936.5,769.2 L937.7,769.2 L938.8,769.2 L939.9,769.2 L941.0,769.2 L942.1,761.3 L943.2,761.3 L944.3,761.3 L945.4,769.2 L946.5,777.0 L947.6,777.0 L948.7,777.0 L949.9,777.0 L951.0,769.2 L952.1,769.2 L953.2,769.2 L954.3,769.2 L955.4,769.2 L956.5,769.2 L957.6,769.2 L958.7,769.2 L959.8,777.0 L960.9,777.0 L962.1,777.0 L963.2,777.0 L964.3,777.0 L965.4,777.0 L966.5,777.0 L967.6,777.0 L968.7,769.2 L969.8,769.2 L970.9,769.2 L972.0,769.2 L973.1,769.2 L974.3,769.2 L975.4,769.2 L976.5,769.2 L977.6,769.2 L978.7,769.2 L979.8,769.2 L980.9,769.2 L982.0,769.2 L983.1,769.2 L984.2,769.2 L985.3,769.2 L986.5,777.0 L987.6,777.0 L988.7,777.0 L989.8,777.0 L990.9,777.0 L992.0,777.0 L993.1,777.0 L994.2,777.0 L995.3,777.0 L996.4,777.0 L997.5,777.0 L998.7,777.0 L999.8,777.0 L1000.9,777.0 L1002.0,777.0 L1003.1,777.0 L1004.2,769.2 L1005.3,769.2 L1006.4,769.2 L1007.5,769.2 L1008.6,777.0 L1009.7,777.0 L1010.9,777.0 L1012.0,777.0 L1013.1,769.2 L1014.2,769.2 L1015.3,769.2 L1016.4,769.2 L1017.5,777.0 L1018.6,777.0 L1019.7,777.0 L1020.8,777.0 L1022.0,777.0 L1023.1,777.0 L1024.2,777.0 L1025.3,777.0 L1026.4,777.0 L1027.5,777.0 L1028.6,777.0 L1029.7,777.0 L1030.8,777.0 L1031.9,777.0 L1033.0,777.0 L1034.2,777.0 L1035.3,769.2 L1036.4,769.2 L1037.5,769.2 L1038.6,769.2 L1039.7,769.2 L1040.8,769.2 L1041.9,769.2 L1043.0,769.2 L1044.1,769.2 L1045.2,769.2 L1046.4,769.2 L1047.5,769.2 L1048.6,761.3 L1049.7,761.3 L1050.8,761.3 L1051.9,761.3 L1053.0,761.3 L1054.1,761.3 L1055.2,761.3 L1056.3,761.3 L1057.4,761.3 L1058.6,761.3 L1059.7,761.3 L1060.8,761.3 L1061.9,761.3 L1063.0,761.3 L1064.1,761.3 L1065.2,761.3 L1066.3,761.3 L1067.4,769.2 L1068.5,769.2 L1069.6,753.5 L1070.8,777.0 L1071.9,777.0 L1073.0,777.0 L1074.1,777.0 L1075.2,777.0 L1076.3,777.0 L1077.4,777.0 L1078.5,777.0 L1079.6,777.0 L1080.7,777.0 L1081.8,777.0 L1083.0,777.0 L1084.1,769.2 L1085.2,769.2 L1086.3,769.2 L1087.4,769.2 L1088.5,769.2" stroke="#00f000"/>
<path d="M822.3,777.0 L823.4,761.3 L824.5,777.0 L825.6,777.0 L826.7,777.0 L827.8,777.0 L829.0,777.0 L830.1,777.0 L831.2,777.0 L832.3,769.2 L833.4,769.2 L834.5,769.2 L835.6,777.0 L836.7,777.0 L837.8,777.0 L838.9,777.0 L840.0,777.0 L841.2,777.0 L842.3,777.0 L843.4,777.0 L844.5,777.0 L845.6,777.0 L846.7,777.0 L847.8,777.0 L848.9,777.0 L850.0,777.0 L851.1,769.2 L852.2,769.2 L853.4,769.2 L854.5,769.2 L855.6,761.3 L856.7,761.3 L857.8,769.2 L858.9,769.2 L860.0,769.2 L861.1,769.2 L862.2,769.2 L863.3,769.2 L864.4,777.0 L865.6,777.0 L866.7,777.0 L867.8,777.0 L868.9,777.0 L870.0,777.0 L871.1,777.0 L872.2,777.0 L873.3,777.0 L874.4,777.0 L875.5,769.2 L876.6,769.2 L877.8,769.2 L878.9,761.3 L880.0,761.3 L881.1,761.3 L882.2,753.5 L883.3,761.3 L884.4,761.3 L885.5,761.3 L886.6,761.3 L887.7,761.3 L888.8,761.3 L890.0,761.3 L891.1,761.3 L892.2,777.0 L893.3,777.0 L894.4,777.0 L895.5,777.0 L896.6,777.0 L897.7,777.0 L898.8,769.2 L899.9,769.2 L901.1,769.2 L902.2,769.2 L903.3,777.0 L904.4,769.2 L905.5,769.2 L906.6,769.2 L907.7,769.2 L908.8,777.0 L909.9,777.0 L911.0,777.0 L912.1,777.0 L913.3,777.0 L914.4,777.0 L915.5,777.0 L916.6,777.0 L917.7,777.0 L918.8,777.0 L919.9,777.0 L921.0,777.0 L922.1,769.2 L923.2,769.2 L924.3,769.2 L925.5,761.3 L926.6,761.3 L927.7,761.3 L928.8,761.3 L929.9,769.2 L931.0,769.2 L932.1,777.0 L933.2,777.0 L934.3,777.0 L935.4,777.0 L936.5,777.0 L937.7,777.0 L938.8,777.0 L939.9,777.0 L941.0,777.0 L942.1,777.0 L943.2,777.0 L944.3,777.0 L945.4,769.2 L946.5,769.2 L947.6,769.2 L948.7,777.0 L949.9,777.0 L951.0,777.0 L952.1,777.0 L953.2,777.0 L954.3,777.0 L955.4,777.0 L956.5,777.0 L957.6,777.0 L958.7,769.2 L959.8,769.2 L960.9,769.2 L962.1,761.3 L963.2,761.3 L964.3,761.3 L965.4,769.2 L966.5,769.2 L967.6,769.2 L968.7,761.3 L969.8,761.3 L970.9,761.3 L972.0,769.2 L973.1,777.0 L974.3,777.0 L975.4,777.0 L976.5,777.0 L977.6,777.0 L978.7,777.0 L979.8,777.0 L980.9,777.0 L982.0,777.0 L983.1,777.0 L984.2,777.0 L985.3,777.0 L986.5,777.0 L987.6,777.0 L988.7,777.0 L989.8,777.0 L990.9,777.0 L992.0,769.2 L993.1,769.2 L994.2,769.2 L995.3,777.0 L996.4,777.0 L997.5,777.0 L998.7,769.2 L999.8,769.2 L1000.9,769.2 L1002.0,761.3 L1003.1,761.3 L1004.2,761.3 L1005.3,753.5 L1006.4,753.5 L1007.5,761.3 L1008.6,769.2 L1009.7,761.3 L1010.9,761.3 L1012.0,777.0 L1013.1,777.0 L1014.2,777.0 L1015.3,777.0 L1016.4,777.0 L1017.5,777.0 L1018.6,777.0 L1019.7,777.0 L1020.8,777.0 L1022.0,777.0 L1023.1,777.0 L1024.2,777.0 L1025.3,777.0 L1026.4,777.0 L1027.5,777.0 L1028.6,769.2 L1029.7,769.2 L1030.8,769.2 L1031.9,777.0 L1033.0,777.0 L1034.2,777.0 L1035.3,777.0 L1036.4,777.0 L1037.5,777.0 L1038.6,769.2 L1039.7,769.2 L1040.8,769.2 L1041.9,769.2 L1043.0,777.0 L1044.1,769.2 L1045.2,777.0 L1046.4,777.0 L1047.5,777.0 L1048.6,777.0 L1049.7,777.0 L1050.8,777.0 L1051.9,769.2 L1053.0,769.2 L1054.1,769.2 L1055.2,769.2 L1056.3,769.2 L1057.4,769.2 L1058.6,777.0 L1059.7,777.0 L1060.8,777.0 L1061.9,777.0 L1063.0,777.0 L1064.1,777.0 L1065.2,769.2 L1066.3,769.2 L1067.4,769.2 L1068.5,777.0 L1069.6,777.0 L1070.8,777.0 L1071.9,769.2 L1073.0,769.2 L1074.1,777.0 L1075.2,777.0 L1076.3,769.2 L1077.4,769.2 L1078.5,777.0 L1079.6,777.0 L1080.7,777.0 L1081.8,777.0 L1083.0,777.0 L1084.1,777.0 L1085.2,777.0 L1086.3,777.0 L1087.4,777.0 L1088.5,777.0" stroke="#ff0000"/>
<path d="M822.3,777.0 L823.4,761.3 L824.5,753.5 L825.6,761.3 L826.7,753.5 L827.8,745.6 L829.0,745.6 L830.1,745.6 L831.2,753.5 L832.3,761.3 L833.4,753.5 L834.5,745.6 L835.6,753.5 L836.7,761.3 L837.8,769.2 L838.9,761.3 L840.0,761.3 L841.2,769.2 L842.3,753.5 L843.4,745.6 L844.5,753.5 L845.6,761.3 L846.7,769.2 L847.8,769.2 L848.9,769.2 L850.0,769.2 L851.1,761.3 L852.2,753.5 L853.4,753.5 L854.5,745.6 L855.6,745.6 L856.7,737.8 L857.8,730.0 L858.9,730.0 L860.0,730.0 L861.1,737.8 L862.2,745.6 L863.3,753.5 L864.4,753.5 L865.6,745.6 L866.7,745.6 L867.8,730.0 L868.9,730.0 L870.0,737.8 L871.1,730.0 L872.2,730.0 L873.3,737.8 L874.4,737.8 L875.5,737.8 L876.6,745.6 L877.8,745.6 L878.9,753.5 L880.0,753.5 L881.1,761.3 L882.2,761.3 L883.3,753.5 L884.4,745.6 L885.5,737.8 L886.6,737.8 L887.7,737.8 L888.8,737.8 L890.0,737.8 L891.1,730.0 L892.2,737.8 L893.3,745.6 L894.4,761.3 L895.5,769.2 L896.6,777.0 L897.7,777.0 L898.8,769.2 L899.9,761.3 L901.1,761.3 L902.2,761.3 L903.3,761.3 L904.4,761.3 L905.5,761.3 L906.6,761.3 L907.7,761.3 L908.8,761.3 L909.9,753.5 L911.0,745.6 L912.1,737.8 L913.3,737.8 L914.4,737.8 L915.5,745.6 L916.6,753.5 L917.7,753.5 L918.8,745.6 L919.9,745.6 L921.0,745.6 L922.1,745.6 L923.2,737.8 L924.3,730.0 L925.5,722.1 L926.6,722.1 L927.7,714.3 L928.8,714.3 L929.9,722.1 L931.0,737.8 L932.1,753.5 L933.2,761.3 L934.3,761.3 L935.4,761.3 L936.5,761.3 L937.7,769.2 L938.8,769.2 L939.9,769.2 L941.0,769.2 L942.1,769.2 L943.2,769.2 L944.3,761.3 L945.4,753.5 L946.5,753.5 L947.6,753.5 L948.7,761.3 L949.9,761.3 L951.0,769.2 L952.1,761.3 L953.2,761.3 L954.3,761.3 L955.4,761.3 L956.5,769.2 L957.6,769.2 L958.7,769.2 L959.8,769.2 L960.9,769.2 L962.1,769.2 L963.2,777.0 L964.3,769.2 L965.4,769.2 L966.5,761.3 L967.6,769.2 L968.7,769.2 L969.8,769.2 L970.9,761.3 L972.0,761.3 L973.1,761.3 L974.3,761.3 L975.4,761.3 L976.5,761.3 L977.6,761.3 L978.7,769.2 L979.8,769.2 L980.9,761.3 L982.0,753.5 L983.1,745.6 L984.2,737.8 L985.3,737.8 L986.5,737.8 L987.6,761.3 L988.7,769.2 L989.8,761.3 L990.9,761.3 L992.0,761.3 L993.1,753.5 L994.2,745.6 L995.3,737.8 L996.4,730.0 L997.5,730.0 L998.7,730.0 L999.8,737.8 L1000.9,745.6 L1002.0,745.6 L1003.1,745.6 L1004.2,745.6 L1005.3,753.5 L1006.4,761.3 L1007.5,761.3 L1008.6,753.5 L1009.7,745.6 L1010.9,737.8 L1012.0,730.0 L1013.1,737.8 L1014.2,745.6 L1015.3,745.6 L1016.4,745.6 L1017.5,753.5 L1018.6,753.5 L1019.7,761.3 L1020.8,761.3 L1022.0,761.3 L1023.1,761.3 L1024.2,769.2 L1025.3,769.2 L1026.4,769.2 L1027.5,769.2 L1028.6,761.3 L1029.7,745.6 L1030.8,737.8 L1031.9,737.8 L1033.0,737.8 L1034.2,745.6 L1035.3,753.5 L1036.4,761.3 L1037.5,761.3 L1038.6,761.3 L1039.7,761.3 L1040.8,761.3 L1041.9,761.3 L1043.0,761.3 L1044.1,753.5 L1045.2,745.6 L1046.4,745.6 L1047.5,745.6 L1048.6,745.6 L1049.7,730.0 L1050.8,737.8 L1051.9,745.6 L1053.0,753.5 L1054.1,761.3 L1055.2,769.2 L1056.3,777.0 L1057.4,769.2 L1058.6,761.3 L1059.7,761.3 L1060.8,769.2 L1061.9,769.2 L1063.0,777.0 L1064.1,777.0 L1065.2,777.0 L1066.3,777.0 L1067.4,777.0 L1068.5,769.2 L1069.6,777.0 L1070.8,777.0 L1071.9,777.0 L1073.0,777.0 L1074.1,769.2 L1075.2,769.2 L1076.3,769.2 L1077.4,761.3 L1078.5,753.5 L1079.6,753.5 L1080.7,753.5 L1081.8,753.5 L1083.0,761.3 L1084.1,769.2 L1085.2,761.3 L1086.3,753.5 L1087.4,753.5 L1088.5,753.5" stroke="#a8d4ff"/>
<path d="M822.3,777.0 L823.4,748.6 L824.5,750.9 L825.6,749.2 L826.7,746.4 L827.8,746.0 L829.0,734.5 L830.1,734.0 L831.2,740.2 L832.3,742.5 L833.4,735.5 L834.5,732.7 L835.6,739.2 L836.7,744.7 L837.8,753.2 L838.9,758.2 L840.0,752.8 L841.2,734.0 L842.3,723.4 L843.4,714.8 L844.5,733.3 L845.6,739.3 L846.7,747.3 L847.8,758.7 L848.9,769.0 L850.0,767.8 L851.1,756.7 L852.2,738.8 L853.4,729.6 L854.5,723.9 L855.6,723.4 L856.7,722.8 L857.8,721.0 L858.9,718.3 L860.0,718.3 L861.1,728.3 L862.2,741.1 L863.3,749.2 L864.4,749.7 L865.6,746.2 L866.7,745.5 L867.8,719.7 L868.9,701.2 L870.0,703.9 L871.1,693.7 L872.2,710.8 L873.3,720.9 L874.4,724.8 L875.5,729.4 L876.6,729.7 L877.8,727.5 L878.9,724.7 L880.0,726.3 L881.1,733.6 L882.2,737.0 L883.3,734.2 L884.4,726.3 L885.5,717.1 L886.6,718.1 L887.7,716.6 L888.8,714.4 L890.0,713.0 L891.1,707.2 L892.2,720.4 L893.3,738.2 L894.4,757.0 L895.5,767.6 L896.6,774.2 L897.7,769.9 L898.8,760.7 L899.9,755.5 L901.1,753.5 L902.2,753.0 L903.3,759.7 L904.4,755.1 L905.5,749.4 L906.6,745.0 L907.7,739.1 L908.8,731.7 L909.9,726.7 L911.0,723.4 L912.1,730.0 L913.3,730.9 L914.4,734.2 L915.5,741.7 L916.6,734.3 L917.7,727.3 L918.8,724.8 L919.9,731.0 L921.0,735.5 L922.1,730.8 L923.2,718.1 L924.3,708.5 L925.5,701.1 L926.6,695.0 L927.7,693.9 L928.8,700.5 L929.9,711.0 L931.0,730.0 L932.1,743.4 L933.2,756.7 L934.3,757.7 L935.4,754.1 L936.5,755.2 L937.7,758.7 L938.8,761.6 L939.9,761.6 L941.0,761.6 L942.1,761.6 L943.2,761.6 L944.3,754.9 L945.4,743.2 L946.5,738.4 L947.6,740.4 L948.7,747.3 L949.9,752.5 L951.0,756.5 L952.1,759.1 L953.2,757.3 L954.3,754.4 L955.4,757.0 L956.5,763.8 L957.6,764.3 L958.7,758.1 L959.8,753.6 L960.9,751.5 L962.1,746.6 L963.2,753.3 L964.3,757.0 L965.4,755.0 L966.5,749.6 L967.6,743.3 L968.7,739.2 L969.8,740.4 L970.9,743.5 L972.0,752.4 L973.1,760.2 L974.3,758.0 L975.4,754.0 L976.5,753.7 L977.6,747.8 L978.7,740.0 L979.8,745.6 L980.9,740.6 L982.0,729.4 L983.1,719.8 L984.2,710.9 L985.3,696.2 L986.5,684.4 L987.6,719.1 L988.7,734.2 L989.8,730.7 L990.9,735.1 L992.0,730.2 L993.1,725.5 L994.2,721.8 L995.3,715.1 L996.4,707.9 L997.5,711.4 L998.7,717.1 L999.8,723.0 L1000.9,729.7 L1002.0,727.2 L1003.1,719.9 L1004.2,716.3 L1005.3,729.6 L1006.4,740.8 L1007.5,748.2 L1008.6,743.1 L1009.7,730.7 L1010.9,716.6 L1012.0,706.4 L1013.1,706.4 L1014.2,714.9 L1015.3,727.0 L1016.4,736.2 L1017.5,748.6 L1018.6,756.5 L1019.7,761.3 L1020.8,761.6 L1022.0,761.6 L1023.1,761.6 L1024.2,761.6 L1025.3,761.6 L1026.4,761.6 L1027.5,759.7 L1028.6,746.5 L1029.7,736.8 L1030.8,727.1 L1031.9,718.4 L1033.0,715.4 L1034.2,725.2 L1035.3,739.7 L1036.4,747.4 L1037.5,752.4 L1038.6,746.8 L1039.7,746.5 L1040.8,749.9 L1041.9,753.9 L1043.0,757.8 L1044.1,746.2 L1045.2,745.5 L1046.4,740.9 L1047.5,734.1 L1048.6,723.8 L1049.7,716.1 L1050.8,720.9 L1051.9,726.9 L1053.0,733.6 L1054.1,740.2 L1055.2,739.3 L1056.3,741.4 L1057.4,745.8 L1058.6,745.9 L1059.7,745.9 L1060.8,742.0 L1061.9,739.7 L1063.0,743.6 L1064.1,747.3 L1065.2,751.9 L1066.3,760.6 L1067.4,766.2 L1068.5,768.1 L1069.6,763.3 L1070.8,761.6 L1071.9,761.6 L1073.0,765.8 L1074.1,769.2 L1075.2,765.8 L1076.3,738.6 L1077.4,738.4 L1078.5,730.3 L1079.6,708.7 L1080.7,719.1 L1081.8,723.5 L1083.0,732.0 L1084.1,748.4 L1085.2,743.6 L1086.3,733.8 L1087.4,730.8 L1088.5,754.1" stroke="#ffffff" stroke-width="1.3"/>
</g>
<g stroke="#c8c8c8" stroke-width="1" shape-rendering="crispEdges" fill="none">
<path d="M822.5,777.5 H1089 M1088.5,542 V778"/>
<path d="M1084,699.5 H1089"/>
<path d="M1084,620.5 H1089"/>
<path d="M1084,542.5 H1089"/>
<path d="M1086,738.5 H1089"/>
<path d="M1086,659.5 H1089"/>
<path d="M1086,581.5 H1089"/>
<path d="M822.5,777 V780"/>
<path d="M867.5,777 V780"/>
<path d="M911.5,777 V780"/>
<path d="M955.5,777 V780"/>
<path d="M1000.5,777 V780"/>
<path d="M1044.5,777 V780"/>
<path d="M1088.5,777 V780"/>
</g></svg>
<span class="t" style="top:536.07px;font-size:13.5px;line-height:13.5px;color:#d0d0d0;letter-spacing:0.2px;left:1092.00px;">30</span>
<span class="t" style="top:613.87px;font-size:13.5px;line-height:13.5px;color:#d0d0d0;letter-spacing:0.2px;left:1092.00px;">20</span>
<span class="t" style="top:692.57px;font-size:13.5px;line-height:13.5px;color:#d0d0d0;letter-spacing:0.2px;left:1092.00px;">10</span>
<span class="t" style="top:782.07px;font-size:13.5px;line-height:13.5px;color:#d0d0d0;letter-spacing:0.2px;left:819.80px;">60</span>
<span class="t" style="top:782.07px;font-size:13.5px;line-height:13.5px;color:#d0d0d0;letter-spacing:0.2px;left:864.00px;">50</span>
<span class="t" style="top:782.07px;font-size:13.5px;line-height:13.5px;color:#d0d0d0;letter-spacing:0.2px;left:908.30px;">40</span>
<span class="t" style="top:782.07px;font-size:13.5px;line-height:13.5px;color:#d0d0d0;letter-spacing:0.2px;left:952.80px;">30</span>
<span class="t" style="top:782.07px;font-size:13.5px;line-height:13.5px;color:#d0d0d0;letter-spacing:0.2px;left:996.70px;">20</span>
<span class="t" style="top:782.07px;font-size:13.5px;line-height:13.5px;color:#d0d0d0;letter-spacing:0.2px;left:1041.00px;">10</span>
<span class="t" style="top:782.07px;font-size:13.5px;line-height:13.5px;color:#d0d0d0;letter-spacing:0.2px;left:1086.80px;">0</span>
<span class="t" style="top:782.07px;font-size:13.5px;line-height:13.5px;color:#d0d0d0;letter-spacing:0.2px;left:1100.30px;">min</span>
</body></html>
